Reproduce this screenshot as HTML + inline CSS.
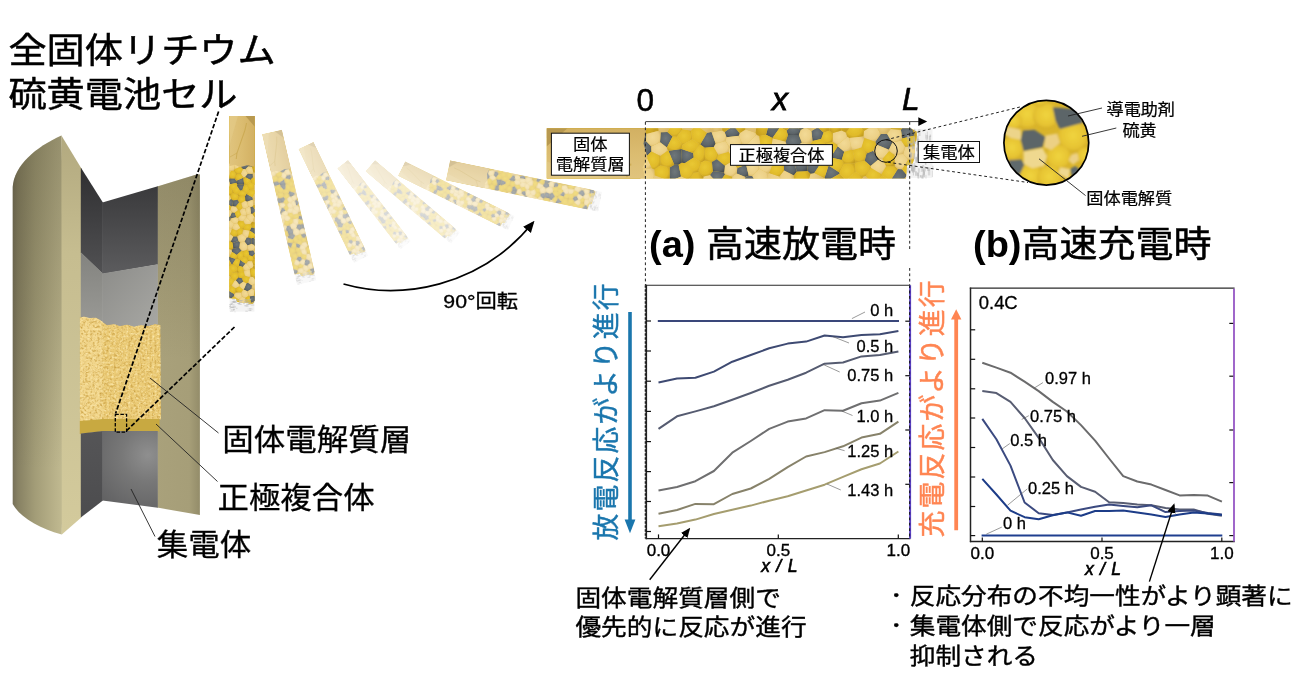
<!DOCTYPE html>
<html lang="ja"><head><meta charset="utf-8"><title>全固体リチウム硫黄電池セル</title>
<style>
html,body{margin:0;padding:0;background:#fff;}
body{width:1299px;height:688px;overflow:hidden;font-family:"Liberation Sans","Noto Sans CJK JP",sans-serif;}
svg{display:block;will-change:transform;}
</style></head><body>
<svg width="1299" height="688" viewBox="0 0 1299 688">
<rect width="1299" height="688" fill="#fff"/>
<defs>
<linearGradient id="gEl" x1="0" y1="0" x2="0" y2="1">
 <stop offset="0" stop-color="#d2b062"/><stop offset=".5" stop-color="#dbbc70"/><stop offset="1" stop-color="#e0c47e"/>
</linearGradient>
<radialGradient id="cy" cx=".45" cy=".42" r=".62"><stop offset="0" stop-color="#e9c832"/><stop offset=".7" stop-color="#e0ba2a"/><stop offset="1" stop-color="#c59e21"/></radialGradient>
<radialGradient id="cb" cx=".45" cy=".42" r=".62"><stop offset="0" stop-color="#f2da96"/><stop offset=".7" stop-color="#ecd086"/><stop offset="1" stop-color="#d9b868"/></radialGradient>
<radialGradient id="cg" cx=".45" cy=".42" r=".62"><stop offset="0" stop-color="#6f777b"/><stop offset=".7" stop-color="#5d6569"/><stop offset="1" stop-color="#4a5054"/></radialGradient>
<clipPath id="cpStrip"><polygon points="0.0,-25.2 364.0,-25.2 370.0,-22.0 370.5,-14.0 368.0,-10.0 368.3,-2.0 367.5,6.0 366.0,10.0 360.5,12.0 359.5,25.2 0.0,25.2"/></clipPath>
<filter id="fSoft" x="-5%" y="-20%" width="110%" height="140%"><feGaussianBlur stdDeviation="0.5"/></filter>
<linearGradient id="gShellL" gradientUnits="userSpaceOnUse" x1="12" y1="0" x2="62.4" y2="0">
 <stop offset="0" stop-color="#746e57"/><stop offset=".12" stop-color="#878163"/><stop offset=".45" stop-color="#a29c77"/>
 <stop offset=".85" stop-color="#b9b28a"/><stop offset="1" stop-color="#c1ba91"/>
</linearGradient>
<linearGradient id="gTopShade" gradientUnits="userSpaceOnUse" x1="0" y1="135" x2="0" y2="470">
 <stop offset="0" stop-color="#3a3520" stop-opacity=".3"/><stop offset=".5" stop-color="#3a3520" stop-opacity=".16"/><stop offset="1" stop-color="#3a3520" stop-opacity="0"/>
</linearGradient>
<linearGradient id="gTopShade2" gradientUnits="userSpaceOnUse" x1="0" y1="174" x2="0" y2="360">
 <stop offset="0" stop-color="#3a3520" stop-opacity=".2"/><stop offset="1" stop-color="#3a3520" stop-opacity="0"/>
</linearGradient>
<linearGradient id="gCut" gradientUnits="userSpaceOnUse" x1="0" y1="135" x2="0" y2="530">
 <stop offset="0" stop-color="#b2a97f"/><stop offset=".3" stop-color="#c6bd90"/><stop offset="1" stop-color="#d3ca9c"/>
</linearGradient>
<linearGradient id="gShellR" gradientUnits="userSpaceOnUse" x1="157" y1="0" x2="200" y2="0">
 <stop offset="0" stop-color="#a9a17b"/><stop offset=".75" stop-color="#a69e78"/><stop offset="1" stop-color="#938c69"/>
</linearGradient>
<linearGradient id="gDarkT" x1="0" y1="0" x2="0" y2="1">
 <stop offset="0" stop-color="#3a3a3c"/><stop offset="1" stop-color="#5c5c5e"/>
</linearGradient>
<linearGradient id="gDarkTL" x1="0" y1="0" x2="0" y2="1">
 <stop offset="0" stop-color="#2f2f31"/><stop offset="1" stop-color="#515153"/>
</linearGradient>
<linearGradient id="gMid" x1="0" y1="0" x2="1" y2="1">
 <stop offset="0" stop-color="#8c8c89"/><stop offset="1" stop-color="#a8a8a4"/>
</linearGradient>
<linearGradient id="gMidL" x1="0" y1="0" x2="0" y2="1">
 <stop offset="0" stop-color="#83837f"/><stop offset="1" stop-color="#9a9a96"/>
</linearGradient>
<radialGradient id="gCC" gradientUnits="userSpaceOnUse" cx="148" cy="455" r="75">
 <stop offset="0" stop-color="#8f8f8f"/><stop offset=".35" stop-color="#787878"/><stop offset="1" stop-color="#5a5a5c"/>
</radialGradient>
<linearGradient id="gCCL" x1="0" y1="0" x2="0" y2="1">
 <stop offset="0" stop-color="#555557"/><stop offset="1" stop-color="#4c4c4e"/>
</linearGradient>
<filter id="fGrain" x="0" y="0" width="100%" height="100%" color-interpolation-filters="sRGB">
 <feTurbulence type="fractalNoise" baseFrequency="0.42" numOctaves="2" seed="3" result="n"/>
 <feColorMatrix in="n" type="matrix" values="0 0 0 0 0.80  0 0 0 0 0.64  0 0 0 0 0.28  2.4 0 0 0 -1.05" result="d"/>
 <feColorMatrix in="n" type="matrix" values="0 0 0 0 0.98  0 0 0 0 0.90  0 0 0 0 0.66  0 -2.4 0 0 1.3" result="l"/>
 <feMerge result="m"><feMergeNode in="SourceGraphic"/><feMergeNode in="d"/><feMergeNode in="l"/></feMerge>
 <feComposite in="m" in2="SourceGraphic" operator="in"/>
</filter>
<filter id="fBlurC" x="-10%" y="-10%" width="120%" height="120%"><feGaussianBlur stdDeviation="1.1"/></filter>
<radialGradient id="gLobe" cx=".5" cy=".45" r=".55"><stop offset="0" stop-color="#f0d43e"/><stop offset=".75" stop-color="#e6c332"/><stop offset="1" stop-color="#d3ad28"/></radialGradient>
<clipPath id="cpBig"><circle cx="1046.3" cy="142.7" r="42.2"/></clipPath>
<marker id="mk" viewBox="0 0 10 10" refX="8" refY="5" markerWidth="7" markerHeight="7" orient="auto"><path d="M0,0.8 L10,5 L0,9.2 Z" fill="#000"/></marker>
</defs>

<g id="cell3d">
<path d="M12.7,187 C14,165 36,147 61.4,135.4 L62.4,180 L62.4,500 L61.8,534.5 C38,528 20,517 12.7,504 Z" fill="url(#gShellL)"/>
<path d="M12.7,187 C14,165 36,147 61.4,135.4 L62.4,180 L62.4,470 L12.7,470 Z" fill="url(#gTopShade)"/>
<polygon points="61.4,135.4 81.3,168.2 81.3,517.4 61.8,534.5" fill="url(#gCut)"/>
<polygon points="157.2,186.5 197.3,174.2 199.9,174.6 199.9,515 157.2,507.6" fill="url(#gShellR)"/>
<polygon points="157.2,186.5 197.3,174.2 199.9,174.6 199.9,360 157.2,360" fill="url(#gTopShade2)"/>
<polygon points="80.8,167.5 102.9,202.6 102.9,274 80.8,252.8" fill="url(#gDarkTL)"/>
<polygon points="102.4,202.6 157.8,186.3 157.8,264.6 102.4,274" fill="url(#gDarkT)"/>
<polygon points="80.8,252.3 102.9,273.5 102.9,327 80.8,324" fill="url(#gMidL)"/>
<polygon points="102.4,273.5 157.8,264.2 157.8,330 102.4,330" fill="url(#gMid)"/>
<g filter="url(#fGrain)"><path d="M102,321.5 L107,325 L114,324 L120,326 L127,324.5 L134,326.5 L141,325 L148,326 L155,324 L160.5,325 L161,419.5 L102,419.5 Z" fill="#ebcb76"/>
<path d="M79.8,317.5 L84,316.5 L90,318 L96,317.5 L102.6,321.5 L102.6,419.5 L79.8,421.5 Z" fill="#f1d58a"/></g>
<polygon points="79.8,421 102.3,419 159.5,419 159.5,431.5 102.3,431.5 79.8,434" fill="#c8a941"/>
<polygon points="80.8,433.5 102.9,431 102.9,500.5 80.8,517.6" fill="url(#gCCL)"/>
<polygon points="102.4,431 157.8,431 157.8,507.7 102.4,500.5" fill="url(#gCC)"/>
</g>
<g stroke="#000" stroke-width="1.7" fill="none" stroke-dasharray="4.6 2">
<line x1="218.6" y1="111.5" x2="115.6" y2="413.5"/>
<line x1="234.5" y1="327" x2="126.8" y2="430.5"/>
<rect x="115.3" y="414.3" width="11.3" height="17.8" stroke-width="1.3" stroke-dasharray="3.5 1.6"/>
</g>
<g stroke="#222" stroke-width="0.9" fill="none">
<line x1="150" y1="378" x2="218.5" y2="433"/>
<line x1="156" y1="424" x2="217.5" y2="481.5"/>
<line x1="131" y1="489" x2="155" y2="536.5"/>
</g>

<g transform="translate(242.0,116.0) rotate(90.0) scale(0.507)" opacity="1.00"><rect x="360" y="-24.5" width="26" height="49" fill="#e9e9e9" opacity=".55"/><g clip-path="url(#cpStrip)"><rect x="0" y="-26" width="372" height="52" fill="#e3c451"/>
<g filter="url(#fSoft)"><polygon points="120.4,-6.0 113.5,-11.2 114.2,-21.2 120.9,-21.5 126.1,-16.9" fill="url(#cg)"/><polygon points="158.2,-5.7 153.7,-8.9 153.7,-8.9 160.5,-20.6 164.5,-21.5 165.2,-21.2 169.2,-9.7 167.3,-6.5" fill="url(#cg)"/><polygon points="146.7,-0.5 135.0,-4.4 135.4,9.4 138.3,9.9 147.2,4.1" fill="url(#cg)"/><polygon points="127.7,11.4 132.1,11.4 134.6,23.0 123.2,28.0 123.0,27.6 123.2,14.1" fill="url(#cg)"/><polygon points="180.0,-16.2 192.6,-17.7 193.3,-20.2 187.0,-27.8 178.1,-21.4" fill="url(#cg)"/><polygon points="177.6,19.0 178.5,21.0 171.8,31.0 163.4,21.7 166.5,17.5" fill="url(#cg)"/><polygon points="226.0,-42.5 219.5,-18.7 226.0,-15.3 233.6,-26.1" fill="url(#cg)"/><polygon points="252.4,-18.5 241.4,-18.3 239.0,-11.7 240.1,-8.7 247.6,-4.7 255.4,-11.0" fill="url(#cg)"/><polygon points="277.1,-20.8 271.2,-26.1 264.9,-22.3 266.0,-12.5 274.7,-14.4" fill="url(#cg)"/><polygon points="284.2,3.6 284.3,4.0 295.2,6.5 297.8,-1.6 291.2,-7.1" fill="url(#cg)"/><polygon points="293.0,19.0 293.2,20.3 280.0,27.9 277.9,24.5 282.1,12.1" fill="url(#cg)"/><polygon points="332.5,5.5 326.7,-2.6 320.0,0.1 318.1,7.3 324.1,12.5" fill="url(#cg)"/><polygon points="340.6,-19.4 334.2,-19.5 328.8,-11.7 329.7,-8.9 342.4,-3.6 345.9,-10.9" fill="url(#cg)"/><polygon points="355.7,-15.0 368.3,-17.8 365.4,-25.4 355.8,-25.4 354.4,-23.6" fill="url(#cg)"/><polygon points="202.2,22.1 199.6,11.2 190.8,14.5 190.1,20.1 198.9,23.7" fill="url(#cg)"/><polygon points="237.5,17.1 237.4,9.3 246.6,6.7 250.4,18.2 247.4,22.0" fill="url(#cg)"/><polygon points="351.3,15.5 343.8,27.4 348.6,39.6 360.5,21.8 355.5,15.8" fill="url(#cg)"/><polygon points="282.9,-22.7 282.3,-63.2 281.0,-71.8 271.2,-26.1 277.1,-20.8" fill="url(#cy)"/><polygon points="187.0,-27.8 193.0,-84.6 199.2,-24.0 193.3,-20.2" fill="url(#cy)"/><polygon points="92.5,-9.0 91.4,3.4 99.9,3.1 104.9,-1.9 104.8,-7.0 99.5,-12.5" fill="url(#cg)"/><polygon points="121.5,-2.8 113.9,2.7 104.9,-1.9 104.8,-7.0 113.5,-11.2 120.4,-6.0" fill="url(#cb)"/><polygon points="277.9,24.5 280.0,27.9 263.3,612.2 255.6,753.5 245.5,369.5 248.1,76.8 264.0,20.3 267.9,19.7" fill="url(#cb)"/><polygon points="202.2,22.1 205.8,22.7 215.5,38.9 245.5,369.5 255.6,753.5 254.8,852.3 250.0,860.5 167.2,736.8 190.7,51.6 198.9,23.7" fill="url(#cg)"/><polygon points="130.3,-16.6 136.1,-24.2 128.8,-35.9 120.9,-21.5 126.1,-16.9" fill="url(#cy)"/><polygon points="317.8,-15.3 328.8,-11.7 334.2,-19.5 328.5,-29.1 317.4,-22.3 316.9,-16.9" fill="url(#cb)"/><polygon points="274.7,-14.4 266.0,-12.5 263.9,-9.6 266.5,-0.8 277.9,-2.5 280.0,-9.8" fill="url(#cy)"/><polygon points="102.8,-109.9 95.2,-24.5 99.9,-19.4 112.3,-22.7" fill="url(#cy)"/><polygon points="170.3,5.9 178.4,12.3 185.7,7.9 186.4,4.7 182.1,-1.7 171.8,1.3" fill="url(#cy)"/><polygon points="286.3,-20.4 295.1,-22.9 299.4,-20.8 300.8,-16.7 290.9,-8.5 286.1,-11.7" fill="url(#cb)"/><polygon points="237.5,17.1 247.4,22.0 247.4,72.0 232.8,23.2" fill="url(#cb)"/><polygon points="299.4,-20.8 308.6,-32.3 317.4,-22.3 316.9,-16.9 302.6,-15.4 300.8,-16.7" fill="url(#cy)"/><polygon points="105.4,14.8 93.5,16.3 89.8,4.5 91.4,3.4 99.9,3.1" fill="url(#cb)"/><polygon points="261.3,17.5 250.4,18.2 247.4,22.0 247.4,72.0 248.1,76.8 264.0,20.3" fill="url(#cy)"/><polygon points="263.9,-9.6 266.5,-0.8 265.9,1.0 260.0,5.8 249.2,3.8 247.6,-4.7 255.4,-11.0" fill="url(#cb)"/><polygon points="371.7,1.6 366.8,6.1 361.6,6.3 356.7,0.5 358.8,-6.7 368.2,-7.2 371.9,-2.2" fill="url(#cb)"/><polygon points="324.5,14.4 319.1,22.8 327.6,30.7 335.4,22.2 334.9,20.5" fill="url(#cy)"/><polygon points="214.2,-5.7 207.4,-2.4 199.1,-8.3 210.0,-18.6 212.9,-17.4" fill="url(#cb)"/><polygon points="135.9,-8.4 145.8,-14.2 144.5,-23.0 136.1,-24.2 130.3,-16.6" fill="url(#cy)"/><polygon points="220.7,3.3 222.0,-1.1 224.1,-2.3 232.6,-0.7 237.2,9.2 226.0,11.5" fill="url(#cy)"/><polygon points="92.5,-9.0 91.4,3.4 89.8,4.5 -343.0,-5.0 73.1,-16.7" fill="url(#cy)"/><polygon points="274.1,10.2 265.9,1.0 260.0,5.8 261.3,17.5 264.0,20.3 267.9,19.7" fill="url(#cg)"/><polygon points="339.6,12.9 348.4,12.8 351.3,15.5 343.8,27.4 335.4,22.2 334.9,20.5" fill="url(#cy)"/><polygon points="335.8,5.6 342.6,-2.5 348.2,1.6 348.4,12.8 339.6,12.9" fill="url(#cy)"/><polygon points="335.4,22.2 343.8,27.4 348.6,39.6 356.8,705.8 320.2,757.6 327.6,30.7" fill="url(#cy)"/><polygon points="121.9,-2.6 127.7,11.4 132.1,11.4 135.4,9.4 135.0,-4.4 135.0,-4.5" fill="url(#cg)"/><polygon points="158.2,-5.7 153.7,-8.9 146.7,-0.5 147.2,4.1 154.7,9.2 158.6,7.0" fill="url(#cy)"/><polygon points="299.5,27.1 293.2,20.3 280.0,27.9 263.3,612.2 303.0,52.0" fill="url(#cy)"/><polygon points="360.5,21.8 365.5,22.7 568.4,418.0 356.8,705.8 348.6,39.6" fill="url(#cb)"/><polygon points="153.7,-8.9 160.5,-20.6 149.4,-28.3 144.5,-23.0 145.8,-14.2" fill="url(#cy)"/><polygon points="332.5,5.5 326.7,-2.6 329.7,-8.9 342.4,-3.6 342.6,-2.5 335.8,5.6" fill="url(#cb)"/><polygon points="309.0,18.3 308.1,10.2 309.0,9.1 318.1,7.3 324.1,12.5 324.5,14.4 319.1,22.8 316.8,23.3" fill="url(#cy)"/><polygon points="132.1,11.4 134.6,23.0 141.7,26.5 147.7,19.4 138.3,9.9 135.4,9.4" fill="url(#cy)"/><polygon points="361.6,6.3 355.5,15.8 360.5,21.8 365.5,22.7 371.4,16.9 366.8,6.1" fill="url(#cy)"/><polygon points="371.7,1.6 399.5,16.9 371.4,16.9 366.8,6.1" fill="url(#cy)"/><polygon points="254.3,-23.5 246.4,-29.5 240.0,-22.7 241.4,-18.3 252.4,-18.5" fill="url(#cg)"/><polygon points="212.8,15.4 205.8,22.7 215.5,38.9 221.8,20.0" fill="url(#cb)"/><polygon points="180.0,-16.2 179.1,-12.5 169.2,-9.7 165.2,-21.2 175.8,-22.9 178.1,-21.4" fill="url(#cb)"/><polygon points="182.9,-6.0 195.4,-9.7 197.6,-8.1 194.9,2.1 186.4,4.7 182.1,-1.7" fill="url(#cb)"/><polygon points="354.8,-12.9 358.8,-6.7 356.7,0.5 348.2,1.6 342.6,-2.5 342.4,-3.6 345.9,-10.9" fill="url(#cb)"/><polygon points="226.0,-42.5 219.8,-86.1 199.1,-630.2 196.6,-763.1 196.8,-779.6 222.8,-820.5 246.4,-29.5 240.0,-22.7 233.6,-26.1" fill="url(#cy)"/><polygon points="103.1,-319.1 92.0,-636.6 196.8,-779.6 196.6,-763.1 167.0,-165.2 149.4,-28.3 144.5,-23.0 136.1,-24.2 128.8,-35.9" fill="url(#cb)"/><polygon points="309.0,9.1 318.1,7.3 320.0,0.1 314.9,-6.0 306.1,-3.4" fill="url(#cy)"/><polygon points="299.5,27.1 309.0,18.3 316.8,23.3 303.0,52.0" fill="url(#cy)"/><polygon points="221.8,20.0 215.5,38.9 245.5,369.5 248.1,76.8 247.4,72.0 232.8,23.2 222.7,19.6" fill="url(#cb)"/><polygon points="226.0,-42.5 219.8,-86.1 208.9,-20.6 210.0,-18.6 212.9,-17.4 219.5,-18.7" fill="url(#cy)"/><polygon points="151.5,18.5 147.7,19.4 141.7,26.5 149.5,193.7 157.2,23.0" fill="url(#cy)"/><polygon points="211.2,9.3 206.9,6.9 207.4,-2.4 214.2,-5.7 222.0,-1.1 220.7,3.3" fill="url(#cy)"/><polygon points="282.3,-63.2 295.1,-22.9 299.4,-20.8 308.6,-32.3 281.5,-637.0 277.3,-209.7 281.0,-71.8" fill="url(#cy)"/><polygon points="368.3,-17.8 370.2,-16.6 415.1,-26.1 771.8,-148.6 569.6,-416.0 365.4,-25.4" fill="url(#cy)"/><polygon points="260.0,5.8 249.2,3.8 246.6,6.7 250.4,18.2 261.3,17.5" fill="url(#cg)"/><polygon points="340.6,-19.4 334.2,-19.5 328.5,-29.1 336.4,-67.1 344.4,-24.5" fill="url(#cb)"/><polygon points="219.5,-18.7 212.9,-17.4 214.2,-5.7 222.0,-1.1 224.1,-2.3 226.3,-14.9 226.0,-15.3" fill="url(#cy)"/><polygon points="92.5,-9.0 99.5,-12.5 99.9,-19.4 95.2,-24.5 73.1,-16.7" fill="url(#cg)"/><polygon points="297.8,-1.6 305.4,-3.8 306.1,-3.4 309.0,9.1 308.1,10.2 297.6,10.3 295.2,6.5" fill="url(#cy)"/><polygon points="113.8,11.8 107.8,16.1 108.2,22.1 123.0,27.6 123.2,14.1" fill="url(#cy)"/><polygon points="197.6,-8.1 199.1,-8.3 207.4,-2.4 206.9,6.9 201.2,8.2 194.9,2.1" fill="url(#cb)"/><polygon points="371.9,-2.2 415.1,-26.1 370.2,-16.6 368.2,-7.2" fill="url(#cb)"/><polygon points="157.2,23.0 149.5,193.7 153.8,717.9 166.1,735.2 171.8,31.0 163.4,21.7" fill="url(#cb)"/><polygon points="233.6,-26.1 240.0,-22.7 241.4,-18.3 239.0,-11.7 226.3,-14.9 226.0,-15.3" fill="url(#cy)"/><polygon points="107.8,16.1 108.2,22.1 98.8,37.8 91.8,19.1 93.5,16.3 105.4,14.8" fill="url(#cb)"/><polygon points="232.6,-0.7 240.1,-8.7 247.6,-4.7 249.2,3.8 246.6,6.7 237.4,9.3 237.2,9.2" fill="url(#cb)"/><polygon points="114.2,-21.2 113.5,-11.2 104.8,-7.0 99.5,-12.5 99.9,-19.4 112.3,-22.7" fill="url(#cb)"/><polygon points="158.6,7.0 154.7,9.2 151.5,18.5 157.2,23.0 163.4,21.7 166.5,17.5 165.4,8.7" fill="url(#cy)"/><polygon points="277.3,-209.7 259.0,-26.0 254.3,-23.5 246.4,-29.5 222.8,-820.5 250.0,-864.1 280.1,-816.2 281.5,-637.0" fill="url(#cg)"/><polygon points="284.3,4.0 281.2,10.0 282.1,12.1 293.0,19.0 297.6,10.3 295.2,6.5" fill="url(#cy)"/><polygon points="354.8,-12.9 345.9,-10.9 340.6,-19.4 344.4,-24.5 354.4,-23.6 355.7,-15.0" fill="url(#cb)"/><polygon points="121.9,-2.6 135.0,-4.5 135.9,-8.4 130.3,-16.6 126.1,-16.9 120.4,-6.0 121.5,-2.8" fill="url(#cy)"/><polygon points="158.2,-5.7 158.6,7.0 165.4,8.7 170.3,5.9 171.8,1.3 167.3,-6.5" fill="url(#cy)"/><polygon points="175.8,-22.9 167.7,-131.8 164.5,-21.5 165.2,-21.2" fill="url(#cb)"/><polygon points="180.0,-16.2 179.1,-12.5 182.9,-6.0 195.4,-9.7 192.6,-17.7" fill="url(#cb)"/><polygon points="193.3,-20.2 199.2,-24.0 208.9,-20.6 210.0,-18.6 199.1,-8.3 197.6,-8.1 195.4,-9.7 192.6,-17.7" fill="url(#cb)"/><polygon points="286.1,-11.7 290.9,-8.5 291.2,-7.1 284.2,3.6 277.9,-2.5 280.0,-9.8" fill="url(#cy)"/><polygon points="344.4,-24.5 336.4,-67.1 343.5,-203.0 355.8,-25.4 354.4,-23.6" fill="url(#cy)"/><polygon points="371.4,16.9 365.5,22.7 568.4,418.0 802.0,110.9 399.5,16.9" fill="url(#cb)"/><polygon points="98.8,37.8 10.2,530.2 -371.7,57.7 91.8,19.1" fill="url(#cy)"/><polygon points="121.9,-2.6 127.7,11.4 123.2,14.1 113.8,11.8 113.9,2.7 121.5,-2.8" fill="url(#cy)"/><polygon points="297.6,10.3 308.1,10.2 309.0,18.3 299.5,27.1 293.2,20.3 293.0,19.0" fill="url(#cy)"/><polygon points="102.8,-109.9 95.2,-24.5 73.1,-16.7 -343.0,-5.0 -415.5,-4.5 92.0,-636.6 103.1,-319.1" fill="url(#cy)"/><polygon points="264.9,-22.3 266.0,-12.5 263.9,-9.6 255.4,-11.0 252.4,-18.5 254.3,-23.5 259.0,-26.0" fill="url(#cb)"/><polygon points="284.2,3.6 284.3,4.0 281.2,10.0 274.1,10.2 265.9,1.0 266.5,-0.8 277.9,-2.5" fill="url(#cy)"/><polygon points="190.8,14.5 185.7,7.9 178.4,12.3 177.6,19.0 178.5,21.0 185.6,23.3 190.1,20.1" fill="url(#cb)"/><polygon points="332.5,5.5 324.1,12.5 324.5,14.4 334.9,20.5 339.6,12.9 335.8,5.6" fill="url(#cb)"/><polygon points="102.8,-109.9 112.3,-22.7 114.2,-21.2 120.9,-21.5 128.8,-35.9 103.1,-319.1" fill="url(#cb)"/><polygon points="185.6,23.3 190.7,51.6 167.2,736.8 166.1,735.2 171.8,31.0 178.5,21.0" fill="url(#cy)"/><polygon points="212.8,15.4 205.8,22.7 202.2,22.1 199.6,11.2 201.2,8.2 206.9,6.9 211.2,9.3" fill="url(#cb)"/><polygon points="317.8,-15.3 328.8,-11.7 329.7,-8.9 326.7,-2.6 320.0,0.1 314.9,-6.0" fill="url(#cy)"/><polygon points="93.5,16.3 91.8,19.1 -371.7,57.7 -419.5,-0.0 -415.5,-4.5 -343.0,-5.0 89.8,4.5" fill="url(#cy)"/><polygon points="198.9,23.7 190.7,51.6 185.6,23.3 190.1,20.1" fill="url(#cb)"/><polygon points="361.6,6.3 355.5,15.8 351.3,15.5 348.4,12.8 348.2,1.6 356.7,0.5" fill="url(#cb)"/><polygon points="141.7,26.5 149.5,193.7 153.8,717.9 145.9,707.3 123.2,28.0 134.6,23.0" fill="url(#cb)"/><polygon points="160.5,-20.6 149.4,-28.3 167.0,-165.2 167.7,-131.8 164.5,-21.5" fill="url(#cb)"/><polygon points="300.8,-16.7 302.6,-15.4 305.4,-3.8 297.8,-1.6 291.2,-7.1 290.9,-8.5" fill="url(#cb)"/><polygon points="199.2,-24.0 208.9,-20.6 219.8,-86.1 199.1,-630.2 193.0,-84.6" fill="url(#cb)"/><polygon points="113.9,2.7 104.9,-1.9 99.9,3.1 105.4,14.8 107.8,16.1 113.8,11.8" fill="url(#cy)"/><polygon points="146.7,-0.5 135.0,-4.4 135.0,-4.5 135.9,-8.4 145.8,-14.2 153.7,-8.9 153.7,-8.9" fill="url(#cy)"/><polygon points="281.5,-637.0 280.1,-816.2 353.3,-710.0 343.5,-203.0 336.4,-67.1 328.5,-29.1 317.4,-22.3 308.6,-32.3" fill="url(#cy)"/><polygon points="212.8,15.4 221.8,20.0 222.7,19.6 226.0,11.5 220.7,3.3 211.2,9.3" fill="url(#cb)"/><polygon points="123.0,27.6 108.2,22.1 98.8,37.8 10.2,530.2 145.9,707.3 123.2,28.0" fill="url(#cb)"/><polygon points="167.3,-6.5 169.2,-9.7 179.1,-12.5 182.9,-6.0 182.1,-1.7 171.8,1.3" fill="url(#cb)"/><polygon points="199.6,11.2 201.2,8.2 194.9,2.1 186.4,4.7 185.7,7.9 190.8,14.5" fill="url(#cy)"/><polygon points="147.2,4.1 138.3,9.9 147.7,19.4 151.5,18.5 154.7,9.2" fill="url(#cy)"/><polygon points="302.6,-15.4 316.9,-16.9 317.8,-15.3 314.9,-6.0 306.1,-3.4 305.4,-3.8" fill="url(#cb)"/><polygon points="178.1,-21.4 175.8,-22.9 167.7,-131.8 167.0,-165.2 196.6,-763.1 199.1,-630.2 193.0,-84.6 187.0,-27.8" fill="url(#cy)"/><polygon points="224.1,-2.3 232.6,-0.7 240.1,-8.7 239.0,-11.7 226.3,-14.9" fill="url(#cb)"/><polygon points="281.0,-71.8 277.3,-209.7 259.0,-26.0 264.9,-22.3 271.2,-26.1" fill="url(#cb)"/><polygon points="222.7,19.6 232.8,23.2 237.5,17.1 237.4,9.3 237.2,9.2 226.0,11.5" fill="url(#cy)"/><polygon points="282.1,12.1 277.9,24.5 267.9,19.7 274.1,10.2 281.2,10.0" fill="url(#cy)"/><polygon points="282.9,-22.7 277.1,-20.8 274.7,-14.4 280.0,-9.8 286.1,-11.7 286.3,-20.4" fill="url(#cy)"/><polygon points="354.8,-12.9 358.8,-6.7 368.2,-7.2 370.2,-16.6 368.3,-17.8 355.7,-15.0" fill="url(#cy)"/><polygon points="170.3,5.9 178.4,12.3 177.6,19.0 166.5,17.5 165.4,8.7" fill="url(#cg)"/><polygon points="282.9,-22.7 282.3,-63.2 295.1,-22.9 286.3,-20.4" fill="url(#cy)"/><polygon points="371.7,1.6 399.5,16.9 802.0,110.9 891.6,-0.0 771.8,-148.6 415.1,-26.1 371.9,-2.2" fill="url(#cb)"/><polygon points="303.0,52.0 263.3,612.2 255.6,753.5 254.8,852.3 320.2,757.6 327.6,30.7 319.1,22.8 316.8,23.3" fill="url(#cb)"/></g>
<polygon points="0,-25.2 92,-25.2 100,-25.2 97,-10 101,4 96,14 99,25.2 0,25.2" fill="url(#gEl)"/>
<polygon points="0,-25.2 21,-25.2 0,-7" fill="#b3944c" opacity=".85"/>
<polyline points="13.8,-8.9 27.6,-5.9 73,9.9 84.8,11.4" fill="none" stroke="#c4a347" stroke-width="2" opacity=".65"/>
<polyline points="80.9,23.7 73,9.9" fill="none" stroke="#c4a347" stroke-width="1.6" opacity=".55"/>
<polygon points="0,25.2 0,8 60,25.2" fill="#e6cd8c" opacity=".5"/>
</g>
<rect x="375.7" y="11.6" width="1.9" height="2.4" fill="#b5b5b5" opacity="0.47"/><rect x="367.8" y="12.0" width="0.9" height="7.0" fill="#b5b5b5" opacity="0.61"/><rect x="369.5" y="-5.8" width="1.4" height="3.7" fill="#b5b5b5" opacity="0.68"/><rect x="371.7" y="-24.1" width="2.3" height="6.7" fill="#b5b5b5" opacity="0.48"/><rect x="377.0" y="18.4" width="1.5" height="3.0" fill="#b5b5b5" opacity="0.49"/><rect x="361.6" y="-9.5" width="1.1" height="3.2" fill="#b5b5b5" opacity="0.40"/><rect x="377.4" y="13.2" width="2.1" height="4.8" fill="#b5b5b5" opacity="0.40"/><rect x="365.8" y="16.7" width="1.0" height="2.8" fill="#b5b5b5" opacity="0.64"/><rect x="373.1" y="-11.2" width="2.3" height="6.5" fill="#b5b5b5" opacity="0.55"/><rect x="385.6" y="12.4" width="1.4" height="3.1" fill="#b5b5b5" opacity="0.36"/><rect x="384.1" y="-11.6" width="1.6" height="5.1" fill="#b5b5b5" opacity="0.57"/><rect x="365.3" y="-15.6" width="0.9" height="6.1" fill="#b5b5b5" opacity="0.53"/><rect x="364.5" y="10.6" width="1.9" height="6.8" fill="#b5b5b5" opacity="0.61"/><rect x="367.8" y="-24.6" width="0.9" height="4.8" fill="#b5b5b5" opacity="0.69"/><rect x="360.3" y="-19.1" width="1.5" height="5.3" fill="#b5b5b5" opacity="0.52"/><rect x="360.3" y="14.1" width="2.4" height="5.1" fill="#b5b5b5" opacity="0.46"/><rect x="361.1" y="-17.5" width="1.0" height="6.8" fill="#b5b5b5" opacity="0.46"/><rect x="377.2" y="17.3" width="1.2" height="6.5" fill="#b5b5b5" opacity="0.51"/><rect x="380.8" y="14.0" width="2.4" height="3.6" fill="#b5b5b5" opacity="0.62"/><rect x="362.2" y="-9.8" width="1.4" height="5.1" fill="#b5b5b5" opacity="0.67"/><rect x="381.4" y="15.7" width="2.4" height="6.3" fill="#b5b5b5" opacity="0.42"/><rect x="364.5" y="14.1" width="1.9" height="3.8" fill="#b5b5b5" opacity="0.41"/><rect x="361.3" y="-18.1" width="1.4" height="3.5" fill="#b5b5b5" opacity="0.65"/><rect x="370.8" y="0.9" width="2.0" height="6.6" fill="#b5b5b5" opacity="0.30"/><rect x="385.4" y="17.1" width="1.0" height="6.5" fill="#b5b5b5" opacity="0.41"/><rect x="376.4" y="16.3" width="1.3" height="6.9" fill="#b5b5b5" opacity="0.39"/><rect x="382.4" y="-17.6" width="1.9" height="4.9" fill="#b5b5b5" opacity="0.56"/><rect x="366.0" y="13.4" width="1.7" height="4.6" fill="#b5b5b5" opacity="0.54"/><rect x="370.5" y="0.5" width="1.5" height="5.7" fill="#b5b5b5" opacity="0.32"/><rect x="375.6" y="14.3" width="2.1" height="2.8" fill="#b5b5b5" opacity="0.50"/><rect x="375.9" y="16.5" width="1.8" height="2.6" fill="#b5b5b5" opacity="0.56"/><rect x="368.9" y="3.8" width="1.8" height="5.6" fill="#b5b5b5" opacity="0.68"/><rect x="365.5" y="-7.7" width="2.4" height="3.6" fill="#b5b5b5" opacity="0.59"/><rect x="379.1" y="-18.4" width="2.4" height="4.9" fill="#b5b5b5" opacity="0.40"/><rect x="366.6" y="13.9" width="2.2" height="4.5" fill="#b5b5b5" opacity="0.41"/><rect x="370.6" y="19.2" width="2.0" height="3.5" fill="#b5b5b5" opacity="0.60"/><rect x="365.0" y="11.5" width="2.3" height="6.5" fill="#b5b5b5" opacity="0.38"/><rect x="378.8" y="-20.1" width="0.9" height="5.2" fill="#b5b5b5" opacity="0.34"/><rect x="366.8" y="-17.0" width="1.7" height="6.8" fill="#b5b5b5" opacity="0.63"/><rect x="361.4" y="-7.4" width="1.6" height="2.9" fill="#b5b5b5" opacity="0.42"/><rect x="373.5" y="21.7" width="1.0" height="2.3" fill="#b5b5b5" opacity="0.61"/><rect x="374.3" y="12.8" width="1.6" height="5.7" fill="#b5b5b5" opacity="0.42"/><rect x="374.7" y="-13.0" width="1.4" height="5.6" fill="#b5b5b5" opacity="0.35"/><rect x="360.9" y="-11.6" width="1.1" height="2.7" fill="#b5b5b5" opacity="0.41"/><rect x="368.7" y="17.9" width="1.6" height="4.5" fill="#b5b5b5" opacity="0.65"/><rect x="371.2" y="-13.8" width="2.4" height="4.4" fill="#b5b5b5" opacity="0.34"/><rect x="362.1" y="-17.3" width="1.1" height="2.7" fill="#b5b5b5" opacity="0.44"/><rect x="378.8" y="21.5" width="1.3" height="3.7" fill="#b5b5b5" opacity="0.33"/><rect x="369.0" y="3.1" width="1.8" height="4.6" fill="#b5b5b5" opacity="0.31"/><rect x="370.8" y="-17.6" width="1.2" height="5.0" fill="#b5b5b5" opacity="0.69"/><rect x="380.1" y="-13.4" width="1.0" height="2.8" fill="#b5b5b5" opacity="0.38"/><rect x="362.5" y="-4.1" width="0.8" height="4.2" fill="#b5b5b5" opacity="0.59"/><rect x="375.6" y="20.0" width="2.0" height="5.2" fill="#b5b5b5" opacity="0.37"/><rect x="366.9" y="9.6" width="1.8" height="5.5" fill="#b5b5b5" opacity="0.35"/><rect x="370.9" y="19.1" width="1.1" height="5.9" fill="#b5b5b5" opacity="0.54"/><rect x="363.2" y="-1.1" width="1.7" height="5.6" fill="#b5b5b5" opacity="0.66"/><rect x="362.5" y="-16.1" width="2.1" height="6.9" fill="#b5b5b5" opacity="0.36"/><rect x="380.4" y="-21.8" width="0.8" height="7.0" fill="#b5b5b5" opacity="0.61"/><rect x="371.4" y="14.9" width="1.9" height="4.3" fill="#b5b5b5" opacity="0.42"/><rect x="374.3" y="21.9" width="2.2" height="3.1" fill="#b5b5b5" opacity="0.55"/><rect x="383.2" y="-18.8" width="1.4" height="2.4" fill="#b5b5b5" opacity="0.53"/><rect x="360.3" y="8.9" width="2.0" height="3.3" fill="#b5b5b5" opacity="0.37"/><rect x="363.1" y="3.3" width="1.3" height="4.0" fill="#b5b5b5" opacity="0.56"/><rect x="364.4" y="-0.5" width="1.3" height="4.4" fill="#b5b5b5" opacity="0.56"/><rect x="378.4" y="9.2" width="1.5" height="2.1" fill="#b5b5b5" opacity="0.69"/><rect x="371.5" y="22.0" width="1.4" height="3.2" fill="#b5b5b5" opacity="0.37"/><rect x="363.9" y="9.6" width="1.2" height="2.3" fill="#b5b5b5" opacity="0.50"/><rect x="376.7" y="15.9" width="1.0" height="6.0" fill="#b5b5b5" opacity="0.32"/><rect x="367.1" y="-0.1" width="1.5" height="6.0" fill="#b5b5b5" opacity="0.57"/><rect x="365.0" y="-10.9" width="2.3" height="5.3" fill="#b5b5b5" opacity="0.31"/><rect x="370.3" y="-14.8" width="1.9" height="6.5" fill="#b5b5b5" opacity="0.61"/><rect x="363.3" y="6.5" width="1.5" height="5.0" fill="#b5b5b5" opacity="0.65"/><rect x="367.6" y="-12.3" width="1.6" height="2.9" fill="#b5b5b5" opacity="0.64"/><rect x="363.6" y="-10.4" width="2.3" height="2.1" fill="#b5b5b5" opacity="0.69"/><rect x="366.4" y="17.0" width="0.9" height="5.1" fill="#b5b5b5" opacity="0.64"/></g>
<g transform="translate(272.0,132.0) rotate(77.0) scale(0.400)" opacity="0.60"><rect x="360" y="-24.5" width="26" height="49" fill="#e9e9e9" opacity=".55"/><g clip-path="url(#cpStrip)"><rect x="0" y="-26" width="372" height="52" fill="#e3c451"/>
<g filter="url(#fSoft)"><polygon points="120.4,-6.0 113.5,-11.2 114.2,-21.2 120.9,-21.5 126.1,-16.9" fill="url(#cg)"/><polygon points="158.2,-5.7 153.7,-8.9 153.7,-8.9 160.5,-20.6 164.5,-21.5 165.2,-21.2 169.2,-9.7 167.3,-6.5" fill="url(#cg)"/><polygon points="146.7,-0.5 135.0,-4.4 135.4,9.4 138.3,9.9 147.2,4.1" fill="url(#cg)"/><polygon points="127.7,11.4 132.1,11.4 134.6,23.0 123.2,28.0 123.0,27.6 123.2,14.1" fill="url(#cg)"/><polygon points="180.0,-16.2 192.6,-17.7 193.3,-20.2 187.0,-27.8 178.1,-21.4" fill="url(#cg)"/><polygon points="177.6,19.0 178.5,21.0 171.8,31.0 163.4,21.7 166.5,17.5" fill="url(#cg)"/><polygon points="226.0,-42.5 219.5,-18.7 226.0,-15.3 233.6,-26.1" fill="url(#cg)"/><polygon points="252.4,-18.5 241.4,-18.3 239.0,-11.7 240.1,-8.7 247.6,-4.7 255.4,-11.0" fill="url(#cg)"/><polygon points="277.1,-20.8 271.2,-26.1 264.9,-22.3 266.0,-12.5 274.7,-14.4" fill="url(#cg)"/><polygon points="284.2,3.6 284.3,4.0 295.2,6.5 297.8,-1.6 291.2,-7.1" fill="url(#cg)"/><polygon points="293.0,19.0 293.2,20.3 280.0,27.9 277.9,24.5 282.1,12.1" fill="url(#cg)"/><polygon points="332.5,5.5 326.7,-2.6 320.0,0.1 318.1,7.3 324.1,12.5" fill="url(#cg)"/><polygon points="340.6,-19.4 334.2,-19.5 328.8,-11.7 329.7,-8.9 342.4,-3.6 345.9,-10.9" fill="url(#cg)"/><polygon points="355.7,-15.0 368.3,-17.8 365.4,-25.4 355.8,-25.4 354.4,-23.6" fill="url(#cg)"/><polygon points="202.2,22.1 199.6,11.2 190.8,14.5 190.1,20.1 198.9,23.7" fill="url(#cg)"/><polygon points="237.5,17.1 237.4,9.3 246.6,6.7 250.4,18.2 247.4,22.0" fill="url(#cg)"/><polygon points="351.3,15.5 343.8,27.4 348.6,39.6 360.5,21.8 355.5,15.8" fill="url(#cg)"/><polygon points="282.9,-22.7 282.3,-63.2 281.0,-71.8 271.2,-26.1 277.1,-20.8" fill="url(#cy)"/><polygon points="187.0,-27.8 193.0,-84.6 199.2,-24.0 193.3,-20.2" fill="url(#cy)"/><polygon points="92.5,-9.0 91.4,3.4 99.9,3.1 104.9,-1.9 104.8,-7.0 99.5,-12.5" fill="url(#cg)"/><polygon points="121.5,-2.8 113.9,2.7 104.9,-1.9 104.8,-7.0 113.5,-11.2 120.4,-6.0" fill="url(#cb)"/><polygon points="277.9,24.5 280.0,27.9 263.3,612.2 255.6,753.5 245.5,369.5 248.1,76.8 264.0,20.3 267.9,19.7" fill="url(#cb)"/><polygon points="202.2,22.1 205.8,22.7 215.5,38.9 245.5,369.5 255.6,753.5 254.8,852.3 250.0,860.5 167.2,736.8 190.7,51.6 198.9,23.7" fill="url(#cg)"/><polygon points="130.3,-16.6 136.1,-24.2 128.8,-35.9 120.9,-21.5 126.1,-16.9" fill="url(#cy)"/><polygon points="317.8,-15.3 328.8,-11.7 334.2,-19.5 328.5,-29.1 317.4,-22.3 316.9,-16.9" fill="url(#cb)"/><polygon points="274.7,-14.4 266.0,-12.5 263.9,-9.6 266.5,-0.8 277.9,-2.5 280.0,-9.8" fill="url(#cy)"/><polygon points="102.8,-109.9 95.2,-24.5 99.9,-19.4 112.3,-22.7" fill="url(#cy)"/><polygon points="170.3,5.9 178.4,12.3 185.7,7.9 186.4,4.7 182.1,-1.7 171.8,1.3" fill="url(#cy)"/><polygon points="286.3,-20.4 295.1,-22.9 299.4,-20.8 300.8,-16.7 290.9,-8.5 286.1,-11.7" fill="url(#cb)"/><polygon points="237.5,17.1 247.4,22.0 247.4,72.0 232.8,23.2" fill="url(#cb)"/><polygon points="299.4,-20.8 308.6,-32.3 317.4,-22.3 316.9,-16.9 302.6,-15.4 300.8,-16.7" fill="url(#cy)"/><polygon points="105.4,14.8 93.5,16.3 89.8,4.5 91.4,3.4 99.9,3.1" fill="url(#cb)"/><polygon points="261.3,17.5 250.4,18.2 247.4,22.0 247.4,72.0 248.1,76.8 264.0,20.3" fill="url(#cy)"/><polygon points="263.9,-9.6 266.5,-0.8 265.9,1.0 260.0,5.8 249.2,3.8 247.6,-4.7 255.4,-11.0" fill="url(#cb)"/><polygon points="371.7,1.6 366.8,6.1 361.6,6.3 356.7,0.5 358.8,-6.7 368.2,-7.2 371.9,-2.2" fill="url(#cb)"/><polygon points="324.5,14.4 319.1,22.8 327.6,30.7 335.4,22.2 334.9,20.5" fill="url(#cy)"/><polygon points="214.2,-5.7 207.4,-2.4 199.1,-8.3 210.0,-18.6 212.9,-17.4" fill="url(#cb)"/><polygon points="135.9,-8.4 145.8,-14.2 144.5,-23.0 136.1,-24.2 130.3,-16.6" fill="url(#cy)"/><polygon points="220.7,3.3 222.0,-1.1 224.1,-2.3 232.6,-0.7 237.2,9.2 226.0,11.5" fill="url(#cy)"/><polygon points="92.5,-9.0 91.4,3.4 89.8,4.5 -343.0,-5.0 73.1,-16.7" fill="url(#cy)"/><polygon points="274.1,10.2 265.9,1.0 260.0,5.8 261.3,17.5 264.0,20.3 267.9,19.7" fill="url(#cg)"/><polygon points="339.6,12.9 348.4,12.8 351.3,15.5 343.8,27.4 335.4,22.2 334.9,20.5" fill="url(#cy)"/><polygon points="335.8,5.6 342.6,-2.5 348.2,1.6 348.4,12.8 339.6,12.9" fill="url(#cy)"/><polygon points="335.4,22.2 343.8,27.4 348.6,39.6 356.8,705.8 320.2,757.6 327.6,30.7" fill="url(#cy)"/><polygon points="121.9,-2.6 127.7,11.4 132.1,11.4 135.4,9.4 135.0,-4.4 135.0,-4.5" fill="url(#cg)"/><polygon points="158.2,-5.7 153.7,-8.9 146.7,-0.5 147.2,4.1 154.7,9.2 158.6,7.0" fill="url(#cy)"/><polygon points="299.5,27.1 293.2,20.3 280.0,27.9 263.3,612.2 303.0,52.0" fill="url(#cy)"/><polygon points="360.5,21.8 365.5,22.7 568.4,418.0 356.8,705.8 348.6,39.6" fill="url(#cb)"/><polygon points="153.7,-8.9 160.5,-20.6 149.4,-28.3 144.5,-23.0 145.8,-14.2" fill="url(#cy)"/><polygon points="332.5,5.5 326.7,-2.6 329.7,-8.9 342.4,-3.6 342.6,-2.5 335.8,5.6" fill="url(#cb)"/><polygon points="309.0,18.3 308.1,10.2 309.0,9.1 318.1,7.3 324.1,12.5 324.5,14.4 319.1,22.8 316.8,23.3" fill="url(#cy)"/><polygon points="132.1,11.4 134.6,23.0 141.7,26.5 147.7,19.4 138.3,9.9 135.4,9.4" fill="url(#cy)"/><polygon points="361.6,6.3 355.5,15.8 360.5,21.8 365.5,22.7 371.4,16.9 366.8,6.1" fill="url(#cy)"/><polygon points="371.7,1.6 399.5,16.9 371.4,16.9 366.8,6.1" fill="url(#cy)"/><polygon points="254.3,-23.5 246.4,-29.5 240.0,-22.7 241.4,-18.3 252.4,-18.5" fill="url(#cg)"/><polygon points="212.8,15.4 205.8,22.7 215.5,38.9 221.8,20.0" fill="url(#cb)"/><polygon points="180.0,-16.2 179.1,-12.5 169.2,-9.7 165.2,-21.2 175.8,-22.9 178.1,-21.4" fill="url(#cb)"/><polygon points="182.9,-6.0 195.4,-9.7 197.6,-8.1 194.9,2.1 186.4,4.7 182.1,-1.7" fill="url(#cb)"/><polygon points="354.8,-12.9 358.8,-6.7 356.7,0.5 348.2,1.6 342.6,-2.5 342.4,-3.6 345.9,-10.9" fill="url(#cb)"/><polygon points="226.0,-42.5 219.8,-86.1 199.1,-630.2 196.6,-763.1 196.8,-779.6 222.8,-820.5 246.4,-29.5 240.0,-22.7 233.6,-26.1" fill="url(#cy)"/><polygon points="103.1,-319.1 92.0,-636.6 196.8,-779.6 196.6,-763.1 167.0,-165.2 149.4,-28.3 144.5,-23.0 136.1,-24.2 128.8,-35.9" fill="url(#cb)"/><polygon points="309.0,9.1 318.1,7.3 320.0,0.1 314.9,-6.0 306.1,-3.4" fill="url(#cy)"/><polygon points="299.5,27.1 309.0,18.3 316.8,23.3 303.0,52.0" fill="url(#cy)"/><polygon points="221.8,20.0 215.5,38.9 245.5,369.5 248.1,76.8 247.4,72.0 232.8,23.2 222.7,19.6" fill="url(#cb)"/><polygon points="226.0,-42.5 219.8,-86.1 208.9,-20.6 210.0,-18.6 212.9,-17.4 219.5,-18.7" fill="url(#cy)"/><polygon points="151.5,18.5 147.7,19.4 141.7,26.5 149.5,193.7 157.2,23.0" fill="url(#cy)"/><polygon points="211.2,9.3 206.9,6.9 207.4,-2.4 214.2,-5.7 222.0,-1.1 220.7,3.3" fill="url(#cy)"/><polygon points="282.3,-63.2 295.1,-22.9 299.4,-20.8 308.6,-32.3 281.5,-637.0 277.3,-209.7 281.0,-71.8" fill="url(#cy)"/><polygon points="368.3,-17.8 370.2,-16.6 415.1,-26.1 771.8,-148.6 569.6,-416.0 365.4,-25.4" fill="url(#cy)"/><polygon points="260.0,5.8 249.2,3.8 246.6,6.7 250.4,18.2 261.3,17.5" fill="url(#cg)"/><polygon points="340.6,-19.4 334.2,-19.5 328.5,-29.1 336.4,-67.1 344.4,-24.5" fill="url(#cb)"/><polygon points="219.5,-18.7 212.9,-17.4 214.2,-5.7 222.0,-1.1 224.1,-2.3 226.3,-14.9 226.0,-15.3" fill="url(#cy)"/><polygon points="92.5,-9.0 99.5,-12.5 99.9,-19.4 95.2,-24.5 73.1,-16.7" fill="url(#cg)"/><polygon points="297.8,-1.6 305.4,-3.8 306.1,-3.4 309.0,9.1 308.1,10.2 297.6,10.3 295.2,6.5" fill="url(#cy)"/><polygon points="113.8,11.8 107.8,16.1 108.2,22.1 123.0,27.6 123.2,14.1" fill="url(#cy)"/><polygon points="197.6,-8.1 199.1,-8.3 207.4,-2.4 206.9,6.9 201.2,8.2 194.9,2.1" fill="url(#cb)"/><polygon points="371.9,-2.2 415.1,-26.1 370.2,-16.6 368.2,-7.2" fill="url(#cb)"/><polygon points="157.2,23.0 149.5,193.7 153.8,717.9 166.1,735.2 171.8,31.0 163.4,21.7" fill="url(#cb)"/><polygon points="233.6,-26.1 240.0,-22.7 241.4,-18.3 239.0,-11.7 226.3,-14.9 226.0,-15.3" fill="url(#cy)"/><polygon points="107.8,16.1 108.2,22.1 98.8,37.8 91.8,19.1 93.5,16.3 105.4,14.8" fill="url(#cb)"/><polygon points="232.6,-0.7 240.1,-8.7 247.6,-4.7 249.2,3.8 246.6,6.7 237.4,9.3 237.2,9.2" fill="url(#cb)"/><polygon points="114.2,-21.2 113.5,-11.2 104.8,-7.0 99.5,-12.5 99.9,-19.4 112.3,-22.7" fill="url(#cb)"/><polygon points="158.6,7.0 154.7,9.2 151.5,18.5 157.2,23.0 163.4,21.7 166.5,17.5 165.4,8.7" fill="url(#cy)"/><polygon points="277.3,-209.7 259.0,-26.0 254.3,-23.5 246.4,-29.5 222.8,-820.5 250.0,-864.1 280.1,-816.2 281.5,-637.0" fill="url(#cg)"/><polygon points="284.3,4.0 281.2,10.0 282.1,12.1 293.0,19.0 297.6,10.3 295.2,6.5" fill="url(#cy)"/><polygon points="354.8,-12.9 345.9,-10.9 340.6,-19.4 344.4,-24.5 354.4,-23.6 355.7,-15.0" fill="url(#cb)"/><polygon points="121.9,-2.6 135.0,-4.5 135.9,-8.4 130.3,-16.6 126.1,-16.9 120.4,-6.0 121.5,-2.8" fill="url(#cy)"/><polygon points="158.2,-5.7 158.6,7.0 165.4,8.7 170.3,5.9 171.8,1.3 167.3,-6.5" fill="url(#cy)"/><polygon points="175.8,-22.9 167.7,-131.8 164.5,-21.5 165.2,-21.2" fill="url(#cb)"/><polygon points="180.0,-16.2 179.1,-12.5 182.9,-6.0 195.4,-9.7 192.6,-17.7" fill="url(#cb)"/><polygon points="193.3,-20.2 199.2,-24.0 208.9,-20.6 210.0,-18.6 199.1,-8.3 197.6,-8.1 195.4,-9.7 192.6,-17.7" fill="url(#cb)"/><polygon points="286.1,-11.7 290.9,-8.5 291.2,-7.1 284.2,3.6 277.9,-2.5 280.0,-9.8" fill="url(#cy)"/><polygon points="344.4,-24.5 336.4,-67.1 343.5,-203.0 355.8,-25.4 354.4,-23.6" fill="url(#cy)"/><polygon points="371.4,16.9 365.5,22.7 568.4,418.0 802.0,110.9 399.5,16.9" fill="url(#cb)"/><polygon points="98.8,37.8 10.2,530.2 -371.7,57.7 91.8,19.1" fill="url(#cy)"/><polygon points="121.9,-2.6 127.7,11.4 123.2,14.1 113.8,11.8 113.9,2.7 121.5,-2.8" fill="url(#cy)"/><polygon points="297.6,10.3 308.1,10.2 309.0,18.3 299.5,27.1 293.2,20.3 293.0,19.0" fill="url(#cy)"/><polygon points="102.8,-109.9 95.2,-24.5 73.1,-16.7 -343.0,-5.0 -415.5,-4.5 92.0,-636.6 103.1,-319.1" fill="url(#cy)"/><polygon points="264.9,-22.3 266.0,-12.5 263.9,-9.6 255.4,-11.0 252.4,-18.5 254.3,-23.5 259.0,-26.0" fill="url(#cb)"/><polygon points="284.2,3.6 284.3,4.0 281.2,10.0 274.1,10.2 265.9,1.0 266.5,-0.8 277.9,-2.5" fill="url(#cy)"/><polygon points="190.8,14.5 185.7,7.9 178.4,12.3 177.6,19.0 178.5,21.0 185.6,23.3 190.1,20.1" fill="url(#cb)"/><polygon points="332.5,5.5 324.1,12.5 324.5,14.4 334.9,20.5 339.6,12.9 335.8,5.6" fill="url(#cb)"/><polygon points="102.8,-109.9 112.3,-22.7 114.2,-21.2 120.9,-21.5 128.8,-35.9 103.1,-319.1" fill="url(#cb)"/><polygon points="185.6,23.3 190.7,51.6 167.2,736.8 166.1,735.2 171.8,31.0 178.5,21.0" fill="url(#cy)"/><polygon points="212.8,15.4 205.8,22.7 202.2,22.1 199.6,11.2 201.2,8.2 206.9,6.9 211.2,9.3" fill="url(#cb)"/><polygon points="317.8,-15.3 328.8,-11.7 329.7,-8.9 326.7,-2.6 320.0,0.1 314.9,-6.0" fill="url(#cy)"/><polygon points="93.5,16.3 91.8,19.1 -371.7,57.7 -419.5,-0.0 -415.5,-4.5 -343.0,-5.0 89.8,4.5" fill="url(#cy)"/><polygon points="198.9,23.7 190.7,51.6 185.6,23.3 190.1,20.1" fill="url(#cb)"/><polygon points="361.6,6.3 355.5,15.8 351.3,15.5 348.4,12.8 348.2,1.6 356.7,0.5" fill="url(#cb)"/><polygon points="141.7,26.5 149.5,193.7 153.8,717.9 145.9,707.3 123.2,28.0 134.6,23.0" fill="url(#cb)"/><polygon points="160.5,-20.6 149.4,-28.3 167.0,-165.2 167.7,-131.8 164.5,-21.5" fill="url(#cb)"/><polygon points="300.8,-16.7 302.6,-15.4 305.4,-3.8 297.8,-1.6 291.2,-7.1 290.9,-8.5" fill="url(#cb)"/><polygon points="199.2,-24.0 208.9,-20.6 219.8,-86.1 199.1,-630.2 193.0,-84.6" fill="url(#cb)"/><polygon points="113.9,2.7 104.9,-1.9 99.9,3.1 105.4,14.8 107.8,16.1 113.8,11.8" fill="url(#cy)"/><polygon points="146.7,-0.5 135.0,-4.4 135.0,-4.5 135.9,-8.4 145.8,-14.2 153.7,-8.9 153.7,-8.9" fill="url(#cy)"/><polygon points="281.5,-637.0 280.1,-816.2 353.3,-710.0 343.5,-203.0 336.4,-67.1 328.5,-29.1 317.4,-22.3 308.6,-32.3" fill="url(#cy)"/><polygon points="212.8,15.4 221.8,20.0 222.7,19.6 226.0,11.5 220.7,3.3 211.2,9.3" fill="url(#cb)"/><polygon points="123.0,27.6 108.2,22.1 98.8,37.8 10.2,530.2 145.9,707.3 123.2,28.0" fill="url(#cb)"/><polygon points="167.3,-6.5 169.2,-9.7 179.1,-12.5 182.9,-6.0 182.1,-1.7 171.8,1.3" fill="url(#cb)"/><polygon points="199.6,11.2 201.2,8.2 194.9,2.1 186.4,4.7 185.7,7.9 190.8,14.5" fill="url(#cy)"/><polygon points="147.2,4.1 138.3,9.9 147.7,19.4 151.5,18.5 154.7,9.2" fill="url(#cy)"/><polygon points="302.6,-15.4 316.9,-16.9 317.8,-15.3 314.9,-6.0 306.1,-3.4 305.4,-3.8" fill="url(#cb)"/><polygon points="178.1,-21.4 175.8,-22.9 167.7,-131.8 167.0,-165.2 196.6,-763.1 199.1,-630.2 193.0,-84.6 187.0,-27.8" fill="url(#cy)"/><polygon points="224.1,-2.3 232.6,-0.7 240.1,-8.7 239.0,-11.7 226.3,-14.9" fill="url(#cb)"/><polygon points="281.0,-71.8 277.3,-209.7 259.0,-26.0 264.9,-22.3 271.2,-26.1" fill="url(#cb)"/><polygon points="222.7,19.6 232.8,23.2 237.5,17.1 237.4,9.3 237.2,9.2 226.0,11.5" fill="url(#cy)"/><polygon points="282.1,12.1 277.9,24.5 267.9,19.7 274.1,10.2 281.2,10.0" fill="url(#cy)"/><polygon points="282.9,-22.7 277.1,-20.8 274.7,-14.4 280.0,-9.8 286.1,-11.7 286.3,-20.4" fill="url(#cy)"/><polygon points="354.8,-12.9 358.8,-6.7 368.2,-7.2 370.2,-16.6 368.3,-17.8 355.7,-15.0" fill="url(#cy)"/><polygon points="170.3,5.9 178.4,12.3 177.6,19.0 166.5,17.5 165.4,8.7" fill="url(#cg)"/><polygon points="282.9,-22.7 282.3,-63.2 295.1,-22.9 286.3,-20.4" fill="url(#cy)"/><polygon points="371.7,1.6 399.5,16.9 802.0,110.9 891.6,-0.0 771.8,-148.6 415.1,-26.1 371.9,-2.2" fill="url(#cb)"/><polygon points="303.0,52.0 263.3,612.2 255.6,753.5 254.8,852.3 320.2,757.6 327.6,30.7 319.1,22.8 316.8,23.3" fill="url(#cb)"/></g>
<polygon points="0,-25.2 92,-25.2 100,-25.2 97,-10 101,4 96,14 99,25.2 0,25.2" fill="url(#gEl)"/>
<polygon points="0,-25.2 21,-25.2 0,-7" fill="#b3944c" opacity=".85"/>
<polyline points="13.8,-8.9 27.6,-5.9 73,9.9 84.8,11.4" fill="none" stroke="#c4a347" stroke-width="2" opacity=".65"/>
<polyline points="80.9,23.7 73,9.9" fill="none" stroke="#c4a347" stroke-width="1.6" opacity=".55"/>
<polygon points="0,25.2 0,8 60,25.2" fill="#e6cd8c" opacity=".5"/>
</g>
<rect x="375.7" y="11.6" width="1.9" height="2.4" fill="#b5b5b5" opacity="0.47"/><rect x="367.8" y="12.0" width="0.9" height="7.0" fill="#b5b5b5" opacity="0.61"/><rect x="369.5" y="-5.8" width="1.4" height="3.7" fill="#b5b5b5" opacity="0.68"/><rect x="371.7" y="-24.1" width="2.3" height="6.7" fill="#b5b5b5" opacity="0.48"/><rect x="377.0" y="18.4" width="1.5" height="3.0" fill="#b5b5b5" opacity="0.49"/><rect x="361.6" y="-9.5" width="1.1" height="3.2" fill="#b5b5b5" opacity="0.40"/><rect x="377.4" y="13.2" width="2.1" height="4.8" fill="#b5b5b5" opacity="0.40"/><rect x="365.8" y="16.7" width="1.0" height="2.8" fill="#b5b5b5" opacity="0.64"/><rect x="373.1" y="-11.2" width="2.3" height="6.5" fill="#b5b5b5" opacity="0.55"/><rect x="385.6" y="12.4" width="1.4" height="3.1" fill="#b5b5b5" opacity="0.36"/><rect x="384.1" y="-11.6" width="1.6" height="5.1" fill="#b5b5b5" opacity="0.57"/><rect x="365.3" y="-15.6" width="0.9" height="6.1" fill="#b5b5b5" opacity="0.53"/><rect x="364.5" y="10.6" width="1.9" height="6.8" fill="#b5b5b5" opacity="0.61"/><rect x="367.8" y="-24.6" width="0.9" height="4.8" fill="#b5b5b5" opacity="0.69"/><rect x="360.3" y="-19.1" width="1.5" height="5.3" fill="#b5b5b5" opacity="0.52"/><rect x="360.3" y="14.1" width="2.4" height="5.1" fill="#b5b5b5" opacity="0.46"/><rect x="361.1" y="-17.5" width="1.0" height="6.8" fill="#b5b5b5" opacity="0.46"/><rect x="377.2" y="17.3" width="1.2" height="6.5" fill="#b5b5b5" opacity="0.51"/><rect x="380.8" y="14.0" width="2.4" height="3.6" fill="#b5b5b5" opacity="0.62"/><rect x="362.2" y="-9.8" width="1.4" height="5.1" fill="#b5b5b5" opacity="0.67"/><rect x="381.4" y="15.7" width="2.4" height="6.3" fill="#b5b5b5" opacity="0.42"/><rect x="364.5" y="14.1" width="1.9" height="3.8" fill="#b5b5b5" opacity="0.41"/><rect x="361.3" y="-18.1" width="1.4" height="3.5" fill="#b5b5b5" opacity="0.65"/><rect x="370.8" y="0.9" width="2.0" height="6.6" fill="#b5b5b5" opacity="0.30"/><rect x="385.4" y="17.1" width="1.0" height="6.5" fill="#b5b5b5" opacity="0.41"/><rect x="376.4" y="16.3" width="1.3" height="6.9" fill="#b5b5b5" opacity="0.39"/><rect x="382.4" y="-17.6" width="1.9" height="4.9" fill="#b5b5b5" opacity="0.56"/><rect x="366.0" y="13.4" width="1.7" height="4.6" fill="#b5b5b5" opacity="0.54"/><rect x="370.5" y="0.5" width="1.5" height="5.7" fill="#b5b5b5" opacity="0.32"/><rect x="375.6" y="14.3" width="2.1" height="2.8" fill="#b5b5b5" opacity="0.50"/><rect x="375.9" y="16.5" width="1.8" height="2.6" fill="#b5b5b5" opacity="0.56"/><rect x="368.9" y="3.8" width="1.8" height="5.6" fill="#b5b5b5" opacity="0.68"/><rect x="365.5" y="-7.7" width="2.4" height="3.6" fill="#b5b5b5" opacity="0.59"/><rect x="379.1" y="-18.4" width="2.4" height="4.9" fill="#b5b5b5" opacity="0.40"/><rect x="366.6" y="13.9" width="2.2" height="4.5" fill="#b5b5b5" opacity="0.41"/><rect x="370.6" y="19.2" width="2.0" height="3.5" fill="#b5b5b5" opacity="0.60"/><rect x="365.0" y="11.5" width="2.3" height="6.5" fill="#b5b5b5" opacity="0.38"/><rect x="378.8" y="-20.1" width="0.9" height="5.2" fill="#b5b5b5" opacity="0.34"/><rect x="366.8" y="-17.0" width="1.7" height="6.8" fill="#b5b5b5" opacity="0.63"/><rect x="361.4" y="-7.4" width="1.6" height="2.9" fill="#b5b5b5" opacity="0.42"/><rect x="373.5" y="21.7" width="1.0" height="2.3" fill="#b5b5b5" opacity="0.61"/><rect x="374.3" y="12.8" width="1.6" height="5.7" fill="#b5b5b5" opacity="0.42"/><rect x="374.7" y="-13.0" width="1.4" height="5.6" fill="#b5b5b5" opacity="0.35"/><rect x="360.9" y="-11.6" width="1.1" height="2.7" fill="#b5b5b5" opacity="0.41"/><rect x="368.7" y="17.9" width="1.6" height="4.5" fill="#b5b5b5" opacity="0.65"/><rect x="371.2" y="-13.8" width="2.4" height="4.4" fill="#b5b5b5" opacity="0.34"/><rect x="362.1" y="-17.3" width="1.1" height="2.7" fill="#b5b5b5" opacity="0.44"/><rect x="378.8" y="21.5" width="1.3" height="3.7" fill="#b5b5b5" opacity="0.33"/><rect x="369.0" y="3.1" width="1.8" height="4.6" fill="#b5b5b5" opacity="0.31"/><rect x="370.8" y="-17.6" width="1.2" height="5.0" fill="#b5b5b5" opacity="0.69"/><rect x="380.1" y="-13.4" width="1.0" height="2.8" fill="#b5b5b5" opacity="0.38"/><rect x="362.5" y="-4.1" width="0.8" height="4.2" fill="#b5b5b5" opacity="0.59"/><rect x="375.6" y="20.0" width="2.0" height="5.2" fill="#b5b5b5" opacity="0.37"/><rect x="366.9" y="9.6" width="1.8" height="5.5" fill="#b5b5b5" opacity="0.35"/><rect x="370.9" y="19.1" width="1.1" height="5.9" fill="#b5b5b5" opacity="0.54"/><rect x="363.2" y="-1.1" width="1.7" height="5.6" fill="#b5b5b5" opacity="0.66"/><rect x="362.5" y="-16.1" width="2.1" height="6.9" fill="#b5b5b5" opacity="0.36"/><rect x="380.4" y="-21.8" width="0.8" height="7.0" fill="#b5b5b5" opacity="0.61"/><rect x="371.4" y="14.9" width="1.9" height="4.3" fill="#b5b5b5" opacity="0.42"/><rect x="374.3" y="21.9" width="2.2" height="3.1" fill="#b5b5b5" opacity="0.55"/><rect x="383.2" y="-18.8" width="1.4" height="2.4" fill="#b5b5b5" opacity="0.53"/><rect x="360.3" y="8.9" width="2.0" height="3.3" fill="#b5b5b5" opacity="0.37"/><rect x="363.1" y="3.3" width="1.3" height="4.0" fill="#b5b5b5" opacity="0.56"/><rect x="364.4" y="-0.5" width="1.3" height="4.4" fill="#b5b5b5" opacity="0.56"/><rect x="378.4" y="9.2" width="1.5" height="2.1" fill="#b5b5b5" opacity="0.69"/><rect x="371.5" y="22.0" width="1.4" height="3.2" fill="#b5b5b5" opacity="0.37"/><rect x="363.9" y="9.6" width="1.2" height="2.3" fill="#b5b5b5" opacity="0.50"/><rect x="376.7" y="15.9" width="1.0" height="6.0" fill="#b5b5b5" opacity="0.32"/><rect x="367.1" y="-0.1" width="1.5" height="6.0" fill="#b5b5b5" opacity="0.57"/><rect x="365.0" y="-10.9" width="2.3" height="5.3" fill="#b5b5b5" opacity="0.31"/><rect x="370.3" y="-14.8" width="1.9" height="6.5" fill="#b5b5b5" opacity="0.61"/><rect x="363.3" y="6.5" width="1.5" height="5.0" fill="#b5b5b5" opacity="0.65"/><rect x="367.6" y="-12.3" width="1.6" height="2.9" fill="#b5b5b5" opacity="0.64"/><rect x="363.6" y="-10.4" width="2.3" height="2.1" fill="#b5b5b5" opacity="0.69"/><rect x="366.4" y="17.0" width="0.9" height="5.1" fill="#b5b5b5" opacity="0.64"/></g>
<g transform="translate(306.0,145.5) rotate(64.2) scale(0.327)" opacity="0.43"><rect x="360" y="-24.5" width="26" height="49" fill="#e9e9e9" opacity=".55"/><g clip-path="url(#cpStrip)"><rect x="0" y="-26" width="372" height="52" fill="#e3c451"/>
<g filter="url(#fSoft)"><polygon points="120.4,-6.0 113.5,-11.2 114.2,-21.2 120.9,-21.5 126.1,-16.9" fill="url(#cg)"/><polygon points="158.2,-5.7 153.7,-8.9 153.7,-8.9 160.5,-20.6 164.5,-21.5 165.2,-21.2 169.2,-9.7 167.3,-6.5" fill="url(#cg)"/><polygon points="146.7,-0.5 135.0,-4.4 135.4,9.4 138.3,9.9 147.2,4.1" fill="url(#cg)"/><polygon points="127.7,11.4 132.1,11.4 134.6,23.0 123.2,28.0 123.0,27.6 123.2,14.1" fill="url(#cg)"/><polygon points="180.0,-16.2 192.6,-17.7 193.3,-20.2 187.0,-27.8 178.1,-21.4" fill="url(#cg)"/><polygon points="177.6,19.0 178.5,21.0 171.8,31.0 163.4,21.7 166.5,17.5" fill="url(#cg)"/><polygon points="226.0,-42.5 219.5,-18.7 226.0,-15.3 233.6,-26.1" fill="url(#cg)"/><polygon points="252.4,-18.5 241.4,-18.3 239.0,-11.7 240.1,-8.7 247.6,-4.7 255.4,-11.0" fill="url(#cg)"/><polygon points="277.1,-20.8 271.2,-26.1 264.9,-22.3 266.0,-12.5 274.7,-14.4" fill="url(#cg)"/><polygon points="284.2,3.6 284.3,4.0 295.2,6.5 297.8,-1.6 291.2,-7.1" fill="url(#cg)"/><polygon points="293.0,19.0 293.2,20.3 280.0,27.9 277.9,24.5 282.1,12.1" fill="url(#cg)"/><polygon points="332.5,5.5 326.7,-2.6 320.0,0.1 318.1,7.3 324.1,12.5" fill="url(#cg)"/><polygon points="340.6,-19.4 334.2,-19.5 328.8,-11.7 329.7,-8.9 342.4,-3.6 345.9,-10.9" fill="url(#cg)"/><polygon points="355.7,-15.0 368.3,-17.8 365.4,-25.4 355.8,-25.4 354.4,-23.6" fill="url(#cg)"/><polygon points="202.2,22.1 199.6,11.2 190.8,14.5 190.1,20.1 198.9,23.7" fill="url(#cg)"/><polygon points="237.5,17.1 237.4,9.3 246.6,6.7 250.4,18.2 247.4,22.0" fill="url(#cg)"/><polygon points="351.3,15.5 343.8,27.4 348.6,39.6 360.5,21.8 355.5,15.8" fill="url(#cg)"/><polygon points="282.9,-22.7 282.3,-63.2 281.0,-71.8 271.2,-26.1 277.1,-20.8" fill="url(#cy)"/><polygon points="187.0,-27.8 193.0,-84.6 199.2,-24.0 193.3,-20.2" fill="url(#cy)"/><polygon points="92.5,-9.0 91.4,3.4 99.9,3.1 104.9,-1.9 104.8,-7.0 99.5,-12.5" fill="url(#cg)"/><polygon points="121.5,-2.8 113.9,2.7 104.9,-1.9 104.8,-7.0 113.5,-11.2 120.4,-6.0" fill="url(#cb)"/><polygon points="277.9,24.5 280.0,27.9 263.3,612.2 255.6,753.5 245.5,369.5 248.1,76.8 264.0,20.3 267.9,19.7" fill="url(#cb)"/><polygon points="202.2,22.1 205.8,22.7 215.5,38.9 245.5,369.5 255.6,753.5 254.8,852.3 250.0,860.5 167.2,736.8 190.7,51.6 198.9,23.7" fill="url(#cg)"/><polygon points="130.3,-16.6 136.1,-24.2 128.8,-35.9 120.9,-21.5 126.1,-16.9" fill="url(#cy)"/><polygon points="317.8,-15.3 328.8,-11.7 334.2,-19.5 328.5,-29.1 317.4,-22.3 316.9,-16.9" fill="url(#cb)"/><polygon points="274.7,-14.4 266.0,-12.5 263.9,-9.6 266.5,-0.8 277.9,-2.5 280.0,-9.8" fill="url(#cy)"/><polygon points="102.8,-109.9 95.2,-24.5 99.9,-19.4 112.3,-22.7" fill="url(#cy)"/><polygon points="170.3,5.9 178.4,12.3 185.7,7.9 186.4,4.7 182.1,-1.7 171.8,1.3" fill="url(#cy)"/><polygon points="286.3,-20.4 295.1,-22.9 299.4,-20.8 300.8,-16.7 290.9,-8.5 286.1,-11.7" fill="url(#cb)"/><polygon points="237.5,17.1 247.4,22.0 247.4,72.0 232.8,23.2" fill="url(#cb)"/><polygon points="299.4,-20.8 308.6,-32.3 317.4,-22.3 316.9,-16.9 302.6,-15.4 300.8,-16.7" fill="url(#cy)"/><polygon points="105.4,14.8 93.5,16.3 89.8,4.5 91.4,3.4 99.9,3.1" fill="url(#cb)"/><polygon points="261.3,17.5 250.4,18.2 247.4,22.0 247.4,72.0 248.1,76.8 264.0,20.3" fill="url(#cy)"/><polygon points="263.9,-9.6 266.5,-0.8 265.9,1.0 260.0,5.8 249.2,3.8 247.6,-4.7 255.4,-11.0" fill="url(#cb)"/><polygon points="371.7,1.6 366.8,6.1 361.6,6.3 356.7,0.5 358.8,-6.7 368.2,-7.2 371.9,-2.2" fill="url(#cb)"/><polygon points="324.5,14.4 319.1,22.8 327.6,30.7 335.4,22.2 334.9,20.5" fill="url(#cy)"/><polygon points="214.2,-5.7 207.4,-2.4 199.1,-8.3 210.0,-18.6 212.9,-17.4" fill="url(#cb)"/><polygon points="135.9,-8.4 145.8,-14.2 144.5,-23.0 136.1,-24.2 130.3,-16.6" fill="url(#cy)"/><polygon points="220.7,3.3 222.0,-1.1 224.1,-2.3 232.6,-0.7 237.2,9.2 226.0,11.5" fill="url(#cy)"/><polygon points="92.5,-9.0 91.4,3.4 89.8,4.5 -343.0,-5.0 73.1,-16.7" fill="url(#cy)"/><polygon points="274.1,10.2 265.9,1.0 260.0,5.8 261.3,17.5 264.0,20.3 267.9,19.7" fill="url(#cg)"/><polygon points="339.6,12.9 348.4,12.8 351.3,15.5 343.8,27.4 335.4,22.2 334.9,20.5" fill="url(#cy)"/><polygon points="335.8,5.6 342.6,-2.5 348.2,1.6 348.4,12.8 339.6,12.9" fill="url(#cy)"/><polygon points="335.4,22.2 343.8,27.4 348.6,39.6 356.8,705.8 320.2,757.6 327.6,30.7" fill="url(#cy)"/><polygon points="121.9,-2.6 127.7,11.4 132.1,11.4 135.4,9.4 135.0,-4.4 135.0,-4.5" fill="url(#cg)"/><polygon points="158.2,-5.7 153.7,-8.9 146.7,-0.5 147.2,4.1 154.7,9.2 158.6,7.0" fill="url(#cy)"/><polygon points="299.5,27.1 293.2,20.3 280.0,27.9 263.3,612.2 303.0,52.0" fill="url(#cy)"/><polygon points="360.5,21.8 365.5,22.7 568.4,418.0 356.8,705.8 348.6,39.6" fill="url(#cb)"/><polygon points="153.7,-8.9 160.5,-20.6 149.4,-28.3 144.5,-23.0 145.8,-14.2" fill="url(#cy)"/><polygon points="332.5,5.5 326.7,-2.6 329.7,-8.9 342.4,-3.6 342.6,-2.5 335.8,5.6" fill="url(#cb)"/><polygon points="309.0,18.3 308.1,10.2 309.0,9.1 318.1,7.3 324.1,12.5 324.5,14.4 319.1,22.8 316.8,23.3" fill="url(#cy)"/><polygon points="132.1,11.4 134.6,23.0 141.7,26.5 147.7,19.4 138.3,9.9 135.4,9.4" fill="url(#cy)"/><polygon points="361.6,6.3 355.5,15.8 360.5,21.8 365.5,22.7 371.4,16.9 366.8,6.1" fill="url(#cy)"/><polygon points="371.7,1.6 399.5,16.9 371.4,16.9 366.8,6.1" fill="url(#cy)"/><polygon points="254.3,-23.5 246.4,-29.5 240.0,-22.7 241.4,-18.3 252.4,-18.5" fill="url(#cg)"/><polygon points="212.8,15.4 205.8,22.7 215.5,38.9 221.8,20.0" fill="url(#cb)"/><polygon points="180.0,-16.2 179.1,-12.5 169.2,-9.7 165.2,-21.2 175.8,-22.9 178.1,-21.4" fill="url(#cb)"/><polygon points="182.9,-6.0 195.4,-9.7 197.6,-8.1 194.9,2.1 186.4,4.7 182.1,-1.7" fill="url(#cb)"/><polygon points="354.8,-12.9 358.8,-6.7 356.7,0.5 348.2,1.6 342.6,-2.5 342.4,-3.6 345.9,-10.9" fill="url(#cb)"/><polygon points="226.0,-42.5 219.8,-86.1 199.1,-630.2 196.6,-763.1 196.8,-779.6 222.8,-820.5 246.4,-29.5 240.0,-22.7 233.6,-26.1" fill="url(#cy)"/><polygon points="103.1,-319.1 92.0,-636.6 196.8,-779.6 196.6,-763.1 167.0,-165.2 149.4,-28.3 144.5,-23.0 136.1,-24.2 128.8,-35.9" fill="url(#cb)"/><polygon points="309.0,9.1 318.1,7.3 320.0,0.1 314.9,-6.0 306.1,-3.4" fill="url(#cy)"/><polygon points="299.5,27.1 309.0,18.3 316.8,23.3 303.0,52.0" fill="url(#cy)"/><polygon points="221.8,20.0 215.5,38.9 245.5,369.5 248.1,76.8 247.4,72.0 232.8,23.2 222.7,19.6" fill="url(#cb)"/><polygon points="226.0,-42.5 219.8,-86.1 208.9,-20.6 210.0,-18.6 212.9,-17.4 219.5,-18.7" fill="url(#cy)"/><polygon points="151.5,18.5 147.7,19.4 141.7,26.5 149.5,193.7 157.2,23.0" fill="url(#cy)"/><polygon points="211.2,9.3 206.9,6.9 207.4,-2.4 214.2,-5.7 222.0,-1.1 220.7,3.3" fill="url(#cy)"/><polygon points="282.3,-63.2 295.1,-22.9 299.4,-20.8 308.6,-32.3 281.5,-637.0 277.3,-209.7 281.0,-71.8" fill="url(#cy)"/><polygon points="368.3,-17.8 370.2,-16.6 415.1,-26.1 771.8,-148.6 569.6,-416.0 365.4,-25.4" fill="url(#cy)"/><polygon points="260.0,5.8 249.2,3.8 246.6,6.7 250.4,18.2 261.3,17.5" fill="url(#cg)"/><polygon points="340.6,-19.4 334.2,-19.5 328.5,-29.1 336.4,-67.1 344.4,-24.5" fill="url(#cb)"/><polygon points="219.5,-18.7 212.9,-17.4 214.2,-5.7 222.0,-1.1 224.1,-2.3 226.3,-14.9 226.0,-15.3" fill="url(#cy)"/><polygon points="92.5,-9.0 99.5,-12.5 99.9,-19.4 95.2,-24.5 73.1,-16.7" fill="url(#cg)"/><polygon points="297.8,-1.6 305.4,-3.8 306.1,-3.4 309.0,9.1 308.1,10.2 297.6,10.3 295.2,6.5" fill="url(#cy)"/><polygon points="113.8,11.8 107.8,16.1 108.2,22.1 123.0,27.6 123.2,14.1" fill="url(#cy)"/><polygon points="197.6,-8.1 199.1,-8.3 207.4,-2.4 206.9,6.9 201.2,8.2 194.9,2.1" fill="url(#cb)"/><polygon points="371.9,-2.2 415.1,-26.1 370.2,-16.6 368.2,-7.2" fill="url(#cb)"/><polygon points="157.2,23.0 149.5,193.7 153.8,717.9 166.1,735.2 171.8,31.0 163.4,21.7" fill="url(#cb)"/><polygon points="233.6,-26.1 240.0,-22.7 241.4,-18.3 239.0,-11.7 226.3,-14.9 226.0,-15.3" fill="url(#cy)"/><polygon points="107.8,16.1 108.2,22.1 98.8,37.8 91.8,19.1 93.5,16.3 105.4,14.8" fill="url(#cb)"/><polygon points="232.6,-0.7 240.1,-8.7 247.6,-4.7 249.2,3.8 246.6,6.7 237.4,9.3 237.2,9.2" fill="url(#cb)"/><polygon points="114.2,-21.2 113.5,-11.2 104.8,-7.0 99.5,-12.5 99.9,-19.4 112.3,-22.7" fill="url(#cb)"/><polygon points="158.6,7.0 154.7,9.2 151.5,18.5 157.2,23.0 163.4,21.7 166.5,17.5 165.4,8.7" fill="url(#cy)"/><polygon points="277.3,-209.7 259.0,-26.0 254.3,-23.5 246.4,-29.5 222.8,-820.5 250.0,-864.1 280.1,-816.2 281.5,-637.0" fill="url(#cg)"/><polygon points="284.3,4.0 281.2,10.0 282.1,12.1 293.0,19.0 297.6,10.3 295.2,6.5" fill="url(#cy)"/><polygon points="354.8,-12.9 345.9,-10.9 340.6,-19.4 344.4,-24.5 354.4,-23.6 355.7,-15.0" fill="url(#cb)"/><polygon points="121.9,-2.6 135.0,-4.5 135.9,-8.4 130.3,-16.6 126.1,-16.9 120.4,-6.0 121.5,-2.8" fill="url(#cy)"/><polygon points="158.2,-5.7 158.6,7.0 165.4,8.7 170.3,5.9 171.8,1.3 167.3,-6.5" fill="url(#cy)"/><polygon points="175.8,-22.9 167.7,-131.8 164.5,-21.5 165.2,-21.2" fill="url(#cb)"/><polygon points="180.0,-16.2 179.1,-12.5 182.9,-6.0 195.4,-9.7 192.6,-17.7" fill="url(#cb)"/><polygon points="193.3,-20.2 199.2,-24.0 208.9,-20.6 210.0,-18.6 199.1,-8.3 197.6,-8.1 195.4,-9.7 192.6,-17.7" fill="url(#cb)"/><polygon points="286.1,-11.7 290.9,-8.5 291.2,-7.1 284.2,3.6 277.9,-2.5 280.0,-9.8" fill="url(#cy)"/><polygon points="344.4,-24.5 336.4,-67.1 343.5,-203.0 355.8,-25.4 354.4,-23.6" fill="url(#cy)"/><polygon points="371.4,16.9 365.5,22.7 568.4,418.0 802.0,110.9 399.5,16.9" fill="url(#cb)"/><polygon points="98.8,37.8 10.2,530.2 -371.7,57.7 91.8,19.1" fill="url(#cy)"/><polygon points="121.9,-2.6 127.7,11.4 123.2,14.1 113.8,11.8 113.9,2.7 121.5,-2.8" fill="url(#cy)"/><polygon points="297.6,10.3 308.1,10.2 309.0,18.3 299.5,27.1 293.2,20.3 293.0,19.0" fill="url(#cy)"/><polygon points="102.8,-109.9 95.2,-24.5 73.1,-16.7 -343.0,-5.0 -415.5,-4.5 92.0,-636.6 103.1,-319.1" fill="url(#cy)"/><polygon points="264.9,-22.3 266.0,-12.5 263.9,-9.6 255.4,-11.0 252.4,-18.5 254.3,-23.5 259.0,-26.0" fill="url(#cb)"/><polygon points="284.2,3.6 284.3,4.0 281.2,10.0 274.1,10.2 265.9,1.0 266.5,-0.8 277.9,-2.5" fill="url(#cy)"/><polygon points="190.8,14.5 185.7,7.9 178.4,12.3 177.6,19.0 178.5,21.0 185.6,23.3 190.1,20.1" fill="url(#cb)"/><polygon points="332.5,5.5 324.1,12.5 324.5,14.4 334.9,20.5 339.6,12.9 335.8,5.6" fill="url(#cb)"/><polygon points="102.8,-109.9 112.3,-22.7 114.2,-21.2 120.9,-21.5 128.8,-35.9 103.1,-319.1" fill="url(#cb)"/><polygon points="185.6,23.3 190.7,51.6 167.2,736.8 166.1,735.2 171.8,31.0 178.5,21.0" fill="url(#cy)"/><polygon points="212.8,15.4 205.8,22.7 202.2,22.1 199.6,11.2 201.2,8.2 206.9,6.9 211.2,9.3" fill="url(#cb)"/><polygon points="317.8,-15.3 328.8,-11.7 329.7,-8.9 326.7,-2.6 320.0,0.1 314.9,-6.0" fill="url(#cy)"/><polygon points="93.5,16.3 91.8,19.1 -371.7,57.7 -419.5,-0.0 -415.5,-4.5 -343.0,-5.0 89.8,4.5" fill="url(#cy)"/><polygon points="198.9,23.7 190.7,51.6 185.6,23.3 190.1,20.1" fill="url(#cb)"/><polygon points="361.6,6.3 355.5,15.8 351.3,15.5 348.4,12.8 348.2,1.6 356.7,0.5" fill="url(#cb)"/><polygon points="141.7,26.5 149.5,193.7 153.8,717.9 145.9,707.3 123.2,28.0 134.6,23.0" fill="url(#cb)"/><polygon points="160.5,-20.6 149.4,-28.3 167.0,-165.2 167.7,-131.8 164.5,-21.5" fill="url(#cb)"/><polygon points="300.8,-16.7 302.6,-15.4 305.4,-3.8 297.8,-1.6 291.2,-7.1 290.9,-8.5" fill="url(#cb)"/><polygon points="199.2,-24.0 208.9,-20.6 219.8,-86.1 199.1,-630.2 193.0,-84.6" fill="url(#cb)"/><polygon points="113.9,2.7 104.9,-1.9 99.9,3.1 105.4,14.8 107.8,16.1 113.8,11.8" fill="url(#cy)"/><polygon points="146.7,-0.5 135.0,-4.4 135.0,-4.5 135.9,-8.4 145.8,-14.2 153.7,-8.9 153.7,-8.9" fill="url(#cy)"/><polygon points="281.5,-637.0 280.1,-816.2 353.3,-710.0 343.5,-203.0 336.4,-67.1 328.5,-29.1 317.4,-22.3 308.6,-32.3" fill="url(#cy)"/><polygon points="212.8,15.4 221.8,20.0 222.7,19.6 226.0,11.5 220.7,3.3 211.2,9.3" fill="url(#cb)"/><polygon points="123.0,27.6 108.2,22.1 98.8,37.8 10.2,530.2 145.9,707.3 123.2,28.0" fill="url(#cb)"/><polygon points="167.3,-6.5 169.2,-9.7 179.1,-12.5 182.9,-6.0 182.1,-1.7 171.8,1.3" fill="url(#cb)"/><polygon points="199.6,11.2 201.2,8.2 194.9,2.1 186.4,4.7 185.7,7.9 190.8,14.5" fill="url(#cy)"/><polygon points="147.2,4.1 138.3,9.9 147.7,19.4 151.5,18.5 154.7,9.2" fill="url(#cy)"/><polygon points="302.6,-15.4 316.9,-16.9 317.8,-15.3 314.9,-6.0 306.1,-3.4 305.4,-3.8" fill="url(#cb)"/><polygon points="178.1,-21.4 175.8,-22.9 167.7,-131.8 167.0,-165.2 196.6,-763.1 199.1,-630.2 193.0,-84.6 187.0,-27.8" fill="url(#cy)"/><polygon points="224.1,-2.3 232.6,-0.7 240.1,-8.7 239.0,-11.7 226.3,-14.9" fill="url(#cb)"/><polygon points="281.0,-71.8 277.3,-209.7 259.0,-26.0 264.9,-22.3 271.2,-26.1" fill="url(#cb)"/><polygon points="222.7,19.6 232.8,23.2 237.5,17.1 237.4,9.3 237.2,9.2 226.0,11.5" fill="url(#cy)"/><polygon points="282.1,12.1 277.9,24.5 267.9,19.7 274.1,10.2 281.2,10.0" fill="url(#cy)"/><polygon points="282.9,-22.7 277.1,-20.8 274.7,-14.4 280.0,-9.8 286.1,-11.7 286.3,-20.4" fill="url(#cy)"/><polygon points="354.8,-12.9 358.8,-6.7 368.2,-7.2 370.2,-16.6 368.3,-17.8 355.7,-15.0" fill="url(#cy)"/><polygon points="170.3,5.9 178.4,12.3 177.6,19.0 166.5,17.5 165.4,8.7" fill="url(#cg)"/><polygon points="282.9,-22.7 282.3,-63.2 295.1,-22.9 286.3,-20.4" fill="url(#cy)"/><polygon points="371.7,1.6 399.5,16.9 802.0,110.9 891.6,-0.0 771.8,-148.6 415.1,-26.1 371.9,-2.2" fill="url(#cb)"/><polygon points="303.0,52.0 263.3,612.2 255.6,753.5 254.8,852.3 320.2,757.6 327.6,30.7 319.1,22.8 316.8,23.3" fill="url(#cb)"/></g>
<polygon points="0,-25.2 92,-25.2 100,-25.2 97,-10 101,4 96,14 99,25.2 0,25.2" fill="url(#gEl)"/>
<polygon points="0,-25.2 21,-25.2 0,-7" fill="#b3944c" opacity=".85"/>
<polyline points="13.8,-8.9 27.6,-5.9 73,9.9 84.8,11.4" fill="none" stroke="#c4a347" stroke-width="2" opacity=".65"/>
<polyline points="80.9,23.7 73,9.9" fill="none" stroke="#c4a347" stroke-width="1.6" opacity=".55"/>
<polygon points="0,25.2 0,8 60,25.2" fill="#e6cd8c" opacity=".5"/>
</g>
<rect x="375.7" y="11.6" width="1.9" height="2.4" fill="#b5b5b5" opacity="0.47"/><rect x="367.8" y="12.0" width="0.9" height="7.0" fill="#b5b5b5" opacity="0.61"/><rect x="369.5" y="-5.8" width="1.4" height="3.7" fill="#b5b5b5" opacity="0.68"/><rect x="371.7" y="-24.1" width="2.3" height="6.7" fill="#b5b5b5" opacity="0.48"/><rect x="377.0" y="18.4" width="1.5" height="3.0" fill="#b5b5b5" opacity="0.49"/><rect x="361.6" y="-9.5" width="1.1" height="3.2" fill="#b5b5b5" opacity="0.40"/><rect x="377.4" y="13.2" width="2.1" height="4.8" fill="#b5b5b5" opacity="0.40"/><rect x="365.8" y="16.7" width="1.0" height="2.8" fill="#b5b5b5" opacity="0.64"/><rect x="373.1" y="-11.2" width="2.3" height="6.5" fill="#b5b5b5" opacity="0.55"/><rect x="385.6" y="12.4" width="1.4" height="3.1" fill="#b5b5b5" opacity="0.36"/><rect x="384.1" y="-11.6" width="1.6" height="5.1" fill="#b5b5b5" opacity="0.57"/><rect x="365.3" y="-15.6" width="0.9" height="6.1" fill="#b5b5b5" opacity="0.53"/><rect x="364.5" y="10.6" width="1.9" height="6.8" fill="#b5b5b5" opacity="0.61"/><rect x="367.8" y="-24.6" width="0.9" height="4.8" fill="#b5b5b5" opacity="0.69"/><rect x="360.3" y="-19.1" width="1.5" height="5.3" fill="#b5b5b5" opacity="0.52"/><rect x="360.3" y="14.1" width="2.4" height="5.1" fill="#b5b5b5" opacity="0.46"/><rect x="361.1" y="-17.5" width="1.0" height="6.8" fill="#b5b5b5" opacity="0.46"/><rect x="377.2" y="17.3" width="1.2" height="6.5" fill="#b5b5b5" opacity="0.51"/><rect x="380.8" y="14.0" width="2.4" height="3.6" fill="#b5b5b5" opacity="0.62"/><rect x="362.2" y="-9.8" width="1.4" height="5.1" fill="#b5b5b5" opacity="0.67"/><rect x="381.4" y="15.7" width="2.4" height="6.3" fill="#b5b5b5" opacity="0.42"/><rect x="364.5" y="14.1" width="1.9" height="3.8" fill="#b5b5b5" opacity="0.41"/><rect x="361.3" y="-18.1" width="1.4" height="3.5" fill="#b5b5b5" opacity="0.65"/><rect x="370.8" y="0.9" width="2.0" height="6.6" fill="#b5b5b5" opacity="0.30"/><rect x="385.4" y="17.1" width="1.0" height="6.5" fill="#b5b5b5" opacity="0.41"/><rect x="376.4" y="16.3" width="1.3" height="6.9" fill="#b5b5b5" opacity="0.39"/><rect x="382.4" y="-17.6" width="1.9" height="4.9" fill="#b5b5b5" opacity="0.56"/><rect x="366.0" y="13.4" width="1.7" height="4.6" fill="#b5b5b5" opacity="0.54"/><rect x="370.5" y="0.5" width="1.5" height="5.7" fill="#b5b5b5" opacity="0.32"/><rect x="375.6" y="14.3" width="2.1" height="2.8" fill="#b5b5b5" opacity="0.50"/><rect x="375.9" y="16.5" width="1.8" height="2.6" fill="#b5b5b5" opacity="0.56"/><rect x="368.9" y="3.8" width="1.8" height="5.6" fill="#b5b5b5" opacity="0.68"/><rect x="365.5" y="-7.7" width="2.4" height="3.6" fill="#b5b5b5" opacity="0.59"/><rect x="379.1" y="-18.4" width="2.4" height="4.9" fill="#b5b5b5" opacity="0.40"/><rect x="366.6" y="13.9" width="2.2" height="4.5" fill="#b5b5b5" opacity="0.41"/><rect x="370.6" y="19.2" width="2.0" height="3.5" fill="#b5b5b5" opacity="0.60"/><rect x="365.0" y="11.5" width="2.3" height="6.5" fill="#b5b5b5" opacity="0.38"/><rect x="378.8" y="-20.1" width="0.9" height="5.2" fill="#b5b5b5" opacity="0.34"/><rect x="366.8" y="-17.0" width="1.7" height="6.8" fill="#b5b5b5" opacity="0.63"/><rect x="361.4" y="-7.4" width="1.6" height="2.9" fill="#b5b5b5" opacity="0.42"/><rect x="373.5" y="21.7" width="1.0" height="2.3" fill="#b5b5b5" opacity="0.61"/><rect x="374.3" y="12.8" width="1.6" height="5.7" fill="#b5b5b5" opacity="0.42"/><rect x="374.7" y="-13.0" width="1.4" height="5.6" fill="#b5b5b5" opacity="0.35"/><rect x="360.9" y="-11.6" width="1.1" height="2.7" fill="#b5b5b5" opacity="0.41"/><rect x="368.7" y="17.9" width="1.6" height="4.5" fill="#b5b5b5" opacity="0.65"/><rect x="371.2" y="-13.8" width="2.4" height="4.4" fill="#b5b5b5" opacity="0.34"/><rect x="362.1" y="-17.3" width="1.1" height="2.7" fill="#b5b5b5" opacity="0.44"/><rect x="378.8" y="21.5" width="1.3" height="3.7" fill="#b5b5b5" opacity="0.33"/><rect x="369.0" y="3.1" width="1.8" height="4.6" fill="#b5b5b5" opacity="0.31"/><rect x="370.8" y="-17.6" width="1.2" height="5.0" fill="#b5b5b5" opacity="0.69"/><rect x="380.1" y="-13.4" width="1.0" height="2.8" fill="#b5b5b5" opacity="0.38"/><rect x="362.5" y="-4.1" width="0.8" height="4.2" fill="#b5b5b5" opacity="0.59"/><rect x="375.6" y="20.0" width="2.0" height="5.2" fill="#b5b5b5" opacity="0.37"/><rect x="366.9" y="9.6" width="1.8" height="5.5" fill="#b5b5b5" opacity="0.35"/><rect x="370.9" y="19.1" width="1.1" height="5.9" fill="#b5b5b5" opacity="0.54"/><rect x="363.2" y="-1.1" width="1.7" height="5.6" fill="#b5b5b5" opacity="0.66"/><rect x="362.5" y="-16.1" width="2.1" height="6.9" fill="#b5b5b5" opacity="0.36"/><rect x="380.4" y="-21.8" width="0.8" height="7.0" fill="#b5b5b5" opacity="0.61"/><rect x="371.4" y="14.9" width="1.9" height="4.3" fill="#b5b5b5" opacity="0.42"/><rect x="374.3" y="21.9" width="2.2" height="3.1" fill="#b5b5b5" opacity="0.55"/><rect x="383.2" y="-18.8" width="1.4" height="2.4" fill="#b5b5b5" opacity="0.53"/><rect x="360.3" y="8.9" width="2.0" height="3.3" fill="#b5b5b5" opacity="0.37"/><rect x="363.1" y="3.3" width="1.3" height="4.0" fill="#b5b5b5" opacity="0.56"/><rect x="364.4" y="-0.5" width="1.3" height="4.4" fill="#b5b5b5" opacity="0.56"/><rect x="378.4" y="9.2" width="1.5" height="2.1" fill="#b5b5b5" opacity="0.69"/><rect x="371.5" y="22.0" width="1.4" height="3.2" fill="#b5b5b5" opacity="0.37"/><rect x="363.9" y="9.6" width="1.2" height="2.3" fill="#b5b5b5" opacity="0.50"/><rect x="376.7" y="15.9" width="1.0" height="6.0" fill="#b5b5b5" opacity="0.32"/><rect x="367.1" y="-0.1" width="1.5" height="6.0" fill="#b5b5b5" opacity="0.57"/><rect x="365.0" y="-10.9" width="2.3" height="5.3" fill="#b5b5b5" opacity="0.31"/><rect x="370.3" y="-14.8" width="1.9" height="6.5" fill="#b5b5b5" opacity="0.61"/><rect x="363.3" y="6.5" width="1.5" height="5.0" fill="#b5b5b5" opacity="0.65"/><rect x="367.6" y="-12.3" width="1.6" height="2.9" fill="#b5b5b5" opacity="0.64"/><rect x="363.6" y="-10.4" width="2.3" height="2.1" fill="#b5b5b5" opacity="0.69"/><rect x="366.4" y="17.0" width="0.9" height="5.1" fill="#b5b5b5" opacity="0.64"/></g>
<g transform="translate(342.7,164.2) rotate(52.2) scale(0.266)" opacity="0.26"><rect x="360" y="-24.5" width="26" height="49" fill="#e9e9e9" opacity=".55"/><g clip-path="url(#cpStrip)"><rect x="0" y="-26" width="372" height="52" fill="#e3c451"/>
<g filter="url(#fSoft)"><polygon points="120.4,-6.0 113.5,-11.2 114.2,-21.2 120.9,-21.5 126.1,-16.9" fill="url(#cg)"/><polygon points="158.2,-5.7 153.7,-8.9 153.7,-8.9 160.5,-20.6 164.5,-21.5 165.2,-21.2 169.2,-9.7 167.3,-6.5" fill="url(#cg)"/><polygon points="146.7,-0.5 135.0,-4.4 135.4,9.4 138.3,9.9 147.2,4.1" fill="url(#cg)"/><polygon points="127.7,11.4 132.1,11.4 134.6,23.0 123.2,28.0 123.0,27.6 123.2,14.1" fill="url(#cg)"/><polygon points="180.0,-16.2 192.6,-17.7 193.3,-20.2 187.0,-27.8 178.1,-21.4" fill="url(#cg)"/><polygon points="177.6,19.0 178.5,21.0 171.8,31.0 163.4,21.7 166.5,17.5" fill="url(#cg)"/><polygon points="226.0,-42.5 219.5,-18.7 226.0,-15.3 233.6,-26.1" fill="url(#cg)"/><polygon points="252.4,-18.5 241.4,-18.3 239.0,-11.7 240.1,-8.7 247.6,-4.7 255.4,-11.0" fill="url(#cg)"/><polygon points="277.1,-20.8 271.2,-26.1 264.9,-22.3 266.0,-12.5 274.7,-14.4" fill="url(#cg)"/><polygon points="284.2,3.6 284.3,4.0 295.2,6.5 297.8,-1.6 291.2,-7.1" fill="url(#cg)"/><polygon points="293.0,19.0 293.2,20.3 280.0,27.9 277.9,24.5 282.1,12.1" fill="url(#cg)"/><polygon points="332.5,5.5 326.7,-2.6 320.0,0.1 318.1,7.3 324.1,12.5" fill="url(#cg)"/><polygon points="340.6,-19.4 334.2,-19.5 328.8,-11.7 329.7,-8.9 342.4,-3.6 345.9,-10.9" fill="url(#cg)"/><polygon points="355.7,-15.0 368.3,-17.8 365.4,-25.4 355.8,-25.4 354.4,-23.6" fill="url(#cg)"/><polygon points="202.2,22.1 199.6,11.2 190.8,14.5 190.1,20.1 198.9,23.7" fill="url(#cg)"/><polygon points="237.5,17.1 237.4,9.3 246.6,6.7 250.4,18.2 247.4,22.0" fill="url(#cg)"/><polygon points="351.3,15.5 343.8,27.4 348.6,39.6 360.5,21.8 355.5,15.8" fill="url(#cg)"/><polygon points="282.9,-22.7 282.3,-63.2 281.0,-71.8 271.2,-26.1 277.1,-20.8" fill="url(#cy)"/><polygon points="187.0,-27.8 193.0,-84.6 199.2,-24.0 193.3,-20.2" fill="url(#cy)"/><polygon points="92.5,-9.0 91.4,3.4 99.9,3.1 104.9,-1.9 104.8,-7.0 99.5,-12.5" fill="url(#cg)"/><polygon points="121.5,-2.8 113.9,2.7 104.9,-1.9 104.8,-7.0 113.5,-11.2 120.4,-6.0" fill="url(#cb)"/><polygon points="277.9,24.5 280.0,27.9 263.3,612.2 255.6,753.5 245.5,369.5 248.1,76.8 264.0,20.3 267.9,19.7" fill="url(#cb)"/><polygon points="202.2,22.1 205.8,22.7 215.5,38.9 245.5,369.5 255.6,753.5 254.8,852.3 250.0,860.5 167.2,736.8 190.7,51.6 198.9,23.7" fill="url(#cg)"/><polygon points="130.3,-16.6 136.1,-24.2 128.8,-35.9 120.9,-21.5 126.1,-16.9" fill="url(#cy)"/><polygon points="317.8,-15.3 328.8,-11.7 334.2,-19.5 328.5,-29.1 317.4,-22.3 316.9,-16.9" fill="url(#cb)"/><polygon points="274.7,-14.4 266.0,-12.5 263.9,-9.6 266.5,-0.8 277.9,-2.5 280.0,-9.8" fill="url(#cy)"/><polygon points="102.8,-109.9 95.2,-24.5 99.9,-19.4 112.3,-22.7" fill="url(#cy)"/><polygon points="170.3,5.9 178.4,12.3 185.7,7.9 186.4,4.7 182.1,-1.7 171.8,1.3" fill="url(#cy)"/><polygon points="286.3,-20.4 295.1,-22.9 299.4,-20.8 300.8,-16.7 290.9,-8.5 286.1,-11.7" fill="url(#cb)"/><polygon points="237.5,17.1 247.4,22.0 247.4,72.0 232.8,23.2" fill="url(#cb)"/><polygon points="299.4,-20.8 308.6,-32.3 317.4,-22.3 316.9,-16.9 302.6,-15.4 300.8,-16.7" fill="url(#cy)"/><polygon points="105.4,14.8 93.5,16.3 89.8,4.5 91.4,3.4 99.9,3.1" fill="url(#cb)"/><polygon points="261.3,17.5 250.4,18.2 247.4,22.0 247.4,72.0 248.1,76.8 264.0,20.3" fill="url(#cy)"/><polygon points="263.9,-9.6 266.5,-0.8 265.9,1.0 260.0,5.8 249.2,3.8 247.6,-4.7 255.4,-11.0" fill="url(#cb)"/><polygon points="371.7,1.6 366.8,6.1 361.6,6.3 356.7,0.5 358.8,-6.7 368.2,-7.2 371.9,-2.2" fill="url(#cb)"/><polygon points="324.5,14.4 319.1,22.8 327.6,30.7 335.4,22.2 334.9,20.5" fill="url(#cy)"/><polygon points="214.2,-5.7 207.4,-2.4 199.1,-8.3 210.0,-18.6 212.9,-17.4" fill="url(#cb)"/><polygon points="135.9,-8.4 145.8,-14.2 144.5,-23.0 136.1,-24.2 130.3,-16.6" fill="url(#cy)"/><polygon points="220.7,3.3 222.0,-1.1 224.1,-2.3 232.6,-0.7 237.2,9.2 226.0,11.5" fill="url(#cy)"/><polygon points="92.5,-9.0 91.4,3.4 89.8,4.5 -343.0,-5.0 73.1,-16.7" fill="url(#cy)"/><polygon points="274.1,10.2 265.9,1.0 260.0,5.8 261.3,17.5 264.0,20.3 267.9,19.7" fill="url(#cg)"/><polygon points="339.6,12.9 348.4,12.8 351.3,15.5 343.8,27.4 335.4,22.2 334.9,20.5" fill="url(#cy)"/><polygon points="335.8,5.6 342.6,-2.5 348.2,1.6 348.4,12.8 339.6,12.9" fill="url(#cy)"/><polygon points="335.4,22.2 343.8,27.4 348.6,39.6 356.8,705.8 320.2,757.6 327.6,30.7" fill="url(#cy)"/><polygon points="121.9,-2.6 127.7,11.4 132.1,11.4 135.4,9.4 135.0,-4.4 135.0,-4.5" fill="url(#cg)"/><polygon points="158.2,-5.7 153.7,-8.9 146.7,-0.5 147.2,4.1 154.7,9.2 158.6,7.0" fill="url(#cy)"/><polygon points="299.5,27.1 293.2,20.3 280.0,27.9 263.3,612.2 303.0,52.0" fill="url(#cy)"/><polygon points="360.5,21.8 365.5,22.7 568.4,418.0 356.8,705.8 348.6,39.6" fill="url(#cb)"/><polygon points="153.7,-8.9 160.5,-20.6 149.4,-28.3 144.5,-23.0 145.8,-14.2" fill="url(#cy)"/><polygon points="332.5,5.5 326.7,-2.6 329.7,-8.9 342.4,-3.6 342.6,-2.5 335.8,5.6" fill="url(#cb)"/><polygon points="309.0,18.3 308.1,10.2 309.0,9.1 318.1,7.3 324.1,12.5 324.5,14.4 319.1,22.8 316.8,23.3" fill="url(#cy)"/><polygon points="132.1,11.4 134.6,23.0 141.7,26.5 147.7,19.4 138.3,9.9 135.4,9.4" fill="url(#cy)"/><polygon points="361.6,6.3 355.5,15.8 360.5,21.8 365.5,22.7 371.4,16.9 366.8,6.1" fill="url(#cy)"/><polygon points="371.7,1.6 399.5,16.9 371.4,16.9 366.8,6.1" fill="url(#cy)"/><polygon points="254.3,-23.5 246.4,-29.5 240.0,-22.7 241.4,-18.3 252.4,-18.5" fill="url(#cg)"/><polygon points="212.8,15.4 205.8,22.7 215.5,38.9 221.8,20.0" fill="url(#cb)"/><polygon points="180.0,-16.2 179.1,-12.5 169.2,-9.7 165.2,-21.2 175.8,-22.9 178.1,-21.4" fill="url(#cb)"/><polygon points="182.9,-6.0 195.4,-9.7 197.6,-8.1 194.9,2.1 186.4,4.7 182.1,-1.7" fill="url(#cb)"/><polygon points="354.8,-12.9 358.8,-6.7 356.7,0.5 348.2,1.6 342.6,-2.5 342.4,-3.6 345.9,-10.9" fill="url(#cb)"/><polygon points="226.0,-42.5 219.8,-86.1 199.1,-630.2 196.6,-763.1 196.8,-779.6 222.8,-820.5 246.4,-29.5 240.0,-22.7 233.6,-26.1" fill="url(#cy)"/><polygon points="103.1,-319.1 92.0,-636.6 196.8,-779.6 196.6,-763.1 167.0,-165.2 149.4,-28.3 144.5,-23.0 136.1,-24.2 128.8,-35.9" fill="url(#cb)"/><polygon points="309.0,9.1 318.1,7.3 320.0,0.1 314.9,-6.0 306.1,-3.4" fill="url(#cy)"/><polygon points="299.5,27.1 309.0,18.3 316.8,23.3 303.0,52.0" fill="url(#cy)"/><polygon points="221.8,20.0 215.5,38.9 245.5,369.5 248.1,76.8 247.4,72.0 232.8,23.2 222.7,19.6" fill="url(#cb)"/><polygon points="226.0,-42.5 219.8,-86.1 208.9,-20.6 210.0,-18.6 212.9,-17.4 219.5,-18.7" fill="url(#cy)"/><polygon points="151.5,18.5 147.7,19.4 141.7,26.5 149.5,193.7 157.2,23.0" fill="url(#cy)"/><polygon points="211.2,9.3 206.9,6.9 207.4,-2.4 214.2,-5.7 222.0,-1.1 220.7,3.3" fill="url(#cy)"/><polygon points="282.3,-63.2 295.1,-22.9 299.4,-20.8 308.6,-32.3 281.5,-637.0 277.3,-209.7 281.0,-71.8" fill="url(#cy)"/><polygon points="368.3,-17.8 370.2,-16.6 415.1,-26.1 771.8,-148.6 569.6,-416.0 365.4,-25.4" fill="url(#cy)"/><polygon points="260.0,5.8 249.2,3.8 246.6,6.7 250.4,18.2 261.3,17.5" fill="url(#cg)"/><polygon points="340.6,-19.4 334.2,-19.5 328.5,-29.1 336.4,-67.1 344.4,-24.5" fill="url(#cb)"/><polygon points="219.5,-18.7 212.9,-17.4 214.2,-5.7 222.0,-1.1 224.1,-2.3 226.3,-14.9 226.0,-15.3" fill="url(#cy)"/><polygon points="92.5,-9.0 99.5,-12.5 99.9,-19.4 95.2,-24.5 73.1,-16.7" fill="url(#cg)"/><polygon points="297.8,-1.6 305.4,-3.8 306.1,-3.4 309.0,9.1 308.1,10.2 297.6,10.3 295.2,6.5" fill="url(#cy)"/><polygon points="113.8,11.8 107.8,16.1 108.2,22.1 123.0,27.6 123.2,14.1" fill="url(#cy)"/><polygon points="197.6,-8.1 199.1,-8.3 207.4,-2.4 206.9,6.9 201.2,8.2 194.9,2.1" fill="url(#cb)"/><polygon points="371.9,-2.2 415.1,-26.1 370.2,-16.6 368.2,-7.2" fill="url(#cb)"/><polygon points="157.2,23.0 149.5,193.7 153.8,717.9 166.1,735.2 171.8,31.0 163.4,21.7" fill="url(#cb)"/><polygon points="233.6,-26.1 240.0,-22.7 241.4,-18.3 239.0,-11.7 226.3,-14.9 226.0,-15.3" fill="url(#cy)"/><polygon points="107.8,16.1 108.2,22.1 98.8,37.8 91.8,19.1 93.5,16.3 105.4,14.8" fill="url(#cb)"/><polygon points="232.6,-0.7 240.1,-8.7 247.6,-4.7 249.2,3.8 246.6,6.7 237.4,9.3 237.2,9.2" fill="url(#cb)"/><polygon points="114.2,-21.2 113.5,-11.2 104.8,-7.0 99.5,-12.5 99.9,-19.4 112.3,-22.7" fill="url(#cb)"/><polygon points="158.6,7.0 154.7,9.2 151.5,18.5 157.2,23.0 163.4,21.7 166.5,17.5 165.4,8.7" fill="url(#cy)"/><polygon points="277.3,-209.7 259.0,-26.0 254.3,-23.5 246.4,-29.5 222.8,-820.5 250.0,-864.1 280.1,-816.2 281.5,-637.0" fill="url(#cg)"/><polygon points="284.3,4.0 281.2,10.0 282.1,12.1 293.0,19.0 297.6,10.3 295.2,6.5" fill="url(#cy)"/><polygon points="354.8,-12.9 345.9,-10.9 340.6,-19.4 344.4,-24.5 354.4,-23.6 355.7,-15.0" fill="url(#cb)"/><polygon points="121.9,-2.6 135.0,-4.5 135.9,-8.4 130.3,-16.6 126.1,-16.9 120.4,-6.0 121.5,-2.8" fill="url(#cy)"/><polygon points="158.2,-5.7 158.6,7.0 165.4,8.7 170.3,5.9 171.8,1.3 167.3,-6.5" fill="url(#cy)"/><polygon points="175.8,-22.9 167.7,-131.8 164.5,-21.5 165.2,-21.2" fill="url(#cb)"/><polygon points="180.0,-16.2 179.1,-12.5 182.9,-6.0 195.4,-9.7 192.6,-17.7" fill="url(#cb)"/><polygon points="193.3,-20.2 199.2,-24.0 208.9,-20.6 210.0,-18.6 199.1,-8.3 197.6,-8.1 195.4,-9.7 192.6,-17.7" fill="url(#cb)"/><polygon points="286.1,-11.7 290.9,-8.5 291.2,-7.1 284.2,3.6 277.9,-2.5 280.0,-9.8" fill="url(#cy)"/><polygon points="344.4,-24.5 336.4,-67.1 343.5,-203.0 355.8,-25.4 354.4,-23.6" fill="url(#cy)"/><polygon points="371.4,16.9 365.5,22.7 568.4,418.0 802.0,110.9 399.5,16.9" fill="url(#cb)"/><polygon points="98.8,37.8 10.2,530.2 -371.7,57.7 91.8,19.1" fill="url(#cy)"/><polygon points="121.9,-2.6 127.7,11.4 123.2,14.1 113.8,11.8 113.9,2.7 121.5,-2.8" fill="url(#cy)"/><polygon points="297.6,10.3 308.1,10.2 309.0,18.3 299.5,27.1 293.2,20.3 293.0,19.0" fill="url(#cy)"/><polygon points="102.8,-109.9 95.2,-24.5 73.1,-16.7 -343.0,-5.0 -415.5,-4.5 92.0,-636.6 103.1,-319.1" fill="url(#cy)"/><polygon points="264.9,-22.3 266.0,-12.5 263.9,-9.6 255.4,-11.0 252.4,-18.5 254.3,-23.5 259.0,-26.0" fill="url(#cb)"/><polygon points="284.2,3.6 284.3,4.0 281.2,10.0 274.1,10.2 265.9,1.0 266.5,-0.8 277.9,-2.5" fill="url(#cy)"/><polygon points="190.8,14.5 185.7,7.9 178.4,12.3 177.6,19.0 178.5,21.0 185.6,23.3 190.1,20.1" fill="url(#cb)"/><polygon points="332.5,5.5 324.1,12.5 324.5,14.4 334.9,20.5 339.6,12.9 335.8,5.6" fill="url(#cb)"/><polygon points="102.8,-109.9 112.3,-22.7 114.2,-21.2 120.9,-21.5 128.8,-35.9 103.1,-319.1" fill="url(#cb)"/><polygon points="185.6,23.3 190.7,51.6 167.2,736.8 166.1,735.2 171.8,31.0 178.5,21.0" fill="url(#cy)"/><polygon points="212.8,15.4 205.8,22.7 202.2,22.1 199.6,11.2 201.2,8.2 206.9,6.9 211.2,9.3" fill="url(#cb)"/><polygon points="317.8,-15.3 328.8,-11.7 329.7,-8.9 326.7,-2.6 320.0,0.1 314.9,-6.0" fill="url(#cy)"/><polygon points="93.5,16.3 91.8,19.1 -371.7,57.7 -419.5,-0.0 -415.5,-4.5 -343.0,-5.0 89.8,4.5" fill="url(#cy)"/><polygon points="198.9,23.7 190.7,51.6 185.6,23.3 190.1,20.1" fill="url(#cb)"/><polygon points="361.6,6.3 355.5,15.8 351.3,15.5 348.4,12.8 348.2,1.6 356.7,0.5" fill="url(#cb)"/><polygon points="141.7,26.5 149.5,193.7 153.8,717.9 145.9,707.3 123.2,28.0 134.6,23.0" fill="url(#cb)"/><polygon points="160.5,-20.6 149.4,-28.3 167.0,-165.2 167.7,-131.8 164.5,-21.5" fill="url(#cb)"/><polygon points="300.8,-16.7 302.6,-15.4 305.4,-3.8 297.8,-1.6 291.2,-7.1 290.9,-8.5" fill="url(#cb)"/><polygon points="199.2,-24.0 208.9,-20.6 219.8,-86.1 199.1,-630.2 193.0,-84.6" fill="url(#cb)"/><polygon points="113.9,2.7 104.9,-1.9 99.9,3.1 105.4,14.8 107.8,16.1 113.8,11.8" fill="url(#cy)"/><polygon points="146.7,-0.5 135.0,-4.4 135.0,-4.5 135.9,-8.4 145.8,-14.2 153.7,-8.9 153.7,-8.9" fill="url(#cy)"/><polygon points="281.5,-637.0 280.1,-816.2 353.3,-710.0 343.5,-203.0 336.4,-67.1 328.5,-29.1 317.4,-22.3 308.6,-32.3" fill="url(#cy)"/><polygon points="212.8,15.4 221.8,20.0 222.7,19.6 226.0,11.5 220.7,3.3 211.2,9.3" fill="url(#cb)"/><polygon points="123.0,27.6 108.2,22.1 98.8,37.8 10.2,530.2 145.9,707.3 123.2,28.0" fill="url(#cb)"/><polygon points="167.3,-6.5 169.2,-9.7 179.1,-12.5 182.9,-6.0 182.1,-1.7 171.8,1.3" fill="url(#cb)"/><polygon points="199.6,11.2 201.2,8.2 194.9,2.1 186.4,4.7 185.7,7.9 190.8,14.5" fill="url(#cy)"/><polygon points="147.2,4.1 138.3,9.9 147.7,19.4 151.5,18.5 154.7,9.2" fill="url(#cy)"/><polygon points="302.6,-15.4 316.9,-16.9 317.8,-15.3 314.9,-6.0 306.1,-3.4 305.4,-3.8" fill="url(#cb)"/><polygon points="178.1,-21.4 175.8,-22.9 167.7,-131.8 167.0,-165.2 196.6,-763.1 199.1,-630.2 193.0,-84.6 187.0,-27.8" fill="url(#cy)"/><polygon points="224.1,-2.3 232.6,-0.7 240.1,-8.7 239.0,-11.7 226.3,-14.9" fill="url(#cb)"/><polygon points="281.0,-71.8 277.3,-209.7 259.0,-26.0 264.9,-22.3 271.2,-26.1" fill="url(#cb)"/><polygon points="222.7,19.6 232.8,23.2 237.5,17.1 237.4,9.3 237.2,9.2 226.0,11.5" fill="url(#cy)"/><polygon points="282.1,12.1 277.9,24.5 267.9,19.7 274.1,10.2 281.2,10.0" fill="url(#cy)"/><polygon points="282.9,-22.7 277.1,-20.8 274.7,-14.4 280.0,-9.8 286.1,-11.7 286.3,-20.4" fill="url(#cy)"/><polygon points="354.8,-12.9 358.8,-6.7 368.2,-7.2 370.2,-16.6 368.3,-17.8 355.7,-15.0" fill="url(#cy)"/><polygon points="170.3,5.9 178.4,12.3 177.6,19.0 166.5,17.5 165.4,8.7" fill="url(#cg)"/><polygon points="282.9,-22.7 282.3,-63.2 295.1,-22.9 286.3,-20.4" fill="url(#cy)"/><polygon points="371.7,1.6 399.5,16.9 802.0,110.9 891.6,-0.0 771.8,-148.6 415.1,-26.1 371.9,-2.2" fill="url(#cb)"/><polygon points="303.0,52.0 263.3,612.2 255.6,753.5 254.8,852.3 320.2,757.6 327.6,30.7 319.1,22.8 316.8,23.3" fill="url(#cb)"/></g>
<polygon points="0,-25.2 92,-25.2 100,-25.2 97,-10 101,4 96,14 99,25.2 0,25.2" fill="url(#gEl)"/>
<polygon points="0,-25.2 21,-25.2 0,-7" fill="#b3944c" opacity=".85"/>
<polyline points="13.8,-8.9 27.6,-5.9 73,9.9 84.8,11.4" fill="none" stroke="#c4a347" stroke-width="2" opacity=".65"/>
<polyline points="80.9,23.7 73,9.9" fill="none" stroke="#c4a347" stroke-width="1.6" opacity=".55"/>
<polygon points="0,25.2 0,8 60,25.2" fill="#e6cd8c" opacity=".5"/>
</g>
<rect x="375.7" y="11.6" width="1.9" height="2.4" fill="#b5b5b5" opacity="0.47"/><rect x="367.8" y="12.0" width="0.9" height="7.0" fill="#b5b5b5" opacity="0.61"/><rect x="369.5" y="-5.8" width="1.4" height="3.7" fill="#b5b5b5" opacity="0.68"/><rect x="371.7" y="-24.1" width="2.3" height="6.7" fill="#b5b5b5" opacity="0.48"/><rect x="377.0" y="18.4" width="1.5" height="3.0" fill="#b5b5b5" opacity="0.49"/><rect x="361.6" y="-9.5" width="1.1" height="3.2" fill="#b5b5b5" opacity="0.40"/><rect x="377.4" y="13.2" width="2.1" height="4.8" fill="#b5b5b5" opacity="0.40"/><rect x="365.8" y="16.7" width="1.0" height="2.8" fill="#b5b5b5" opacity="0.64"/><rect x="373.1" y="-11.2" width="2.3" height="6.5" fill="#b5b5b5" opacity="0.55"/><rect x="385.6" y="12.4" width="1.4" height="3.1" fill="#b5b5b5" opacity="0.36"/><rect x="384.1" y="-11.6" width="1.6" height="5.1" fill="#b5b5b5" opacity="0.57"/><rect x="365.3" y="-15.6" width="0.9" height="6.1" fill="#b5b5b5" opacity="0.53"/><rect x="364.5" y="10.6" width="1.9" height="6.8" fill="#b5b5b5" opacity="0.61"/><rect x="367.8" y="-24.6" width="0.9" height="4.8" fill="#b5b5b5" opacity="0.69"/><rect x="360.3" y="-19.1" width="1.5" height="5.3" fill="#b5b5b5" opacity="0.52"/><rect x="360.3" y="14.1" width="2.4" height="5.1" fill="#b5b5b5" opacity="0.46"/><rect x="361.1" y="-17.5" width="1.0" height="6.8" fill="#b5b5b5" opacity="0.46"/><rect x="377.2" y="17.3" width="1.2" height="6.5" fill="#b5b5b5" opacity="0.51"/><rect x="380.8" y="14.0" width="2.4" height="3.6" fill="#b5b5b5" opacity="0.62"/><rect x="362.2" y="-9.8" width="1.4" height="5.1" fill="#b5b5b5" opacity="0.67"/><rect x="381.4" y="15.7" width="2.4" height="6.3" fill="#b5b5b5" opacity="0.42"/><rect x="364.5" y="14.1" width="1.9" height="3.8" fill="#b5b5b5" opacity="0.41"/><rect x="361.3" y="-18.1" width="1.4" height="3.5" fill="#b5b5b5" opacity="0.65"/><rect x="370.8" y="0.9" width="2.0" height="6.6" fill="#b5b5b5" opacity="0.30"/><rect x="385.4" y="17.1" width="1.0" height="6.5" fill="#b5b5b5" opacity="0.41"/><rect x="376.4" y="16.3" width="1.3" height="6.9" fill="#b5b5b5" opacity="0.39"/><rect x="382.4" y="-17.6" width="1.9" height="4.9" fill="#b5b5b5" opacity="0.56"/><rect x="366.0" y="13.4" width="1.7" height="4.6" fill="#b5b5b5" opacity="0.54"/><rect x="370.5" y="0.5" width="1.5" height="5.7" fill="#b5b5b5" opacity="0.32"/><rect x="375.6" y="14.3" width="2.1" height="2.8" fill="#b5b5b5" opacity="0.50"/><rect x="375.9" y="16.5" width="1.8" height="2.6" fill="#b5b5b5" opacity="0.56"/><rect x="368.9" y="3.8" width="1.8" height="5.6" fill="#b5b5b5" opacity="0.68"/><rect x="365.5" y="-7.7" width="2.4" height="3.6" fill="#b5b5b5" opacity="0.59"/><rect x="379.1" y="-18.4" width="2.4" height="4.9" fill="#b5b5b5" opacity="0.40"/><rect x="366.6" y="13.9" width="2.2" height="4.5" fill="#b5b5b5" opacity="0.41"/><rect x="370.6" y="19.2" width="2.0" height="3.5" fill="#b5b5b5" opacity="0.60"/><rect x="365.0" y="11.5" width="2.3" height="6.5" fill="#b5b5b5" opacity="0.38"/><rect x="378.8" y="-20.1" width="0.9" height="5.2" fill="#b5b5b5" opacity="0.34"/><rect x="366.8" y="-17.0" width="1.7" height="6.8" fill="#b5b5b5" opacity="0.63"/><rect x="361.4" y="-7.4" width="1.6" height="2.9" fill="#b5b5b5" opacity="0.42"/><rect x="373.5" y="21.7" width="1.0" height="2.3" fill="#b5b5b5" opacity="0.61"/><rect x="374.3" y="12.8" width="1.6" height="5.7" fill="#b5b5b5" opacity="0.42"/><rect x="374.7" y="-13.0" width="1.4" height="5.6" fill="#b5b5b5" opacity="0.35"/><rect x="360.9" y="-11.6" width="1.1" height="2.7" fill="#b5b5b5" opacity="0.41"/><rect x="368.7" y="17.9" width="1.6" height="4.5" fill="#b5b5b5" opacity="0.65"/><rect x="371.2" y="-13.8" width="2.4" height="4.4" fill="#b5b5b5" opacity="0.34"/><rect x="362.1" y="-17.3" width="1.1" height="2.7" fill="#b5b5b5" opacity="0.44"/><rect x="378.8" y="21.5" width="1.3" height="3.7" fill="#b5b5b5" opacity="0.33"/><rect x="369.0" y="3.1" width="1.8" height="4.6" fill="#b5b5b5" opacity="0.31"/><rect x="370.8" y="-17.6" width="1.2" height="5.0" fill="#b5b5b5" opacity="0.69"/><rect x="380.1" y="-13.4" width="1.0" height="2.8" fill="#b5b5b5" opacity="0.38"/><rect x="362.5" y="-4.1" width="0.8" height="4.2" fill="#b5b5b5" opacity="0.59"/><rect x="375.6" y="20.0" width="2.0" height="5.2" fill="#b5b5b5" opacity="0.37"/><rect x="366.9" y="9.6" width="1.8" height="5.5" fill="#b5b5b5" opacity="0.35"/><rect x="370.9" y="19.1" width="1.1" height="5.9" fill="#b5b5b5" opacity="0.54"/><rect x="363.2" y="-1.1" width="1.7" height="5.6" fill="#b5b5b5" opacity="0.66"/><rect x="362.5" y="-16.1" width="2.1" height="6.9" fill="#b5b5b5" opacity="0.36"/><rect x="380.4" y="-21.8" width="0.8" height="7.0" fill="#b5b5b5" opacity="0.61"/><rect x="371.4" y="14.9" width="1.9" height="4.3" fill="#b5b5b5" opacity="0.42"/><rect x="374.3" y="21.9" width="2.2" height="3.1" fill="#b5b5b5" opacity="0.55"/><rect x="383.2" y="-18.8" width="1.4" height="2.4" fill="#b5b5b5" opacity="0.53"/><rect x="360.3" y="8.9" width="2.0" height="3.3" fill="#b5b5b5" opacity="0.37"/><rect x="363.1" y="3.3" width="1.3" height="4.0" fill="#b5b5b5" opacity="0.56"/><rect x="364.4" y="-0.5" width="1.3" height="4.4" fill="#b5b5b5" opacity="0.56"/><rect x="378.4" y="9.2" width="1.5" height="2.1" fill="#b5b5b5" opacity="0.69"/><rect x="371.5" y="22.0" width="1.4" height="3.2" fill="#b5b5b5" opacity="0.37"/><rect x="363.9" y="9.6" width="1.2" height="2.3" fill="#b5b5b5" opacity="0.50"/><rect x="376.7" y="15.9" width="1.0" height="6.0" fill="#b5b5b5" opacity="0.32"/><rect x="367.1" y="-0.1" width="1.5" height="6.0" fill="#b5b5b5" opacity="0.57"/><rect x="365.0" y="-10.9" width="2.3" height="5.3" fill="#b5b5b5" opacity="0.31"/><rect x="370.3" y="-14.8" width="1.9" height="6.5" fill="#b5b5b5" opacity="0.61"/><rect x="363.3" y="6.5" width="1.5" height="5.0" fill="#b5b5b5" opacity="0.65"/><rect x="367.6" y="-12.3" width="1.6" height="2.9" fill="#b5b5b5" opacity="0.64"/><rect x="363.6" y="-10.4" width="2.3" height="2.1" fill="#b5b5b5" opacity="0.69"/><rect x="366.4" y="17.0" width="0.9" height="5.1" fill="#b5b5b5" opacity="0.64"/></g>
<g transform="translate(370.3,165.8) rotate(40.3) scale(0.289)" opacity="0.28"><rect x="360" y="-24.5" width="26" height="49" fill="#e9e9e9" opacity=".55"/><g clip-path="url(#cpStrip)"><rect x="0" y="-26" width="372" height="52" fill="#e3c451"/>
<g filter="url(#fSoft)"><polygon points="120.4,-6.0 113.5,-11.2 114.2,-21.2 120.9,-21.5 126.1,-16.9" fill="url(#cg)"/><polygon points="158.2,-5.7 153.7,-8.9 153.7,-8.9 160.5,-20.6 164.5,-21.5 165.2,-21.2 169.2,-9.7 167.3,-6.5" fill="url(#cg)"/><polygon points="146.7,-0.5 135.0,-4.4 135.4,9.4 138.3,9.9 147.2,4.1" fill="url(#cg)"/><polygon points="127.7,11.4 132.1,11.4 134.6,23.0 123.2,28.0 123.0,27.6 123.2,14.1" fill="url(#cg)"/><polygon points="180.0,-16.2 192.6,-17.7 193.3,-20.2 187.0,-27.8 178.1,-21.4" fill="url(#cg)"/><polygon points="177.6,19.0 178.5,21.0 171.8,31.0 163.4,21.7 166.5,17.5" fill="url(#cg)"/><polygon points="226.0,-42.5 219.5,-18.7 226.0,-15.3 233.6,-26.1" fill="url(#cg)"/><polygon points="252.4,-18.5 241.4,-18.3 239.0,-11.7 240.1,-8.7 247.6,-4.7 255.4,-11.0" fill="url(#cg)"/><polygon points="277.1,-20.8 271.2,-26.1 264.9,-22.3 266.0,-12.5 274.7,-14.4" fill="url(#cg)"/><polygon points="284.2,3.6 284.3,4.0 295.2,6.5 297.8,-1.6 291.2,-7.1" fill="url(#cg)"/><polygon points="293.0,19.0 293.2,20.3 280.0,27.9 277.9,24.5 282.1,12.1" fill="url(#cg)"/><polygon points="332.5,5.5 326.7,-2.6 320.0,0.1 318.1,7.3 324.1,12.5" fill="url(#cg)"/><polygon points="340.6,-19.4 334.2,-19.5 328.8,-11.7 329.7,-8.9 342.4,-3.6 345.9,-10.9" fill="url(#cg)"/><polygon points="355.7,-15.0 368.3,-17.8 365.4,-25.4 355.8,-25.4 354.4,-23.6" fill="url(#cg)"/><polygon points="202.2,22.1 199.6,11.2 190.8,14.5 190.1,20.1 198.9,23.7" fill="url(#cg)"/><polygon points="237.5,17.1 237.4,9.3 246.6,6.7 250.4,18.2 247.4,22.0" fill="url(#cg)"/><polygon points="351.3,15.5 343.8,27.4 348.6,39.6 360.5,21.8 355.5,15.8" fill="url(#cg)"/><polygon points="282.9,-22.7 282.3,-63.2 281.0,-71.8 271.2,-26.1 277.1,-20.8" fill="url(#cy)"/><polygon points="187.0,-27.8 193.0,-84.6 199.2,-24.0 193.3,-20.2" fill="url(#cy)"/><polygon points="92.5,-9.0 91.4,3.4 99.9,3.1 104.9,-1.9 104.8,-7.0 99.5,-12.5" fill="url(#cg)"/><polygon points="121.5,-2.8 113.9,2.7 104.9,-1.9 104.8,-7.0 113.5,-11.2 120.4,-6.0" fill="url(#cb)"/><polygon points="277.9,24.5 280.0,27.9 263.3,612.2 255.6,753.5 245.5,369.5 248.1,76.8 264.0,20.3 267.9,19.7" fill="url(#cb)"/><polygon points="202.2,22.1 205.8,22.7 215.5,38.9 245.5,369.5 255.6,753.5 254.8,852.3 250.0,860.5 167.2,736.8 190.7,51.6 198.9,23.7" fill="url(#cg)"/><polygon points="130.3,-16.6 136.1,-24.2 128.8,-35.9 120.9,-21.5 126.1,-16.9" fill="url(#cy)"/><polygon points="317.8,-15.3 328.8,-11.7 334.2,-19.5 328.5,-29.1 317.4,-22.3 316.9,-16.9" fill="url(#cb)"/><polygon points="274.7,-14.4 266.0,-12.5 263.9,-9.6 266.5,-0.8 277.9,-2.5 280.0,-9.8" fill="url(#cy)"/><polygon points="102.8,-109.9 95.2,-24.5 99.9,-19.4 112.3,-22.7" fill="url(#cy)"/><polygon points="170.3,5.9 178.4,12.3 185.7,7.9 186.4,4.7 182.1,-1.7 171.8,1.3" fill="url(#cy)"/><polygon points="286.3,-20.4 295.1,-22.9 299.4,-20.8 300.8,-16.7 290.9,-8.5 286.1,-11.7" fill="url(#cb)"/><polygon points="237.5,17.1 247.4,22.0 247.4,72.0 232.8,23.2" fill="url(#cb)"/><polygon points="299.4,-20.8 308.6,-32.3 317.4,-22.3 316.9,-16.9 302.6,-15.4 300.8,-16.7" fill="url(#cy)"/><polygon points="105.4,14.8 93.5,16.3 89.8,4.5 91.4,3.4 99.9,3.1" fill="url(#cb)"/><polygon points="261.3,17.5 250.4,18.2 247.4,22.0 247.4,72.0 248.1,76.8 264.0,20.3" fill="url(#cy)"/><polygon points="263.9,-9.6 266.5,-0.8 265.9,1.0 260.0,5.8 249.2,3.8 247.6,-4.7 255.4,-11.0" fill="url(#cb)"/><polygon points="371.7,1.6 366.8,6.1 361.6,6.3 356.7,0.5 358.8,-6.7 368.2,-7.2 371.9,-2.2" fill="url(#cb)"/><polygon points="324.5,14.4 319.1,22.8 327.6,30.7 335.4,22.2 334.9,20.5" fill="url(#cy)"/><polygon points="214.2,-5.7 207.4,-2.4 199.1,-8.3 210.0,-18.6 212.9,-17.4" fill="url(#cb)"/><polygon points="135.9,-8.4 145.8,-14.2 144.5,-23.0 136.1,-24.2 130.3,-16.6" fill="url(#cy)"/><polygon points="220.7,3.3 222.0,-1.1 224.1,-2.3 232.6,-0.7 237.2,9.2 226.0,11.5" fill="url(#cy)"/><polygon points="92.5,-9.0 91.4,3.4 89.8,4.5 -343.0,-5.0 73.1,-16.7" fill="url(#cy)"/><polygon points="274.1,10.2 265.9,1.0 260.0,5.8 261.3,17.5 264.0,20.3 267.9,19.7" fill="url(#cg)"/><polygon points="339.6,12.9 348.4,12.8 351.3,15.5 343.8,27.4 335.4,22.2 334.9,20.5" fill="url(#cy)"/><polygon points="335.8,5.6 342.6,-2.5 348.2,1.6 348.4,12.8 339.6,12.9" fill="url(#cy)"/><polygon points="335.4,22.2 343.8,27.4 348.6,39.6 356.8,705.8 320.2,757.6 327.6,30.7" fill="url(#cy)"/><polygon points="121.9,-2.6 127.7,11.4 132.1,11.4 135.4,9.4 135.0,-4.4 135.0,-4.5" fill="url(#cg)"/><polygon points="158.2,-5.7 153.7,-8.9 146.7,-0.5 147.2,4.1 154.7,9.2 158.6,7.0" fill="url(#cy)"/><polygon points="299.5,27.1 293.2,20.3 280.0,27.9 263.3,612.2 303.0,52.0" fill="url(#cy)"/><polygon points="360.5,21.8 365.5,22.7 568.4,418.0 356.8,705.8 348.6,39.6" fill="url(#cb)"/><polygon points="153.7,-8.9 160.5,-20.6 149.4,-28.3 144.5,-23.0 145.8,-14.2" fill="url(#cy)"/><polygon points="332.5,5.5 326.7,-2.6 329.7,-8.9 342.4,-3.6 342.6,-2.5 335.8,5.6" fill="url(#cb)"/><polygon points="309.0,18.3 308.1,10.2 309.0,9.1 318.1,7.3 324.1,12.5 324.5,14.4 319.1,22.8 316.8,23.3" fill="url(#cy)"/><polygon points="132.1,11.4 134.6,23.0 141.7,26.5 147.7,19.4 138.3,9.9 135.4,9.4" fill="url(#cy)"/><polygon points="361.6,6.3 355.5,15.8 360.5,21.8 365.5,22.7 371.4,16.9 366.8,6.1" fill="url(#cy)"/><polygon points="371.7,1.6 399.5,16.9 371.4,16.9 366.8,6.1" fill="url(#cy)"/><polygon points="254.3,-23.5 246.4,-29.5 240.0,-22.7 241.4,-18.3 252.4,-18.5" fill="url(#cg)"/><polygon points="212.8,15.4 205.8,22.7 215.5,38.9 221.8,20.0" fill="url(#cb)"/><polygon points="180.0,-16.2 179.1,-12.5 169.2,-9.7 165.2,-21.2 175.8,-22.9 178.1,-21.4" fill="url(#cb)"/><polygon points="182.9,-6.0 195.4,-9.7 197.6,-8.1 194.9,2.1 186.4,4.7 182.1,-1.7" fill="url(#cb)"/><polygon points="354.8,-12.9 358.8,-6.7 356.7,0.5 348.2,1.6 342.6,-2.5 342.4,-3.6 345.9,-10.9" fill="url(#cb)"/><polygon points="226.0,-42.5 219.8,-86.1 199.1,-630.2 196.6,-763.1 196.8,-779.6 222.8,-820.5 246.4,-29.5 240.0,-22.7 233.6,-26.1" fill="url(#cy)"/><polygon points="103.1,-319.1 92.0,-636.6 196.8,-779.6 196.6,-763.1 167.0,-165.2 149.4,-28.3 144.5,-23.0 136.1,-24.2 128.8,-35.9" fill="url(#cb)"/><polygon points="309.0,9.1 318.1,7.3 320.0,0.1 314.9,-6.0 306.1,-3.4" fill="url(#cy)"/><polygon points="299.5,27.1 309.0,18.3 316.8,23.3 303.0,52.0" fill="url(#cy)"/><polygon points="221.8,20.0 215.5,38.9 245.5,369.5 248.1,76.8 247.4,72.0 232.8,23.2 222.7,19.6" fill="url(#cb)"/><polygon points="226.0,-42.5 219.8,-86.1 208.9,-20.6 210.0,-18.6 212.9,-17.4 219.5,-18.7" fill="url(#cy)"/><polygon points="151.5,18.5 147.7,19.4 141.7,26.5 149.5,193.7 157.2,23.0" fill="url(#cy)"/><polygon points="211.2,9.3 206.9,6.9 207.4,-2.4 214.2,-5.7 222.0,-1.1 220.7,3.3" fill="url(#cy)"/><polygon points="282.3,-63.2 295.1,-22.9 299.4,-20.8 308.6,-32.3 281.5,-637.0 277.3,-209.7 281.0,-71.8" fill="url(#cy)"/><polygon points="368.3,-17.8 370.2,-16.6 415.1,-26.1 771.8,-148.6 569.6,-416.0 365.4,-25.4" fill="url(#cy)"/><polygon points="260.0,5.8 249.2,3.8 246.6,6.7 250.4,18.2 261.3,17.5" fill="url(#cg)"/><polygon points="340.6,-19.4 334.2,-19.5 328.5,-29.1 336.4,-67.1 344.4,-24.5" fill="url(#cb)"/><polygon points="219.5,-18.7 212.9,-17.4 214.2,-5.7 222.0,-1.1 224.1,-2.3 226.3,-14.9 226.0,-15.3" fill="url(#cy)"/><polygon points="92.5,-9.0 99.5,-12.5 99.9,-19.4 95.2,-24.5 73.1,-16.7" fill="url(#cg)"/><polygon points="297.8,-1.6 305.4,-3.8 306.1,-3.4 309.0,9.1 308.1,10.2 297.6,10.3 295.2,6.5" fill="url(#cy)"/><polygon points="113.8,11.8 107.8,16.1 108.2,22.1 123.0,27.6 123.2,14.1" fill="url(#cy)"/><polygon points="197.6,-8.1 199.1,-8.3 207.4,-2.4 206.9,6.9 201.2,8.2 194.9,2.1" fill="url(#cb)"/><polygon points="371.9,-2.2 415.1,-26.1 370.2,-16.6 368.2,-7.2" fill="url(#cb)"/><polygon points="157.2,23.0 149.5,193.7 153.8,717.9 166.1,735.2 171.8,31.0 163.4,21.7" fill="url(#cb)"/><polygon points="233.6,-26.1 240.0,-22.7 241.4,-18.3 239.0,-11.7 226.3,-14.9 226.0,-15.3" fill="url(#cy)"/><polygon points="107.8,16.1 108.2,22.1 98.8,37.8 91.8,19.1 93.5,16.3 105.4,14.8" fill="url(#cb)"/><polygon points="232.6,-0.7 240.1,-8.7 247.6,-4.7 249.2,3.8 246.6,6.7 237.4,9.3 237.2,9.2" fill="url(#cb)"/><polygon points="114.2,-21.2 113.5,-11.2 104.8,-7.0 99.5,-12.5 99.9,-19.4 112.3,-22.7" fill="url(#cb)"/><polygon points="158.6,7.0 154.7,9.2 151.5,18.5 157.2,23.0 163.4,21.7 166.5,17.5 165.4,8.7" fill="url(#cy)"/><polygon points="277.3,-209.7 259.0,-26.0 254.3,-23.5 246.4,-29.5 222.8,-820.5 250.0,-864.1 280.1,-816.2 281.5,-637.0" fill="url(#cg)"/><polygon points="284.3,4.0 281.2,10.0 282.1,12.1 293.0,19.0 297.6,10.3 295.2,6.5" fill="url(#cy)"/><polygon points="354.8,-12.9 345.9,-10.9 340.6,-19.4 344.4,-24.5 354.4,-23.6 355.7,-15.0" fill="url(#cb)"/><polygon points="121.9,-2.6 135.0,-4.5 135.9,-8.4 130.3,-16.6 126.1,-16.9 120.4,-6.0 121.5,-2.8" fill="url(#cy)"/><polygon points="158.2,-5.7 158.6,7.0 165.4,8.7 170.3,5.9 171.8,1.3 167.3,-6.5" fill="url(#cy)"/><polygon points="175.8,-22.9 167.7,-131.8 164.5,-21.5 165.2,-21.2" fill="url(#cb)"/><polygon points="180.0,-16.2 179.1,-12.5 182.9,-6.0 195.4,-9.7 192.6,-17.7" fill="url(#cb)"/><polygon points="193.3,-20.2 199.2,-24.0 208.9,-20.6 210.0,-18.6 199.1,-8.3 197.6,-8.1 195.4,-9.7 192.6,-17.7" fill="url(#cb)"/><polygon points="286.1,-11.7 290.9,-8.5 291.2,-7.1 284.2,3.6 277.9,-2.5 280.0,-9.8" fill="url(#cy)"/><polygon points="344.4,-24.5 336.4,-67.1 343.5,-203.0 355.8,-25.4 354.4,-23.6" fill="url(#cy)"/><polygon points="371.4,16.9 365.5,22.7 568.4,418.0 802.0,110.9 399.5,16.9" fill="url(#cb)"/><polygon points="98.8,37.8 10.2,530.2 -371.7,57.7 91.8,19.1" fill="url(#cy)"/><polygon points="121.9,-2.6 127.7,11.4 123.2,14.1 113.8,11.8 113.9,2.7 121.5,-2.8" fill="url(#cy)"/><polygon points="297.6,10.3 308.1,10.2 309.0,18.3 299.5,27.1 293.2,20.3 293.0,19.0" fill="url(#cy)"/><polygon points="102.8,-109.9 95.2,-24.5 73.1,-16.7 -343.0,-5.0 -415.5,-4.5 92.0,-636.6 103.1,-319.1" fill="url(#cy)"/><polygon points="264.9,-22.3 266.0,-12.5 263.9,-9.6 255.4,-11.0 252.4,-18.5 254.3,-23.5 259.0,-26.0" fill="url(#cb)"/><polygon points="284.2,3.6 284.3,4.0 281.2,10.0 274.1,10.2 265.9,1.0 266.5,-0.8 277.9,-2.5" fill="url(#cy)"/><polygon points="190.8,14.5 185.7,7.9 178.4,12.3 177.6,19.0 178.5,21.0 185.6,23.3 190.1,20.1" fill="url(#cb)"/><polygon points="332.5,5.5 324.1,12.5 324.5,14.4 334.9,20.5 339.6,12.9 335.8,5.6" fill="url(#cb)"/><polygon points="102.8,-109.9 112.3,-22.7 114.2,-21.2 120.9,-21.5 128.8,-35.9 103.1,-319.1" fill="url(#cb)"/><polygon points="185.6,23.3 190.7,51.6 167.2,736.8 166.1,735.2 171.8,31.0 178.5,21.0" fill="url(#cy)"/><polygon points="212.8,15.4 205.8,22.7 202.2,22.1 199.6,11.2 201.2,8.2 206.9,6.9 211.2,9.3" fill="url(#cb)"/><polygon points="317.8,-15.3 328.8,-11.7 329.7,-8.9 326.7,-2.6 320.0,0.1 314.9,-6.0" fill="url(#cy)"/><polygon points="93.5,16.3 91.8,19.1 -371.7,57.7 -419.5,-0.0 -415.5,-4.5 -343.0,-5.0 89.8,4.5" fill="url(#cy)"/><polygon points="198.9,23.7 190.7,51.6 185.6,23.3 190.1,20.1" fill="url(#cb)"/><polygon points="361.6,6.3 355.5,15.8 351.3,15.5 348.4,12.8 348.2,1.6 356.7,0.5" fill="url(#cb)"/><polygon points="141.7,26.5 149.5,193.7 153.8,717.9 145.9,707.3 123.2,28.0 134.6,23.0" fill="url(#cb)"/><polygon points="160.5,-20.6 149.4,-28.3 167.0,-165.2 167.7,-131.8 164.5,-21.5" fill="url(#cb)"/><polygon points="300.8,-16.7 302.6,-15.4 305.4,-3.8 297.8,-1.6 291.2,-7.1 290.9,-8.5" fill="url(#cb)"/><polygon points="199.2,-24.0 208.9,-20.6 219.8,-86.1 199.1,-630.2 193.0,-84.6" fill="url(#cb)"/><polygon points="113.9,2.7 104.9,-1.9 99.9,3.1 105.4,14.8 107.8,16.1 113.8,11.8" fill="url(#cy)"/><polygon points="146.7,-0.5 135.0,-4.4 135.0,-4.5 135.9,-8.4 145.8,-14.2 153.7,-8.9 153.7,-8.9" fill="url(#cy)"/><polygon points="281.5,-637.0 280.1,-816.2 353.3,-710.0 343.5,-203.0 336.4,-67.1 328.5,-29.1 317.4,-22.3 308.6,-32.3" fill="url(#cy)"/><polygon points="212.8,15.4 221.8,20.0 222.7,19.6 226.0,11.5 220.7,3.3 211.2,9.3" fill="url(#cb)"/><polygon points="123.0,27.6 108.2,22.1 98.8,37.8 10.2,530.2 145.9,707.3 123.2,28.0" fill="url(#cb)"/><polygon points="167.3,-6.5 169.2,-9.7 179.1,-12.5 182.9,-6.0 182.1,-1.7 171.8,1.3" fill="url(#cb)"/><polygon points="199.6,11.2 201.2,8.2 194.9,2.1 186.4,4.7 185.7,7.9 190.8,14.5" fill="url(#cy)"/><polygon points="147.2,4.1 138.3,9.9 147.7,19.4 151.5,18.5 154.7,9.2" fill="url(#cy)"/><polygon points="302.6,-15.4 316.9,-16.9 317.8,-15.3 314.9,-6.0 306.1,-3.4 305.4,-3.8" fill="url(#cb)"/><polygon points="178.1,-21.4 175.8,-22.9 167.7,-131.8 167.0,-165.2 196.6,-763.1 199.1,-630.2 193.0,-84.6 187.0,-27.8" fill="url(#cy)"/><polygon points="224.1,-2.3 232.6,-0.7 240.1,-8.7 239.0,-11.7 226.3,-14.9" fill="url(#cb)"/><polygon points="281.0,-71.8 277.3,-209.7 259.0,-26.0 264.9,-22.3 271.2,-26.1" fill="url(#cb)"/><polygon points="222.7,19.6 232.8,23.2 237.5,17.1 237.4,9.3 237.2,9.2 226.0,11.5" fill="url(#cy)"/><polygon points="282.1,12.1 277.9,24.5 267.9,19.7 274.1,10.2 281.2,10.0" fill="url(#cy)"/><polygon points="282.9,-22.7 277.1,-20.8 274.7,-14.4 280.0,-9.8 286.1,-11.7 286.3,-20.4" fill="url(#cy)"/><polygon points="354.8,-12.9 358.8,-6.7 368.2,-7.2 370.2,-16.6 368.3,-17.8 355.7,-15.0" fill="url(#cy)"/><polygon points="170.3,5.9 178.4,12.3 177.6,19.0 166.5,17.5 165.4,8.7" fill="url(#cg)"/><polygon points="282.9,-22.7 282.3,-63.2 295.1,-22.9 286.3,-20.4" fill="url(#cy)"/><polygon points="371.7,1.6 399.5,16.9 802.0,110.9 891.6,-0.0 771.8,-148.6 415.1,-26.1 371.9,-2.2" fill="url(#cb)"/><polygon points="303.0,52.0 263.3,612.2 255.6,753.5 254.8,852.3 320.2,757.6 327.6,30.7 319.1,22.8 316.8,23.3" fill="url(#cb)"/></g>
<polygon points="0,-25.2 92,-25.2 100,-25.2 97,-10 101,4 96,14 99,25.2 0,25.2" fill="url(#gEl)"/>
<polygon points="0,-25.2 21,-25.2 0,-7" fill="#b3944c" opacity=".85"/>
<polyline points="13.8,-8.9 27.6,-5.9 73,9.9 84.8,11.4" fill="none" stroke="#c4a347" stroke-width="2" opacity=".65"/>
<polyline points="80.9,23.7 73,9.9" fill="none" stroke="#c4a347" stroke-width="1.6" opacity=".55"/>
<polygon points="0,25.2 0,8 60,25.2" fill="#e6cd8c" opacity=".5"/>
</g>
<rect x="375.7" y="11.6" width="1.9" height="2.4" fill="#b5b5b5" opacity="0.47"/><rect x="367.8" y="12.0" width="0.9" height="7.0" fill="#b5b5b5" opacity="0.61"/><rect x="369.5" y="-5.8" width="1.4" height="3.7" fill="#b5b5b5" opacity="0.68"/><rect x="371.7" y="-24.1" width="2.3" height="6.7" fill="#b5b5b5" opacity="0.48"/><rect x="377.0" y="18.4" width="1.5" height="3.0" fill="#b5b5b5" opacity="0.49"/><rect x="361.6" y="-9.5" width="1.1" height="3.2" fill="#b5b5b5" opacity="0.40"/><rect x="377.4" y="13.2" width="2.1" height="4.8" fill="#b5b5b5" opacity="0.40"/><rect x="365.8" y="16.7" width="1.0" height="2.8" fill="#b5b5b5" opacity="0.64"/><rect x="373.1" y="-11.2" width="2.3" height="6.5" fill="#b5b5b5" opacity="0.55"/><rect x="385.6" y="12.4" width="1.4" height="3.1" fill="#b5b5b5" opacity="0.36"/><rect x="384.1" y="-11.6" width="1.6" height="5.1" fill="#b5b5b5" opacity="0.57"/><rect x="365.3" y="-15.6" width="0.9" height="6.1" fill="#b5b5b5" opacity="0.53"/><rect x="364.5" y="10.6" width="1.9" height="6.8" fill="#b5b5b5" opacity="0.61"/><rect x="367.8" y="-24.6" width="0.9" height="4.8" fill="#b5b5b5" opacity="0.69"/><rect x="360.3" y="-19.1" width="1.5" height="5.3" fill="#b5b5b5" opacity="0.52"/><rect x="360.3" y="14.1" width="2.4" height="5.1" fill="#b5b5b5" opacity="0.46"/><rect x="361.1" y="-17.5" width="1.0" height="6.8" fill="#b5b5b5" opacity="0.46"/><rect x="377.2" y="17.3" width="1.2" height="6.5" fill="#b5b5b5" opacity="0.51"/><rect x="380.8" y="14.0" width="2.4" height="3.6" fill="#b5b5b5" opacity="0.62"/><rect x="362.2" y="-9.8" width="1.4" height="5.1" fill="#b5b5b5" opacity="0.67"/><rect x="381.4" y="15.7" width="2.4" height="6.3" fill="#b5b5b5" opacity="0.42"/><rect x="364.5" y="14.1" width="1.9" height="3.8" fill="#b5b5b5" opacity="0.41"/><rect x="361.3" y="-18.1" width="1.4" height="3.5" fill="#b5b5b5" opacity="0.65"/><rect x="370.8" y="0.9" width="2.0" height="6.6" fill="#b5b5b5" opacity="0.30"/><rect x="385.4" y="17.1" width="1.0" height="6.5" fill="#b5b5b5" opacity="0.41"/><rect x="376.4" y="16.3" width="1.3" height="6.9" fill="#b5b5b5" opacity="0.39"/><rect x="382.4" y="-17.6" width="1.9" height="4.9" fill="#b5b5b5" opacity="0.56"/><rect x="366.0" y="13.4" width="1.7" height="4.6" fill="#b5b5b5" opacity="0.54"/><rect x="370.5" y="0.5" width="1.5" height="5.7" fill="#b5b5b5" opacity="0.32"/><rect x="375.6" y="14.3" width="2.1" height="2.8" fill="#b5b5b5" opacity="0.50"/><rect x="375.9" y="16.5" width="1.8" height="2.6" fill="#b5b5b5" opacity="0.56"/><rect x="368.9" y="3.8" width="1.8" height="5.6" fill="#b5b5b5" opacity="0.68"/><rect x="365.5" y="-7.7" width="2.4" height="3.6" fill="#b5b5b5" opacity="0.59"/><rect x="379.1" y="-18.4" width="2.4" height="4.9" fill="#b5b5b5" opacity="0.40"/><rect x="366.6" y="13.9" width="2.2" height="4.5" fill="#b5b5b5" opacity="0.41"/><rect x="370.6" y="19.2" width="2.0" height="3.5" fill="#b5b5b5" opacity="0.60"/><rect x="365.0" y="11.5" width="2.3" height="6.5" fill="#b5b5b5" opacity="0.38"/><rect x="378.8" y="-20.1" width="0.9" height="5.2" fill="#b5b5b5" opacity="0.34"/><rect x="366.8" y="-17.0" width="1.7" height="6.8" fill="#b5b5b5" opacity="0.63"/><rect x="361.4" y="-7.4" width="1.6" height="2.9" fill="#b5b5b5" opacity="0.42"/><rect x="373.5" y="21.7" width="1.0" height="2.3" fill="#b5b5b5" opacity="0.61"/><rect x="374.3" y="12.8" width="1.6" height="5.7" fill="#b5b5b5" opacity="0.42"/><rect x="374.7" y="-13.0" width="1.4" height="5.6" fill="#b5b5b5" opacity="0.35"/><rect x="360.9" y="-11.6" width="1.1" height="2.7" fill="#b5b5b5" opacity="0.41"/><rect x="368.7" y="17.9" width="1.6" height="4.5" fill="#b5b5b5" opacity="0.65"/><rect x="371.2" y="-13.8" width="2.4" height="4.4" fill="#b5b5b5" opacity="0.34"/><rect x="362.1" y="-17.3" width="1.1" height="2.7" fill="#b5b5b5" opacity="0.44"/><rect x="378.8" y="21.5" width="1.3" height="3.7" fill="#b5b5b5" opacity="0.33"/><rect x="369.0" y="3.1" width="1.8" height="4.6" fill="#b5b5b5" opacity="0.31"/><rect x="370.8" y="-17.6" width="1.2" height="5.0" fill="#b5b5b5" opacity="0.69"/><rect x="380.1" y="-13.4" width="1.0" height="2.8" fill="#b5b5b5" opacity="0.38"/><rect x="362.5" y="-4.1" width="0.8" height="4.2" fill="#b5b5b5" opacity="0.59"/><rect x="375.6" y="20.0" width="2.0" height="5.2" fill="#b5b5b5" opacity="0.37"/><rect x="366.9" y="9.6" width="1.8" height="5.5" fill="#b5b5b5" opacity="0.35"/><rect x="370.9" y="19.1" width="1.1" height="5.9" fill="#b5b5b5" opacity="0.54"/><rect x="363.2" y="-1.1" width="1.7" height="5.6" fill="#b5b5b5" opacity="0.66"/><rect x="362.5" y="-16.1" width="2.1" height="6.9" fill="#b5b5b5" opacity="0.36"/><rect x="380.4" y="-21.8" width="0.8" height="7.0" fill="#b5b5b5" opacity="0.61"/><rect x="371.4" y="14.9" width="1.9" height="4.3" fill="#b5b5b5" opacity="0.42"/><rect x="374.3" y="21.9" width="2.2" height="3.1" fill="#b5b5b5" opacity="0.55"/><rect x="383.2" y="-18.8" width="1.4" height="2.4" fill="#b5b5b5" opacity="0.53"/><rect x="360.3" y="8.9" width="2.0" height="3.3" fill="#b5b5b5" opacity="0.37"/><rect x="363.1" y="3.3" width="1.3" height="4.0" fill="#b5b5b5" opacity="0.56"/><rect x="364.4" y="-0.5" width="1.3" height="4.4" fill="#b5b5b5" opacity="0.56"/><rect x="378.4" y="9.2" width="1.5" height="2.1" fill="#b5b5b5" opacity="0.69"/><rect x="371.5" y="22.0" width="1.4" height="3.2" fill="#b5b5b5" opacity="0.37"/><rect x="363.9" y="9.6" width="1.2" height="2.3" fill="#b5b5b5" opacity="0.50"/><rect x="376.7" y="15.9" width="1.0" height="6.0" fill="#b5b5b5" opacity="0.32"/><rect x="367.1" y="-0.1" width="1.5" height="6.0" fill="#b5b5b5" opacity="0.57"/><rect x="365.0" y="-10.9" width="2.3" height="5.3" fill="#b5b5b5" opacity="0.31"/><rect x="370.3" y="-14.8" width="1.9" height="6.5" fill="#b5b5b5" opacity="0.61"/><rect x="363.3" y="6.5" width="1.5" height="5.0" fill="#b5b5b5" opacity="0.65"/><rect x="367.6" y="-12.3" width="1.6" height="2.9" fill="#b5b5b5" opacity="0.64"/><rect x="363.6" y="-10.4" width="2.3" height="2.1" fill="#b5b5b5" opacity="0.69"/><rect x="366.4" y="17.0" width="0.9" height="5.1" fill="#b5b5b5" opacity="0.64"/></g>
<g transform="translate(401.6,168.6) rotate(26.4) scale(0.317)" opacity="0.43"><rect x="360" y="-24.5" width="26" height="49" fill="#e9e9e9" opacity=".55"/><g clip-path="url(#cpStrip)"><rect x="0" y="-26" width="372" height="52" fill="#e3c451"/>
<g filter="url(#fSoft)"><polygon points="120.4,-6.0 113.5,-11.2 114.2,-21.2 120.9,-21.5 126.1,-16.9" fill="url(#cg)"/><polygon points="158.2,-5.7 153.7,-8.9 153.7,-8.9 160.5,-20.6 164.5,-21.5 165.2,-21.2 169.2,-9.7 167.3,-6.5" fill="url(#cg)"/><polygon points="146.7,-0.5 135.0,-4.4 135.4,9.4 138.3,9.9 147.2,4.1" fill="url(#cg)"/><polygon points="127.7,11.4 132.1,11.4 134.6,23.0 123.2,28.0 123.0,27.6 123.2,14.1" fill="url(#cg)"/><polygon points="180.0,-16.2 192.6,-17.7 193.3,-20.2 187.0,-27.8 178.1,-21.4" fill="url(#cg)"/><polygon points="177.6,19.0 178.5,21.0 171.8,31.0 163.4,21.7 166.5,17.5" fill="url(#cg)"/><polygon points="226.0,-42.5 219.5,-18.7 226.0,-15.3 233.6,-26.1" fill="url(#cg)"/><polygon points="252.4,-18.5 241.4,-18.3 239.0,-11.7 240.1,-8.7 247.6,-4.7 255.4,-11.0" fill="url(#cg)"/><polygon points="277.1,-20.8 271.2,-26.1 264.9,-22.3 266.0,-12.5 274.7,-14.4" fill="url(#cg)"/><polygon points="284.2,3.6 284.3,4.0 295.2,6.5 297.8,-1.6 291.2,-7.1" fill="url(#cg)"/><polygon points="293.0,19.0 293.2,20.3 280.0,27.9 277.9,24.5 282.1,12.1" fill="url(#cg)"/><polygon points="332.5,5.5 326.7,-2.6 320.0,0.1 318.1,7.3 324.1,12.5" fill="url(#cg)"/><polygon points="340.6,-19.4 334.2,-19.5 328.8,-11.7 329.7,-8.9 342.4,-3.6 345.9,-10.9" fill="url(#cg)"/><polygon points="355.7,-15.0 368.3,-17.8 365.4,-25.4 355.8,-25.4 354.4,-23.6" fill="url(#cg)"/><polygon points="202.2,22.1 199.6,11.2 190.8,14.5 190.1,20.1 198.9,23.7" fill="url(#cg)"/><polygon points="237.5,17.1 237.4,9.3 246.6,6.7 250.4,18.2 247.4,22.0" fill="url(#cg)"/><polygon points="351.3,15.5 343.8,27.4 348.6,39.6 360.5,21.8 355.5,15.8" fill="url(#cg)"/><polygon points="282.9,-22.7 282.3,-63.2 281.0,-71.8 271.2,-26.1 277.1,-20.8" fill="url(#cy)"/><polygon points="187.0,-27.8 193.0,-84.6 199.2,-24.0 193.3,-20.2" fill="url(#cy)"/><polygon points="92.5,-9.0 91.4,3.4 99.9,3.1 104.9,-1.9 104.8,-7.0 99.5,-12.5" fill="url(#cg)"/><polygon points="121.5,-2.8 113.9,2.7 104.9,-1.9 104.8,-7.0 113.5,-11.2 120.4,-6.0" fill="url(#cb)"/><polygon points="277.9,24.5 280.0,27.9 263.3,612.2 255.6,753.5 245.5,369.5 248.1,76.8 264.0,20.3 267.9,19.7" fill="url(#cb)"/><polygon points="202.2,22.1 205.8,22.7 215.5,38.9 245.5,369.5 255.6,753.5 254.8,852.3 250.0,860.5 167.2,736.8 190.7,51.6 198.9,23.7" fill="url(#cg)"/><polygon points="130.3,-16.6 136.1,-24.2 128.8,-35.9 120.9,-21.5 126.1,-16.9" fill="url(#cy)"/><polygon points="317.8,-15.3 328.8,-11.7 334.2,-19.5 328.5,-29.1 317.4,-22.3 316.9,-16.9" fill="url(#cb)"/><polygon points="274.7,-14.4 266.0,-12.5 263.9,-9.6 266.5,-0.8 277.9,-2.5 280.0,-9.8" fill="url(#cy)"/><polygon points="102.8,-109.9 95.2,-24.5 99.9,-19.4 112.3,-22.7" fill="url(#cy)"/><polygon points="170.3,5.9 178.4,12.3 185.7,7.9 186.4,4.7 182.1,-1.7 171.8,1.3" fill="url(#cy)"/><polygon points="286.3,-20.4 295.1,-22.9 299.4,-20.8 300.8,-16.7 290.9,-8.5 286.1,-11.7" fill="url(#cb)"/><polygon points="237.5,17.1 247.4,22.0 247.4,72.0 232.8,23.2" fill="url(#cb)"/><polygon points="299.4,-20.8 308.6,-32.3 317.4,-22.3 316.9,-16.9 302.6,-15.4 300.8,-16.7" fill="url(#cy)"/><polygon points="105.4,14.8 93.5,16.3 89.8,4.5 91.4,3.4 99.9,3.1" fill="url(#cb)"/><polygon points="261.3,17.5 250.4,18.2 247.4,22.0 247.4,72.0 248.1,76.8 264.0,20.3" fill="url(#cy)"/><polygon points="263.9,-9.6 266.5,-0.8 265.9,1.0 260.0,5.8 249.2,3.8 247.6,-4.7 255.4,-11.0" fill="url(#cb)"/><polygon points="371.7,1.6 366.8,6.1 361.6,6.3 356.7,0.5 358.8,-6.7 368.2,-7.2 371.9,-2.2" fill="url(#cb)"/><polygon points="324.5,14.4 319.1,22.8 327.6,30.7 335.4,22.2 334.9,20.5" fill="url(#cy)"/><polygon points="214.2,-5.7 207.4,-2.4 199.1,-8.3 210.0,-18.6 212.9,-17.4" fill="url(#cb)"/><polygon points="135.9,-8.4 145.8,-14.2 144.5,-23.0 136.1,-24.2 130.3,-16.6" fill="url(#cy)"/><polygon points="220.7,3.3 222.0,-1.1 224.1,-2.3 232.6,-0.7 237.2,9.2 226.0,11.5" fill="url(#cy)"/><polygon points="92.5,-9.0 91.4,3.4 89.8,4.5 -343.0,-5.0 73.1,-16.7" fill="url(#cy)"/><polygon points="274.1,10.2 265.9,1.0 260.0,5.8 261.3,17.5 264.0,20.3 267.9,19.7" fill="url(#cg)"/><polygon points="339.6,12.9 348.4,12.8 351.3,15.5 343.8,27.4 335.4,22.2 334.9,20.5" fill="url(#cy)"/><polygon points="335.8,5.6 342.6,-2.5 348.2,1.6 348.4,12.8 339.6,12.9" fill="url(#cy)"/><polygon points="335.4,22.2 343.8,27.4 348.6,39.6 356.8,705.8 320.2,757.6 327.6,30.7" fill="url(#cy)"/><polygon points="121.9,-2.6 127.7,11.4 132.1,11.4 135.4,9.4 135.0,-4.4 135.0,-4.5" fill="url(#cg)"/><polygon points="158.2,-5.7 153.7,-8.9 146.7,-0.5 147.2,4.1 154.7,9.2 158.6,7.0" fill="url(#cy)"/><polygon points="299.5,27.1 293.2,20.3 280.0,27.9 263.3,612.2 303.0,52.0" fill="url(#cy)"/><polygon points="360.5,21.8 365.5,22.7 568.4,418.0 356.8,705.8 348.6,39.6" fill="url(#cb)"/><polygon points="153.7,-8.9 160.5,-20.6 149.4,-28.3 144.5,-23.0 145.8,-14.2" fill="url(#cy)"/><polygon points="332.5,5.5 326.7,-2.6 329.7,-8.9 342.4,-3.6 342.6,-2.5 335.8,5.6" fill="url(#cb)"/><polygon points="309.0,18.3 308.1,10.2 309.0,9.1 318.1,7.3 324.1,12.5 324.5,14.4 319.1,22.8 316.8,23.3" fill="url(#cy)"/><polygon points="132.1,11.4 134.6,23.0 141.7,26.5 147.7,19.4 138.3,9.9 135.4,9.4" fill="url(#cy)"/><polygon points="361.6,6.3 355.5,15.8 360.5,21.8 365.5,22.7 371.4,16.9 366.8,6.1" fill="url(#cy)"/><polygon points="371.7,1.6 399.5,16.9 371.4,16.9 366.8,6.1" fill="url(#cy)"/><polygon points="254.3,-23.5 246.4,-29.5 240.0,-22.7 241.4,-18.3 252.4,-18.5" fill="url(#cg)"/><polygon points="212.8,15.4 205.8,22.7 215.5,38.9 221.8,20.0" fill="url(#cb)"/><polygon points="180.0,-16.2 179.1,-12.5 169.2,-9.7 165.2,-21.2 175.8,-22.9 178.1,-21.4" fill="url(#cb)"/><polygon points="182.9,-6.0 195.4,-9.7 197.6,-8.1 194.9,2.1 186.4,4.7 182.1,-1.7" fill="url(#cb)"/><polygon points="354.8,-12.9 358.8,-6.7 356.7,0.5 348.2,1.6 342.6,-2.5 342.4,-3.6 345.9,-10.9" fill="url(#cb)"/><polygon points="226.0,-42.5 219.8,-86.1 199.1,-630.2 196.6,-763.1 196.8,-779.6 222.8,-820.5 246.4,-29.5 240.0,-22.7 233.6,-26.1" fill="url(#cy)"/><polygon points="103.1,-319.1 92.0,-636.6 196.8,-779.6 196.6,-763.1 167.0,-165.2 149.4,-28.3 144.5,-23.0 136.1,-24.2 128.8,-35.9" fill="url(#cb)"/><polygon points="309.0,9.1 318.1,7.3 320.0,0.1 314.9,-6.0 306.1,-3.4" fill="url(#cy)"/><polygon points="299.5,27.1 309.0,18.3 316.8,23.3 303.0,52.0" fill="url(#cy)"/><polygon points="221.8,20.0 215.5,38.9 245.5,369.5 248.1,76.8 247.4,72.0 232.8,23.2 222.7,19.6" fill="url(#cb)"/><polygon points="226.0,-42.5 219.8,-86.1 208.9,-20.6 210.0,-18.6 212.9,-17.4 219.5,-18.7" fill="url(#cy)"/><polygon points="151.5,18.5 147.7,19.4 141.7,26.5 149.5,193.7 157.2,23.0" fill="url(#cy)"/><polygon points="211.2,9.3 206.9,6.9 207.4,-2.4 214.2,-5.7 222.0,-1.1 220.7,3.3" fill="url(#cy)"/><polygon points="282.3,-63.2 295.1,-22.9 299.4,-20.8 308.6,-32.3 281.5,-637.0 277.3,-209.7 281.0,-71.8" fill="url(#cy)"/><polygon points="368.3,-17.8 370.2,-16.6 415.1,-26.1 771.8,-148.6 569.6,-416.0 365.4,-25.4" fill="url(#cy)"/><polygon points="260.0,5.8 249.2,3.8 246.6,6.7 250.4,18.2 261.3,17.5" fill="url(#cg)"/><polygon points="340.6,-19.4 334.2,-19.5 328.5,-29.1 336.4,-67.1 344.4,-24.5" fill="url(#cb)"/><polygon points="219.5,-18.7 212.9,-17.4 214.2,-5.7 222.0,-1.1 224.1,-2.3 226.3,-14.9 226.0,-15.3" fill="url(#cy)"/><polygon points="92.5,-9.0 99.5,-12.5 99.9,-19.4 95.2,-24.5 73.1,-16.7" fill="url(#cg)"/><polygon points="297.8,-1.6 305.4,-3.8 306.1,-3.4 309.0,9.1 308.1,10.2 297.6,10.3 295.2,6.5" fill="url(#cy)"/><polygon points="113.8,11.8 107.8,16.1 108.2,22.1 123.0,27.6 123.2,14.1" fill="url(#cy)"/><polygon points="197.6,-8.1 199.1,-8.3 207.4,-2.4 206.9,6.9 201.2,8.2 194.9,2.1" fill="url(#cb)"/><polygon points="371.9,-2.2 415.1,-26.1 370.2,-16.6 368.2,-7.2" fill="url(#cb)"/><polygon points="157.2,23.0 149.5,193.7 153.8,717.9 166.1,735.2 171.8,31.0 163.4,21.7" fill="url(#cb)"/><polygon points="233.6,-26.1 240.0,-22.7 241.4,-18.3 239.0,-11.7 226.3,-14.9 226.0,-15.3" fill="url(#cy)"/><polygon points="107.8,16.1 108.2,22.1 98.8,37.8 91.8,19.1 93.5,16.3 105.4,14.8" fill="url(#cb)"/><polygon points="232.6,-0.7 240.1,-8.7 247.6,-4.7 249.2,3.8 246.6,6.7 237.4,9.3 237.2,9.2" fill="url(#cb)"/><polygon points="114.2,-21.2 113.5,-11.2 104.8,-7.0 99.5,-12.5 99.9,-19.4 112.3,-22.7" fill="url(#cb)"/><polygon points="158.6,7.0 154.7,9.2 151.5,18.5 157.2,23.0 163.4,21.7 166.5,17.5 165.4,8.7" fill="url(#cy)"/><polygon points="277.3,-209.7 259.0,-26.0 254.3,-23.5 246.4,-29.5 222.8,-820.5 250.0,-864.1 280.1,-816.2 281.5,-637.0" fill="url(#cg)"/><polygon points="284.3,4.0 281.2,10.0 282.1,12.1 293.0,19.0 297.6,10.3 295.2,6.5" fill="url(#cy)"/><polygon points="354.8,-12.9 345.9,-10.9 340.6,-19.4 344.4,-24.5 354.4,-23.6 355.7,-15.0" fill="url(#cb)"/><polygon points="121.9,-2.6 135.0,-4.5 135.9,-8.4 130.3,-16.6 126.1,-16.9 120.4,-6.0 121.5,-2.8" fill="url(#cy)"/><polygon points="158.2,-5.7 158.6,7.0 165.4,8.7 170.3,5.9 171.8,1.3 167.3,-6.5" fill="url(#cy)"/><polygon points="175.8,-22.9 167.7,-131.8 164.5,-21.5 165.2,-21.2" fill="url(#cb)"/><polygon points="180.0,-16.2 179.1,-12.5 182.9,-6.0 195.4,-9.7 192.6,-17.7" fill="url(#cb)"/><polygon points="193.3,-20.2 199.2,-24.0 208.9,-20.6 210.0,-18.6 199.1,-8.3 197.6,-8.1 195.4,-9.7 192.6,-17.7" fill="url(#cb)"/><polygon points="286.1,-11.7 290.9,-8.5 291.2,-7.1 284.2,3.6 277.9,-2.5 280.0,-9.8" fill="url(#cy)"/><polygon points="344.4,-24.5 336.4,-67.1 343.5,-203.0 355.8,-25.4 354.4,-23.6" fill="url(#cy)"/><polygon points="371.4,16.9 365.5,22.7 568.4,418.0 802.0,110.9 399.5,16.9" fill="url(#cb)"/><polygon points="98.8,37.8 10.2,530.2 -371.7,57.7 91.8,19.1" fill="url(#cy)"/><polygon points="121.9,-2.6 127.7,11.4 123.2,14.1 113.8,11.8 113.9,2.7 121.5,-2.8" fill="url(#cy)"/><polygon points="297.6,10.3 308.1,10.2 309.0,18.3 299.5,27.1 293.2,20.3 293.0,19.0" fill="url(#cy)"/><polygon points="102.8,-109.9 95.2,-24.5 73.1,-16.7 -343.0,-5.0 -415.5,-4.5 92.0,-636.6 103.1,-319.1" fill="url(#cy)"/><polygon points="264.9,-22.3 266.0,-12.5 263.9,-9.6 255.4,-11.0 252.4,-18.5 254.3,-23.5 259.0,-26.0" fill="url(#cb)"/><polygon points="284.2,3.6 284.3,4.0 281.2,10.0 274.1,10.2 265.9,1.0 266.5,-0.8 277.9,-2.5" fill="url(#cy)"/><polygon points="190.8,14.5 185.7,7.9 178.4,12.3 177.6,19.0 178.5,21.0 185.6,23.3 190.1,20.1" fill="url(#cb)"/><polygon points="332.5,5.5 324.1,12.5 324.5,14.4 334.9,20.5 339.6,12.9 335.8,5.6" fill="url(#cb)"/><polygon points="102.8,-109.9 112.3,-22.7 114.2,-21.2 120.9,-21.5 128.8,-35.9 103.1,-319.1" fill="url(#cb)"/><polygon points="185.6,23.3 190.7,51.6 167.2,736.8 166.1,735.2 171.8,31.0 178.5,21.0" fill="url(#cy)"/><polygon points="212.8,15.4 205.8,22.7 202.2,22.1 199.6,11.2 201.2,8.2 206.9,6.9 211.2,9.3" fill="url(#cb)"/><polygon points="317.8,-15.3 328.8,-11.7 329.7,-8.9 326.7,-2.6 320.0,0.1 314.9,-6.0" fill="url(#cy)"/><polygon points="93.5,16.3 91.8,19.1 -371.7,57.7 -419.5,-0.0 -415.5,-4.5 -343.0,-5.0 89.8,4.5" fill="url(#cy)"/><polygon points="198.9,23.7 190.7,51.6 185.6,23.3 190.1,20.1" fill="url(#cb)"/><polygon points="361.6,6.3 355.5,15.8 351.3,15.5 348.4,12.8 348.2,1.6 356.7,0.5" fill="url(#cb)"/><polygon points="141.7,26.5 149.5,193.7 153.8,717.9 145.9,707.3 123.2,28.0 134.6,23.0" fill="url(#cb)"/><polygon points="160.5,-20.6 149.4,-28.3 167.0,-165.2 167.7,-131.8 164.5,-21.5" fill="url(#cb)"/><polygon points="300.8,-16.7 302.6,-15.4 305.4,-3.8 297.8,-1.6 291.2,-7.1 290.9,-8.5" fill="url(#cb)"/><polygon points="199.2,-24.0 208.9,-20.6 219.8,-86.1 199.1,-630.2 193.0,-84.6" fill="url(#cb)"/><polygon points="113.9,2.7 104.9,-1.9 99.9,3.1 105.4,14.8 107.8,16.1 113.8,11.8" fill="url(#cy)"/><polygon points="146.7,-0.5 135.0,-4.4 135.0,-4.5 135.9,-8.4 145.8,-14.2 153.7,-8.9 153.7,-8.9" fill="url(#cy)"/><polygon points="281.5,-637.0 280.1,-816.2 353.3,-710.0 343.5,-203.0 336.4,-67.1 328.5,-29.1 317.4,-22.3 308.6,-32.3" fill="url(#cy)"/><polygon points="212.8,15.4 221.8,20.0 222.7,19.6 226.0,11.5 220.7,3.3 211.2,9.3" fill="url(#cb)"/><polygon points="123.0,27.6 108.2,22.1 98.8,37.8 10.2,530.2 145.9,707.3 123.2,28.0" fill="url(#cb)"/><polygon points="167.3,-6.5 169.2,-9.7 179.1,-12.5 182.9,-6.0 182.1,-1.7 171.8,1.3" fill="url(#cb)"/><polygon points="199.6,11.2 201.2,8.2 194.9,2.1 186.4,4.7 185.7,7.9 190.8,14.5" fill="url(#cy)"/><polygon points="147.2,4.1 138.3,9.9 147.7,19.4 151.5,18.5 154.7,9.2" fill="url(#cy)"/><polygon points="302.6,-15.4 316.9,-16.9 317.8,-15.3 314.9,-6.0 306.1,-3.4 305.4,-3.8" fill="url(#cb)"/><polygon points="178.1,-21.4 175.8,-22.9 167.7,-131.8 167.0,-165.2 196.6,-763.1 199.1,-630.2 193.0,-84.6 187.0,-27.8" fill="url(#cy)"/><polygon points="224.1,-2.3 232.6,-0.7 240.1,-8.7 239.0,-11.7 226.3,-14.9" fill="url(#cb)"/><polygon points="281.0,-71.8 277.3,-209.7 259.0,-26.0 264.9,-22.3 271.2,-26.1" fill="url(#cb)"/><polygon points="222.7,19.6 232.8,23.2 237.5,17.1 237.4,9.3 237.2,9.2 226.0,11.5" fill="url(#cy)"/><polygon points="282.1,12.1 277.9,24.5 267.9,19.7 274.1,10.2 281.2,10.0" fill="url(#cy)"/><polygon points="282.9,-22.7 277.1,-20.8 274.7,-14.4 280.0,-9.8 286.1,-11.7 286.3,-20.4" fill="url(#cy)"/><polygon points="354.8,-12.9 358.8,-6.7 368.2,-7.2 370.2,-16.6 368.3,-17.8 355.7,-15.0" fill="url(#cy)"/><polygon points="170.3,5.9 178.4,12.3 177.6,19.0 166.5,17.5 165.4,8.7" fill="url(#cg)"/><polygon points="282.9,-22.7 282.3,-63.2 295.1,-22.9 286.3,-20.4" fill="url(#cy)"/><polygon points="371.7,1.6 399.5,16.9 802.0,110.9 891.6,-0.0 771.8,-148.6 415.1,-26.1 371.9,-2.2" fill="url(#cb)"/><polygon points="303.0,52.0 263.3,612.2 255.6,753.5 254.8,852.3 320.2,757.6 327.6,30.7 319.1,22.8 316.8,23.3" fill="url(#cb)"/></g>
<polygon points="0,-25.2 92,-25.2 100,-25.2 97,-10 101,4 96,14 99,25.2 0,25.2" fill="url(#gEl)"/>
<polygon points="0,-25.2 21,-25.2 0,-7" fill="#b3944c" opacity=".85"/>
<polyline points="13.8,-8.9 27.6,-5.9 73,9.9 84.8,11.4" fill="none" stroke="#c4a347" stroke-width="2" opacity=".65"/>
<polyline points="80.9,23.7 73,9.9" fill="none" stroke="#c4a347" stroke-width="1.6" opacity=".55"/>
<polygon points="0,25.2 0,8 60,25.2" fill="#e6cd8c" opacity=".5"/>
</g>
<rect x="375.7" y="11.6" width="1.9" height="2.4" fill="#b5b5b5" opacity="0.47"/><rect x="367.8" y="12.0" width="0.9" height="7.0" fill="#b5b5b5" opacity="0.61"/><rect x="369.5" y="-5.8" width="1.4" height="3.7" fill="#b5b5b5" opacity="0.68"/><rect x="371.7" y="-24.1" width="2.3" height="6.7" fill="#b5b5b5" opacity="0.48"/><rect x="377.0" y="18.4" width="1.5" height="3.0" fill="#b5b5b5" opacity="0.49"/><rect x="361.6" y="-9.5" width="1.1" height="3.2" fill="#b5b5b5" opacity="0.40"/><rect x="377.4" y="13.2" width="2.1" height="4.8" fill="#b5b5b5" opacity="0.40"/><rect x="365.8" y="16.7" width="1.0" height="2.8" fill="#b5b5b5" opacity="0.64"/><rect x="373.1" y="-11.2" width="2.3" height="6.5" fill="#b5b5b5" opacity="0.55"/><rect x="385.6" y="12.4" width="1.4" height="3.1" fill="#b5b5b5" opacity="0.36"/><rect x="384.1" y="-11.6" width="1.6" height="5.1" fill="#b5b5b5" opacity="0.57"/><rect x="365.3" y="-15.6" width="0.9" height="6.1" fill="#b5b5b5" opacity="0.53"/><rect x="364.5" y="10.6" width="1.9" height="6.8" fill="#b5b5b5" opacity="0.61"/><rect x="367.8" y="-24.6" width="0.9" height="4.8" fill="#b5b5b5" opacity="0.69"/><rect x="360.3" y="-19.1" width="1.5" height="5.3" fill="#b5b5b5" opacity="0.52"/><rect x="360.3" y="14.1" width="2.4" height="5.1" fill="#b5b5b5" opacity="0.46"/><rect x="361.1" y="-17.5" width="1.0" height="6.8" fill="#b5b5b5" opacity="0.46"/><rect x="377.2" y="17.3" width="1.2" height="6.5" fill="#b5b5b5" opacity="0.51"/><rect x="380.8" y="14.0" width="2.4" height="3.6" fill="#b5b5b5" opacity="0.62"/><rect x="362.2" y="-9.8" width="1.4" height="5.1" fill="#b5b5b5" opacity="0.67"/><rect x="381.4" y="15.7" width="2.4" height="6.3" fill="#b5b5b5" opacity="0.42"/><rect x="364.5" y="14.1" width="1.9" height="3.8" fill="#b5b5b5" opacity="0.41"/><rect x="361.3" y="-18.1" width="1.4" height="3.5" fill="#b5b5b5" opacity="0.65"/><rect x="370.8" y="0.9" width="2.0" height="6.6" fill="#b5b5b5" opacity="0.30"/><rect x="385.4" y="17.1" width="1.0" height="6.5" fill="#b5b5b5" opacity="0.41"/><rect x="376.4" y="16.3" width="1.3" height="6.9" fill="#b5b5b5" opacity="0.39"/><rect x="382.4" y="-17.6" width="1.9" height="4.9" fill="#b5b5b5" opacity="0.56"/><rect x="366.0" y="13.4" width="1.7" height="4.6" fill="#b5b5b5" opacity="0.54"/><rect x="370.5" y="0.5" width="1.5" height="5.7" fill="#b5b5b5" opacity="0.32"/><rect x="375.6" y="14.3" width="2.1" height="2.8" fill="#b5b5b5" opacity="0.50"/><rect x="375.9" y="16.5" width="1.8" height="2.6" fill="#b5b5b5" opacity="0.56"/><rect x="368.9" y="3.8" width="1.8" height="5.6" fill="#b5b5b5" opacity="0.68"/><rect x="365.5" y="-7.7" width="2.4" height="3.6" fill="#b5b5b5" opacity="0.59"/><rect x="379.1" y="-18.4" width="2.4" height="4.9" fill="#b5b5b5" opacity="0.40"/><rect x="366.6" y="13.9" width="2.2" height="4.5" fill="#b5b5b5" opacity="0.41"/><rect x="370.6" y="19.2" width="2.0" height="3.5" fill="#b5b5b5" opacity="0.60"/><rect x="365.0" y="11.5" width="2.3" height="6.5" fill="#b5b5b5" opacity="0.38"/><rect x="378.8" y="-20.1" width="0.9" height="5.2" fill="#b5b5b5" opacity="0.34"/><rect x="366.8" y="-17.0" width="1.7" height="6.8" fill="#b5b5b5" opacity="0.63"/><rect x="361.4" y="-7.4" width="1.6" height="2.9" fill="#b5b5b5" opacity="0.42"/><rect x="373.5" y="21.7" width="1.0" height="2.3" fill="#b5b5b5" opacity="0.61"/><rect x="374.3" y="12.8" width="1.6" height="5.7" fill="#b5b5b5" opacity="0.42"/><rect x="374.7" y="-13.0" width="1.4" height="5.6" fill="#b5b5b5" opacity="0.35"/><rect x="360.9" y="-11.6" width="1.1" height="2.7" fill="#b5b5b5" opacity="0.41"/><rect x="368.7" y="17.9" width="1.6" height="4.5" fill="#b5b5b5" opacity="0.65"/><rect x="371.2" y="-13.8" width="2.4" height="4.4" fill="#b5b5b5" opacity="0.34"/><rect x="362.1" y="-17.3" width="1.1" height="2.7" fill="#b5b5b5" opacity="0.44"/><rect x="378.8" y="21.5" width="1.3" height="3.7" fill="#b5b5b5" opacity="0.33"/><rect x="369.0" y="3.1" width="1.8" height="4.6" fill="#b5b5b5" opacity="0.31"/><rect x="370.8" y="-17.6" width="1.2" height="5.0" fill="#b5b5b5" opacity="0.69"/><rect x="380.1" y="-13.4" width="1.0" height="2.8" fill="#b5b5b5" opacity="0.38"/><rect x="362.5" y="-4.1" width="0.8" height="4.2" fill="#b5b5b5" opacity="0.59"/><rect x="375.6" y="20.0" width="2.0" height="5.2" fill="#b5b5b5" opacity="0.37"/><rect x="366.9" y="9.6" width="1.8" height="5.5" fill="#b5b5b5" opacity="0.35"/><rect x="370.9" y="19.1" width="1.1" height="5.9" fill="#b5b5b5" opacity="0.54"/><rect x="363.2" y="-1.1" width="1.7" height="5.6" fill="#b5b5b5" opacity="0.66"/><rect x="362.5" y="-16.1" width="2.1" height="6.9" fill="#b5b5b5" opacity="0.36"/><rect x="380.4" y="-21.8" width="0.8" height="7.0" fill="#b5b5b5" opacity="0.61"/><rect x="371.4" y="14.9" width="1.9" height="4.3" fill="#b5b5b5" opacity="0.42"/><rect x="374.3" y="21.9" width="2.2" height="3.1" fill="#b5b5b5" opacity="0.55"/><rect x="383.2" y="-18.8" width="1.4" height="2.4" fill="#b5b5b5" opacity="0.53"/><rect x="360.3" y="8.9" width="2.0" height="3.3" fill="#b5b5b5" opacity="0.37"/><rect x="363.1" y="3.3" width="1.3" height="4.0" fill="#b5b5b5" opacity="0.56"/><rect x="364.4" y="-0.5" width="1.3" height="4.4" fill="#b5b5b5" opacity="0.56"/><rect x="378.4" y="9.2" width="1.5" height="2.1" fill="#b5b5b5" opacity="0.69"/><rect x="371.5" y="22.0" width="1.4" height="3.2" fill="#b5b5b5" opacity="0.37"/><rect x="363.9" y="9.6" width="1.2" height="2.3" fill="#b5b5b5" opacity="0.50"/><rect x="376.7" y="15.9" width="1.0" height="6.0" fill="#b5b5b5" opacity="0.32"/><rect x="367.1" y="-0.1" width="1.5" height="6.0" fill="#b5b5b5" opacity="0.57"/><rect x="365.0" y="-10.9" width="2.3" height="5.3" fill="#b5b5b5" opacity="0.31"/><rect x="370.3" y="-14.8" width="1.9" height="6.5" fill="#b5b5b5" opacity="0.61"/><rect x="363.3" y="6.5" width="1.5" height="5.0" fill="#b5b5b5" opacity="0.65"/><rect x="367.6" y="-12.3" width="1.6" height="2.9" fill="#b5b5b5" opacity="0.64"/><rect x="363.6" y="-10.4" width="2.3" height="2.1" fill="#b5b5b5" opacity="0.69"/><rect x="366.4" y="17.0" width="0.9" height="5.1" fill="#b5b5b5" opacity="0.64"/></g>
<g transform="translate(448.0,170.3) rotate(11.7) scale(0.402)" opacity="0.60"><rect x="360" y="-24.5" width="26" height="49" fill="#e9e9e9" opacity=".55"/><g clip-path="url(#cpStrip)"><rect x="0" y="-26" width="372" height="52" fill="#e3c451"/>
<g filter="url(#fSoft)"><polygon points="120.4,-6.0 113.5,-11.2 114.2,-21.2 120.9,-21.5 126.1,-16.9" fill="url(#cg)"/><polygon points="158.2,-5.7 153.7,-8.9 153.7,-8.9 160.5,-20.6 164.5,-21.5 165.2,-21.2 169.2,-9.7 167.3,-6.5" fill="url(#cg)"/><polygon points="146.7,-0.5 135.0,-4.4 135.4,9.4 138.3,9.9 147.2,4.1" fill="url(#cg)"/><polygon points="127.7,11.4 132.1,11.4 134.6,23.0 123.2,28.0 123.0,27.6 123.2,14.1" fill="url(#cg)"/><polygon points="180.0,-16.2 192.6,-17.7 193.3,-20.2 187.0,-27.8 178.1,-21.4" fill="url(#cg)"/><polygon points="177.6,19.0 178.5,21.0 171.8,31.0 163.4,21.7 166.5,17.5" fill="url(#cg)"/><polygon points="226.0,-42.5 219.5,-18.7 226.0,-15.3 233.6,-26.1" fill="url(#cg)"/><polygon points="252.4,-18.5 241.4,-18.3 239.0,-11.7 240.1,-8.7 247.6,-4.7 255.4,-11.0" fill="url(#cg)"/><polygon points="277.1,-20.8 271.2,-26.1 264.9,-22.3 266.0,-12.5 274.7,-14.4" fill="url(#cg)"/><polygon points="284.2,3.6 284.3,4.0 295.2,6.5 297.8,-1.6 291.2,-7.1" fill="url(#cg)"/><polygon points="293.0,19.0 293.2,20.3 280.0,27.9 277.9,24.5 282.1,12.1" fill="url(#cg)"/><polygon points="332.5,5.5 326.7,-2.6 320.0,0.1 318.1,7.3 324.1,12.5" fill="url(#cg)"/><polygon points="340.6,-19.4 334.2,-19.5 328.8,-11.7 329.7,-8.9 342.4,-3.6 345.9,-10.9" fill="url(#cg)"/><polygon points="355.7,-15.0 368.3,-17.8 365.4,-25.4 355.8,-25.4 354.4,-23.6" fill="url(#cg)"/><polygon points="202.2,22.1 199.6,11.2 190.8,14.5 190.1,20.1 198.9,23.7" fill="url(#cg)"/><polygon points="237.5,17.1 237.4,9.3 246.6,6.7 250.4,18.2 247.4,22.0" fill="url(#cg)"/><polygon points="351.3,15.5 343.8,27.4 348.6,39.6 360.5,21.8 355.5,15.8" fill="url(#cg)"/><polygon points="282.9,-22.7 282.3,-63.2 281.0,-71.8 271.2,-26.1 277.1,-20.8" fill="url(#cy)"/><polygon points="187.0,-27.8 193.0,-84.6 199.2,-24.0 193.3,-20.2" fill="url(#cy)"/><polygon points="92.5,-9.0 91.4,3.4 99.9,3.1 104.9,-1.9 104.8,-7.0 99.5,-12.5" fill="url(#cg)"/><polygon points="121.5,-2.8 113.9,2.7 104.9,-1.9 104.8,-7.0 113.5,-11.2 120.4,-6.0" fill="url(#cb)"/><polygon points="277.9,24.5 280.0,27.9 263.3,612.2 255.6,753.5 245.5,369.5 248.1,76.8 264.0,20.3 267.9,19.7" fill="url(#cb)"/><polygon points="202.2,22.1 205.8,22.7 215.5,38.9 245.5,369.5 255.6,753.5 254.8,852.3 250.0,860.5 167.2,736.8 190.7,51.6 198.9,23.7" fill="url(#cg)"/><polygon points="130.3,-16.6 136.1,-24.2 128.8,-35.9 120.9,-21.5 126.1,-16.9" fill="url(#cy)"/><polygon points="317.8,-15.3 328.8,-11.7 334.2,-19.5 328.5,-29.1 317.4,-22.3 316.9,-16.9" fill="url(#cb)"/><polygon points="274.7,-14.4 266.0,-12.5 263.9,-9.6 266.5,-0.8 277.9,-2.5 280.0,-9.8" fill="url(#cy)"/><polygon points="102.8,-109.9 95.2,-24.5 99.9,-19.4 112.3,-22.7" fill="url(#cy)"/><polygon points="170.3,5.9 178.4,12.3 185.7,7.9 186.4,4.7 182.1,-1.7 171.8,1.3" fill="url(#cy)"/><polygon points="286.3,-20.4 295.1,-22.9 299.4,-20.8 300.8,-16.7 290.9,-8.5 286.1,-11.7" fill="url(#cb)"/><polygon points="237.5,17.1 247.4,22.0 247.4,72.0 232.8,23.2" fill="url(#cb)"/><polygon points="299.4,-20.8 308.6,-32.3 317.4,-22.3 316.9,-16.9 302.6,-15.4 300.8,-16.7" fill="url(#cy)"/><polygon points="105.4,14.8 93.5,16.3 89.8,4.5 91.4,3.4 99.9,3.1" fill="url(#cb)"/><polygon points="261.3,17.5 250.4,18.2 247.4,22.0 247.4,72.0 248.1,76.8 264.0,20.3" fill="url(#cy)"/><polygon points="263.9,-9.6 266.5,-0.8 265.9,1.0 260.0,5.8 249.2,3.8 247.6,-4.7 255.4,-11.0" fill="url(#cb)"/><polygon points="371.7,1.6 366.8,6.1 361.6,6.3 356.7,0.5 358.8,-6.7 368.2,-7.2 371.9,-2.2" fill="url(#cb)"/><polygon points="324.5,14.4 319.1,22.8 327.6,30.7 335.4,22.2 334.9,20.5" fill="url(#cy)"/><polygon points="214.2,-5.7 207.4,-2.4 199.1,-8.3 210.0,-18.6 212.9,-17.4" fill="url(#cb)"/><polygon points="135.9,-8.4 145.8,-14.2 144.5,-23.0 136.1,-24.2 130.3,-16.6" fill="url(#cy)"/><polygon points="220.7,3.3 222.0,-1.1 224.1,-2.3 232.6,-0.7 237.2,9.2 226.0,11.5" fill="url(#cy)"/><polygon points="92.5,-9.0 91.4,3.4 89.8,4.5 -343.0,-5.0 73.1,-16.7" fill="url(#cy)"/><polygon points="274.1,10.2 265.9,1.0 260.0,5.8 261.3,17.5 264.0,20.3 267.9,19.7" fill="url(#cg)"/><polygon points="339.6,12.9 348.4,12.8 351.3,15.5 343.8,27.4 335.4,22.2 334.9,20.5" fill="url(#cy)"/><polygon points="335.8,5.6 342.6,-2.5 348.2,1.6 348.4,12.8 339.6,12.9" fill="url(#cy)"/><polygon points="335.4,22.2 343.8,27.4 348.6,39.6 356.8,705.8 320.2,757.6 327.6,30.7" fill="url(#cy)"/><polygon points="121.9,-2.6 127.7,11.4 132.1,11.4 135.4,9.4 135.0,-4.4 135.0,-4.5" fill="url(#cg)"/><polygon points="158.2,-5.7 153.7,-8.9 146.7,-0.5 147.2,4.1 154.7,9.2 158.6,7.0" fill="url(#cy)"/><polygon points="299.5,27.1 293.2,20.3 280.0,27.9 263.3,612.2 303.0,52.0" fill="url(#cy)"/><polygon points="360.5,21.8 365.5,22.7 568.4,418.0 356.8,705.8 348.6,39.6" fill="url(#cb)"/><polygon points="153.7,-8.9 160.5,-20.6 149.4,-28.3 144.5,-23.0 145.8,-14.2" fill="url(#cy)"/><polygon points="332.5,5.5 326.7,-2.6 329.7,-8.9 342.4,-3.6 342.6,-2.5 335.8,5.6" fill="url(#cb)"/><polygon points="309.0,18.3 308.1,10.2 309.0,9.1 318.1,7.3 324.1,12.5 324.5,14.4 319.1,22.8 316.8,23.3" fill="url(#cy)"/><polygon points="132.1,11.4 134.6,23.0 141.7,26.5 147.7,19.4 138.3,9.9 135.4,9.4" fill="url(#cy)"/><polygon points="361.6,6.3 355.5,15.8 360.5,21.8 365.5,22.7 371.4,16.9 366.8,6.1" fill="url(#cy)"/><polygon points="371.7,1.6 399.5,16.9 371.4,16.9 366.8,6.1" fill="url(#cy)"/><polygon points="254.3,-23.5 246.4,-29.5 240.0,-22.7 241.4,-18.3 252.4,-18.5" fill="url(#cg)"/><polygon points="212.8,15.4 205.8,22.7 215.5,38.9 221.8,20.0" fill="url(#cb)"/><polygon points="180.0,-16.2 179.1,-12.5 169.2,-9.7 165.2,-21.2 175.8,-22.9 178.1,-21.4" fill="url(#cb)"/><polygon points="182.9,-6.0 195.4,-9.7 197.6,-8.1 194.9,2.1 186.4,4.7 182.1,-1.7" fill="url(#cb)"/><polygon points="354.8,-12.9 358.8,-6.7 356.7,0.5 348.2,1.6 342.6,-2.5 342.4,-3.6 345.9,-10.9" fill="url(#cb)"/><polygon points="226.0,-42.5 219.8,-86.1 199.1,-630.2 196.6,-763.1 196.8,-779.6 222.8,-820.5 246.4,-29.5 240.0,-22.7 233.6,-26.1" fill="url(#cy)"/><polygon points="103.1,-319.1 92.0,-636.6 196.8,-779.6 196.6,-763.1 167.0,-165.2 149.4,-28.3 144.5,-23.0 136.1,-24.2 128.8,-35.9" fill="url(#cb)"/><polygon points="309.0,9.1 318.1,7.3 320.0,0.1 314.9,-6.0 306.1,-3.4" fill="url(#cy)"/><polygon points="299.5,27.1 309.0,18.3 316.8,23.3 303.0,52.0" fill="url(#cy)"/><polygon points="221.8,20.0 215.5,38.9 245.5,369.5 248.1,76.8 247.4,72.0 232.8,23.2 222.7,19.6" fill="url(#cb)"/><polygon points="226.0,-42.5 219.8,-86.1 208.9,-20.6 210.0,-18.6 212.9,-17.4 219.5,-18.7" fill="url(#cy)"/><polygon points="151.5,18.5 147.7,19.4 141.7,26.5 149.5,193.7 157.2,23.0" fill="url(#cy)"/><polygon points="211.2,9.3 206.9,6.9 207.4,-2.4 214.2,-5.7 222.0,-1.1 220.7,3.3" fill="url(#cy)"/><polygon points="282.3,-63.2 295.1,-22.9 299.4,-20.8 308.6,-32.3 281.5,-637.0 277.3,-209.7 281.0,-71.8" fill="url(#cy)"/><polygon points="368.3,-17.8 370.2,-16.6 415.1,-26.1 771.8,-148.6 569.6,-416.0 365.4,-25.4" fill="url(#cy)"/><polygon points="260.0,5.8 249.2,3.8 246.6,6.7 250.4,18.2 261.3,17.5" fill="url(#cg)"/><polygon points="340.6,-19.4 334.2,-19.5 328.5,-29.1 336.4,-67.1 344.4,-24.5" fill="url(#cb)"/><polygon points="219.5,-18.7 212.9,-17.4 214.2,-5.7 222.0,-1.1 224.1,-2.3 226.3,-14.9 226.0,-15.3" fill="url(#cy)"/><polygon points="92.5,-9.0 99.5,-12.5 99.9,-19.4 95.2,-24.5 73.1,-16.7" fill="url(#cg)"/><polygon points="297.8,-1.6 305.4,-3.8 306.1,-3.4 309.0,9.1 308.1,10.2 297.6,10.3 295.2,6.5" fill="url(#cy)"/><polygon points="113.8,11.8 107.8,16.1 108.2,22.1 123.0,27.6 123.2,14.1" fill="url(#cy)"/><polygon points="197.6,-8.1 199.1,-8.3 207.4,-2.4 206.9,6.9 201.2,8.2 194.9,2.1" fill="url(#cb)"/><polygon points="371.9,-2.2 415.1,-26.1 370.2,-16.6 368.2,-7.2" fill="url(#cb)"/><polygon points="157.2,23.0 149.5,193.7 153.8,717.9 166.1,735.2 171.8,31.0 163.4,21.7" fill="url(#cb)"/><polygon points="233.6,-26.1 240.0,-22.7 241.4,-18.3 239.0,-11.7 226.3,-14.9 226.0,-15.3" fill="url(#cy)"/><polygon points="107.8,16.1 108.2,22.1 98.8,37.8 91.8,19.1 93.5,16.3 105.4,14.8" fill="url(#cb)"/><polygon points="232.6,-0.7 240.1,-8.7 247.6,-4.7 249.2,3.8 246.6,6.7 237.4,9.3 237.2,9.2" fill="url(#cb)"/><polygon points="114.2,-21.2 113.5,-11.2 104.8,-7.0 99.5,-12.5 99.9,-19.4 112.3,-22.7" fill="url(#cb)"/><polygon points="158.6,7.0 154.7,9.2 151.5,18.5 157.2,23.0 163.4,21.7 166.5,17.5 165.4,8.7" fill="url(#cy)"/><polygon points="277.3,-209.7 259.0,-26.0 254.3,-23.5 246.4,-29.5 222.8,-820.5 250.0,-864.1 280.1,-816.2 281.5,-637.0" fill="url(#cg)"/><polygon points="284.3,4.0 281.2,10.0 282.1,12.1 293.0,19.0 297.6,10.3 295.2,6.5" fill="url(#cy)"/><polygon points="354.8,-12.9 345.9,-10.9 340.6,-19.4 344.4,-24.5 354.4,-23.6 355.7,-15.0" fill="url(#cb)"/><polygon points="121.9,-2.6 135.0,-4.5 135.9,-8.4 130.3,-16.6 126.1,-16.9 120.4,-6.0 121.5,-2.8" fill="url(#cy)"/><polygon points="158.2,-5.7 158.6,7.0 165.4,8.7 170.3,5.9 171.8,1.3 167.3,-6.5" fill="url(#cy)"/><polygon points="175.8,-22.9 167.7,-131.8 164.5,-21.5 165.2,-21.2" fill="url(#cb)"/><polygon points="180.0,-16.2 179.1,-12.5 182.9,-6.0 195.4,-9.7 192.6,-17.7" fill="url(#cb)"/><polygon points="193.3,-20.2 199.2,-24.0 208.9,-20.6 210.0,-18.6 199.1,-8.3 197.6,-8.1 195.4,-9.7 192.6,-17.7" fill="url(#cb)"/><polygon points="286.1,-11.7 290.9,-8.5 291.2,-7.1 284.2,3.6 277.9,-2.5 280.0,-9.8" fill="url(#cy)"/><polygon points="344.4,-24.5 336.4,-67.1 343.5,-203.0 355.8,-25.4 354.4,-23.6" fill="url(#cy)"/><polygon points="371.4,16.9 365.5,22.7 568.4,418.0 802.0,110.9 399.5,16.9" fill="url(#cb)"/><polygon points="98.8,37.8 10.2,530.2 -371.7,57.7 91.8,19.1" fill="url(#cy)"/><polygon points="121.9,-2.6 127.7,11.4 123.2,14.1 113.8,11.8 113.9,2.7 121.5,-2.8" fill="url(#cy)"/><polygon points="297.6,10.3 308.1,10.2 309.0,18.3 299.5,27.1 293.2,20.3 293.0,19.0" fill="url(#cy)"/><polygon points="102.8,-109.9 95.2,-24.5 73.1,-16.7 -343.0,-5.0 -415.5,-4.5 92.0,-636.6 103.1,-319.1" fill="url(#cy)"/><polygon points="264.9,-22.3 266.0,-12.5 263.9,-9.6 255.4,-11.0 252.4,-18.5 254.3,-23.5 259.0,-26.0" fill="url(#cb)"/><polygon points="284.2,3.6 284.3,4.0 281.2,10.0 274.1,10.2 265.9,1.0 266.5,-0.8 277.9,-2.5" fill="url(#cy)"/><polygon points="190.8,14.5 185.7,7.9 178.4,12.3 177.6,19.0 178.5,21.0 185.6,23.3 190.1,20.1" fill="url(#cb)"/><polygon points="332.5,5.5 324.1,12.5 324.5,14.4 334.9,20.5 339.6,12.9 335.8,5.6" fill="url(#cb)"/><polygon points="102.8,-109.9 112.3,-22.7 114.2,-21.2 120.9,-21.5 128.8,-35.9 103.1,-319.1" fill="url(#cb)"/><polygon points="185.6,23.3 190.7,51.6 167.2,736.8 166.1,735.2 171.8,31.0 178.5,21.0" fill="url(#cy)"/><polygon points="212.8,15.4 205.8,22.7 202.2,22.1 199.6,11.2 201.2,8.2 206.9,6.9 211.2,9.3" fill="url(#cb)"/><polygon points="317.8,-15.3 328.8,-11.7 329.7,-8.9 326.7,-2.6 320.0,0.1 314.9,-6.0" fill="url(#cy)"/><polygon points="93.5,16.3 91.8,19.1 -371.7,57.7 -419.5,-0.0 -415.5,-4.5 -343.0,-5.0 89.8,4.5" fill="url(#cy)"/><polygon points="198.9,23.7 190.7,51.6 185.6,23.3 190.1,20.1" fill="url(#cb)"/><polygon points="361.6,6.3 355.5,15.8 351.3,15.5 348.4,12.8 348.2,1.6 356.7,0.5" fill="url(#cb)"/><polygon points="141.7,26.5 149.5,193.7 153.8,717.9 145.9,707.3 123.2,28.0 134.6,23.0" fill="url(#cb)"/><polygon points="160.5,-20.6 149.4,-28.3 167.0,-165.2 167.7,-131.8 164.5,-21.5" fill="url(#cb)"/><polygon points="300.8,-16.7 302.6,-15.4 305.4,-3.8 297.8,-1.6 291.2,-7.1 290.9,-8.5" fill="url(#cb)"/><polygon points="199.2,-24.0 208.9,-20.6 219.8,-86.1 199.1,-630.2 193.0,-84.6" fill="url(#cb)"/><polygon points="113.9,2.7 104.9,-1.9 99.9,3.1 105.4,14.8 107.8,16.1 113.8,11.8" fill="url(#cy)"/><polygon points="146.7,-0.5 135.0,-4.4 135.0,-4.5 135.9,-8.4 145.8,-14.2 153.7,-8.9 153.7,-8.9" fill="url(#cy)"/><polygon points="281.5,-637.0 280.1,-816.2 353.3,-710.0 343.5,-203.0 336.4,-67.1 328.5,-29.1 317.4,-22.3 308.6,-32.3" fill="url(#cy)"/><polygon points="212.8,15.4 221.8,20.0 222.7,19.6 226.0,11.5 220.7,3.3 211.2,9.3" fill="url(#cb)"/><polygon points="123.0,27.6 108.2,22.1 98.8,37.8 10.2,530.2 145.9,707.3 123.2,28.0" fill="url(#cb)"/><polygon points="167.3,-6.5 169.2,-9.7 179.1,-12.5 182.9,-6.0 182.1,-1.7 171.8,1.3" fill="url(#cb)"/><polygon points="199.6,11.2 201.2,8.2 194.9,2.1 186.4,4.7 185.7,7.9 190.8,14.5" fill="url(#cy)"/><polygon points="147.2,4.1 138.3,9.9 147.7,19.4 151.5,18.5 154.7,9.2" fill="url(#cy)"/><polygon points="302.6,-15.4 316.9,-16.9 317.8,-15.3 314.9,-6.0 306.1,-3.4 305.4,-3.8" fill="url(#cb)"/><polygon points="178.1,-21.4 175.8,-22.9 167.7,-131.8 167.0,-165.2 196.6,-763.1 199.1,-630.2 193.0,-84.6 187.0,-27.8" fill="url(#cy)"/><polygon points="224.1,-2.3 232.6,-0.7 240.1,-8.7 239.0,-11.7 226.3,-14.9" fill="url(#cb)"/><polygon points="281.0,-71.8 277.3,-209.7 259.0,-26.0 264.9,-22.3 271.2,-26.1" fill="url(#cb)"/><polygon points="222.7,19.6 232.8,23.2 237.5,17.1 237.4,9.3 237.2,9.2 226.0,11.5" fill="url(#cy)"/><polygon points="282.1,12.1 277.9,24.5 267.9,19.7 274.1,10.2 281.2,10.0" fill="url(#cy)"/><polygon points="282.9,-22.7 277.1,-20.8 274.7,-14.4 280.0,-9.8 286.1,-11.7 286.3,-20.4" fill="url(#cy)"/><polygon points="354.8,-12.9 358.8,-6.7 368.2,-7.2 370.2,-16.6 368.3,-17.8 355.7,-15.0" fill="url(#cy)"/><polygon points="170.3,5.9 178.4,12.3 177.6,19.0 166.5,17.5 165.4,8.7" fill="url(#cg)"/><polygon points="282.9,-22.7 282.3,-63.2 295.1,-22.9 286.3,-20.4" fill="url(#cy)"/><polygon points="371.7,1.6 399.5,16.9 802.0,110.9 891.6,-0.0 771.8,-148.6 415.1,-26.1 371.9,-2.2" fill="url(#cb)"/><polygon points="303.0,52.0 263.3,612.2 255.6,753.5 254.8,852.3 320.2,757.6 327.6,30.7 319.1,22.8 316.8,23.3" fill="url(#cb)"/></g>
<polygon points="0,-25.2 92,-25.2 100,-25.2 97,-10 101,4 96,14 99,25.2 0,25.2" fill="url(#gEl)"/>
<polygon points="0,-25.2 21,-25.2 0,-7" fill="#b3944c" opacity=".85"/>
<polyline points="13.8,-8.9 27.6,-5.9 73,9.9 84.8,11.4" fill="none" stroke="#c4a347" stroke-width="2" opacity=".65"/>
<polyline points="80.9,23.7 73,9.9" fill="none" stroke="#c4a347" stroke-width="1.6" opacity=".55"/>
<polygon points="0,25.2 0,8 60,25.2" fill="#e6cd8c" opacity=".5"/>
</g>
<rect x="375.7" y="11.6" width="1.9" height="2.4" fill="#b5b5b5" opacity="0.47"/><rect x="367.8" y="12.0" width="0.9" height="7.0" fill="#b5b5b5" opacity="0.61"/><rect x="369.5" y="-5.8" width="1.4" height="3.7" fill="#b5b5b5" opacity="0.68"/><rect x="371.7" y="-24.1" width="2.3" height="6.7" fill="#b5b5b5" opacity="0.48"/><rect x="377.0" y="18.4" width="1.5" height="3.0" fill="#b5b5b5" opacity="0.49"/><rect x="361.6" y="-9.5" width="1.1" height="3.2" fill="#b5b5b5" opacity="0.40"/><rect x="377.4" y="13.2" width="2.1" height="4.8" fill="#b5b5b5" opacity="0.40"/><rect x="365.8" y="16.7" width="1.0" height="2.8" fill="#b5b5b5" opacity="0.64"/><rect x="373.1" y="-11.2" width="2.3" height="6.5" fill="#b5b5b5" opacity="0.55"/><rect x="385.6" y="12.4" width="1.4" height="3.1" fill="#b5b5b5" opacity="0.36"/><rect x="384.1" y="-11.6" width="1.6" height="5.1" fill="#b5b5b5" opacity="0.57"/><rect x="365.3" y="-15.6" width="0.9" height="6.1" fill="#b5b5b5" opacity="0.53"/><rect x="364.5" y="10.6" width="1.9" height="6.8" fill="#b5b5b5" opacity="0.61"/><rect x="367.8" y="-24.6" width="0.9" height="4.8" fill="#b5b5b5" opacity="0.69"/><rect x="360.3" y="-19.1" width="1.5" height="5.3" fill="#b5b5b5" opacity="0.52"/><rect x="360.3" y="14.1" width="2.4" height="5.1" fill="#b5b5b5" opacity="0.46"/><rect x="361.1" y="-17.5" width="1.0" height="6.8" fill="#b5b5b5" opacity="0.46"/><rect x="377.2" y="17.3" width="1.2" height="6.5" fill="#b5b5b5" opacity="0.51"/><rect x="380.8" y="14.0" width="2.4" height="3.6" fill="#b5b5b5" opacity="0.62"/><rect x="362.2" y="-9.8" width="1.4" height="5.1" fill="#b5b5b5" opacity="0.67"/><rect x="381.4" y="15.7" width="2.4" height="6.3" fill="#b5b5b5" opacity="0.42"/><rect x="364.5" y="14.1" width="1.9" height="3.8" fill="#b5b5b5" opacity="0.41"/><rect x="361.3" y="-18.1" width="1.4" height="3.5" fill="#b5b5b5" opacity="0.65"/><rect x="370.8" y="0.9" width="2.0" height="6.6" fill="#b5b5b5" opacity="0.30"/><rect x="385.4" y="17.1" width="1.0" height="6.5" fill="#b5b5b5" opacity="0.41"/><rect x="376.4" y="16.3" width="1.3" height="6.9" fill="#b5b5b5" opacity="0.39"/><rect x="382.4" y="-17.6" width="1.9" height="4.9" fill="#b5b5b5" opacity="0.56"/><rect x="366.0" y="13.4" width="1.7" height="4.6" fill="#b5b5b5" opacity="0.54"/><rect x="370.5" y="0.5" width="1.5" height="5.7" fill="#b5b5b5" opacity="0.32"/><rect x="375.6" y="14.3" width="2.1" height="2.8" fill="#b5b5b5" opacity="0.50"/><rect x="375.9" y="16.5" width="1.8" height="2.6" fill="#b5b5b5" opacity="0.56"/><rect x="368.9" y="3.8" width="1.8" height="5.6" fill="#b5b5b5" opacity="0.68"/><rect x="365.5" y="-7.7" width="2.4" height="3.6" fill="#b5b5b5" opacity="0.59"/><rect x="379.1" y="-18.4" width="2.4" height="4.9" fill="#b5b5b5" opacity="0.40"/><rect x="366.6" y="13.9" width="2.2" height="4.5" fill="#b5b5b5" opacity="0.41"/><rect x="370.6" y="19.2" width="2.0" height="3.5" fill="#b5b5b5" opacity="0.60"/><rect x="365.0" y="11.5" width="2.3" height="6.5" fill="#b5b5b5" opacity="0.38"/><rect x="378.8" y="-20.1" width="0.9" height="5.2" fill="#b5b5b5" opacity="0.34"/><rect x="366.8" y="-17.0" width="1.7" height="6.8" fill="#b5b5b5" opacity="0.63"/><rect x="361.4" y="-7.4" width="1.6" height="2.9" fill="#b5b5b5" opacity="0.42"/><rect x="373.5" y="21.7" width="1.0" height="2.3" fill="#b5b5b5" opacity="0.61"/><rect x="374.3" y="12.8" width="1.6" height="5.7" fill="#b5b5b5" opacity="0.42"/><rect x="374.7" y="-13.0" width="1.4" height="5.6" fill="#b5b5b5" opacity="0.35"/><rect x="360.9" y="-11.6" width="1.1" height="2.7" fill="#b5b5b5" opacity="0.41"/><rect x="368.7" y="17.9" width="1.6" height="4.5" fill="#b5b5b5" opacity="0.65"/><rect x="371.2" y="-13.8" width="2.4" height="4.4" fill="#b5b5b5" opacity="0.34"/><rect x="362.1" y="-17.3" width="1.1" height="2.7" fill="#b5b5b5" opacity="0.44"/><rect x="378.8" y="21.5" width="1.3" height="3.7" fill="#b5b5b5" opacity="0.33"/><rect x="369.0" y="3.1" width="1.8" height="4.6" fill="#b5b5b5" opacity="0.31"/><rect x="370.8" y="-17.6" width="1.2" height="5.0" fill="#b5b5b5" opacity="0.69"/><rect x="380.1" y="-13.4" width="1.0" height="2.8" fill="#b5b5b5" opacity="0.38"/><rect x="362.5" y="-4.1" width="0.8" height="4.2" fill="#b5b5b5" opacity="0.59"/><rect x="375.6" y="20.0" width="2.0" height="5.2" fill="#b5b5b5" opacity="0.37"/><rect x="366.9" y="9.6" width="1.8" height="5.5" fill="#b5b5b5" opacity="0.35"/><rect x="370.9" y="19.1" width="1.1" height="5.9" fill="#b5b5b5" opacity="0.54"/><rect x="363.2" y="-1.1" width="1.7" height="5.6" fill="#b5b5b5" opacity="0.66"/><rect x="362.5" y="-16.1" width="2.1" height="6.9" fill="#b5b5b5" opacity="0.36"/><rect x="380.4" y="-21.8" width="0.8" height="7.0" fill="#b5b5b5" opacity="0.61"/><rect x="371.4" y="14.9" width="1.9" height="4.3" fill="#b5b5b5" opacity="0.42"/><rect x="374.3" y="21.9" width="2.2" height="3.1" fill="#b5b5b5" opacity="0.55"/><rect x="383.2" y="-18.8" width="1.4" height="2.4" fill="#b5b5b5" opacity="0.53"/><rect x="360.3" y="8.9" width="2.0" height="3.3" fill="#b5b5b5" opacity="0.37"/><rect x="363.1" y="3.3" width="1.3" height="4.0" fill="#b5b5b5" opacity="0.56"/><rect x="364.4" y="-0.5" width="1.3" height="4.4" fill="#b5b5b5" opacity="0.56"/><rect x="378.4" y="9.2" width="1.5" height="2.1" fill="#b5b5b5" opacity="0.69"/><rect x="371.5" y="22.0" width="1.4" height="3.2" fill="#b5b5b5" opacity="0.37"/><rect x="363.9" y="9.6" width="1.2" height="2.3" fill="#b5b5b5" opacity="0.50"/><rect x="376.7" y="15.9" width="1.0" height="6.0" fill="#b5b5b5" opacity="0.32"/><rect x="367.1" y="-0.1" width="1.5" height="6.0" fill="#b5b5b5" opacity="0.57"/><rect x="365.0" y="-10.9" width="2.3" height="5.3" fill="#b5b5b5" opacity="0.31"/><rect x="370.3" y="-14.8" width="1.9" height="6.5" fill="#b5b5b5" opacity="0.61"/><rect x="363.3" y="6.5" width="1.5" height="5.0" fill="#b5b5b5" opacity="0.65"/><rect x="367.6" y="-12.3" width="1.6" height="2.9" fill="#b5b5b5" opacity="0.64"/><rect x="363.6" y="-10.4" width="2.3" height="2.1" fill="#b5b5b5" opacity="0.69"/><rect x="366.4" y="17.0" width="0.9" height="5.1" fill="#b5b5b5" opacity="0.64"/></g>
<g transform="translate(546.5,153.4)"><rect x="360" y="-24.5" width="26" height="49" fill="#e9e9e9" opacity=".55"/><g clip-path="url(#cpStrip)"><rect x="0" y="-26" width="372" height="52" fill="#e3c451"/>
<g filter="url(#fSoft)"><polygon points="120.4,-6.0 113.5,-11.2 114.2,-21.2 120.9,-21.5 126.1,-16.9" fill="url(#cg)"/><polygon points="158.2,-5.7 153.7,-8.9 153.7,-8.9 160.5,-20.6 164.5,-21.5 165.2,-21.2 169.2,-9.7 167.3,-6.5" fill="url(#cg)"/><polygon points="146.7,-0.5 135.0,-4.4 135.4,9.4 138.3,9.9 147.2,4.1" fill="url(#cg)"/><polygon points="127.7,11.4 132.1,11.4 134.6,23.0 123.2,28.0 123.0,27.6 123.2,14.1" fill="url(#cg)"/><polygon points="180.0,-16.2 192.6,-17.7 193.3,-20.2 187.0,-27.8 178.1,-21.4" fill="url(#cg)"/><polygon points="177.6,19.0 178.5,21.0 171.8,31.0 163.4,21.7 166.5,17.5" fill="url(#cg)"/><polygon points="226.0,-42.5 219.5,-18.7 226.0,-15.3 233.6,-26.1" fill="url(#cg)"/><polygon points="252.4,-18.5 241.4,-18.3 239.0,-11.7 240.1,-8.7 247.6,-4.7 255.4,-11.0" fill="url(#cg)"/><polygon points="277.1,-20.8 271.2,-26.1 264.9,-22.3 266.0,-12.5 274.7,-14.4" fill="url(#cg)"/><polygon points="284.2,3.6 284.3,4.0 295.2,6.5 297.8,-1.6 291.2,-7.1" fill="url(#cg)"/><polygon points="293.0,19.0 293.2,20.3 280.0,27.9 277.9,24.5 282.1,12.1" fill="url(#cg)"/><polygon points="332.5,5.5 326.7,-2.6 320.0,0.1 318.1,7.3 324.1,12.5" fill="url(#cg)"/><polygon points="340.6,-19.4 334.2,-19.5 328.8,-11.7 329.7,-8.9 342.4,-3.6 345.9,-10.9" fill="url(#cg)"/><polygon points="355.7,-15.0 368.3,-17.8 365.4,-25.4 355.8,-25.4 354.4,-23.6" fill="url(#cg)"/><polygon points="202.2,22.1 199.6,11.2 190.8,14.5 190.1,20.1 198.9,23.7" fill="url(#cg)"/><polygon points="237.5,17.1 237.4,9.3 246.6,6.7 250.4,18.2 247.4,22.0" fill="url(#cg)"/><polygon points="351.3,15.5 343.8,27.4 348.6,39.6 360.5,21.8 355.5,15.8" fill="url(#cg)"/><polygon points="282.9,-22.7 282.3,-63.2 281.0,-71.8 271.2,-26.1 277.1,-20.8" fill="url(#cy)"/><polygon points="187.0,-27.8 193.0,-84.6 199.2,-24.0 193.3,-20.2" fill="url(#cy)"/><polygon points="92.5,-9.0 91.4,3.4 99.9,3.1 104.9,-1.9 104.8,-7.0 99.5,-12.5" fill="url(#cg)"/><polygon points="121.5,-2.8 113.9,2.7 104.9,-1.9 104.8,-7.0 113.5,-11.2 120.4,-6.0" fill="url(#cb)"/><polygon points="277.9,24.5 280.0,27.9 263.3,612.2 255.6,753.5 245.5,369.5 248.1,76.8 264.0,20.3 267.9,19.7" fill="url(#cb)"/><polygon points="202.2,22.1 205.8,22.7 215.5,38.9 245.5,369.5 255.6,753.5 254.8,852.3 250.0,860.5 167.2,736.8 190.7,51.6 198.9,23.7" fill="url(#cg)"/><polygon points="130.3,-16.6 136.1,-24.2 128.8,-35.9 120.9,-21.5 126.1,-16.9" fill="url(#cy)"/><polygon points="317.8,-15.3 328.8,-11.7 334.2,-19.5 328.5,-29.1 317.4,-22.3 316.9,-16.9" fill="url(#cb)"/><polygon points="274.7,-14.4 266.0,-12.5 263.9,-9.6 266.5,-0.8 277.9,-2.5 280.0,-9.8" fill="url(#cy)"/><polygon points="102.8,-109.9 95.2,-24.5 99.9,-19.4 112.3,-22.7" fill="url(#cy)"/><polygon points="170.3,5.9 178.4,12.3 185.7,7.9 186.4,4.7 182.1,-1.7 171.8,1.3" fill="url(#cy)"/><polygon points="286.3,-20.4 295.1,-22.9 299.4,-20.8 300.8,-16.7 290.9,-8.5 286.1,-11.7" fill="url(#cb)"/><polygon points="237.5,17.1 247.4,22.0 247.4,72.0 232.8,23.2" fill="url(#cb)"/><polygon points="299.4,-20.8 308.6,-32.3 317.4,-22.3 316.9,-16.9 302.6,-15.4 300.8,-16.7" fill="url(#cy)"/><polygon points="105.4,14.8 93.5,16.3 89.8,4.5 91.4,3.4 99.9,3.1" fill="url(#cb)"/><polygon points="261.3,17.5 250.4,18.2 247.4,22.0 247.4,72.0 248.1,76.8 264.0,20.3" fill="url(#cy)"/><polygon points="263.9,-9.6 266.5,-0.8 265.9,1.0 260.0,5.8 249.2,3.8 247.6,-4.7 255.4,-11.0" fill="url(#cb)"/><polygon points="371.7,1.6 366.8,6.1 361.6,6.3 356.7,0.5 358.8,-6.7 368.2,-7.2 371.9,-2.2" fill="url(#cb)"/><polygon points="324.5,14.4 319.1,22.8 327.6,30.7 335.4,22.2 334.9,20.5" fill="url(#cy)"/><polygon points="214.2,-5.7 207.4,-2.4 199.1,-8.3 210.0,-18.6 212.9,-17.4" fill="url(#cb)"/><polygon points="135.9,-8.4 145.8,-14.2 144.5,-23.0 136.1,-24.2 130.3,-16.6" fill="url(#cy)"/><polygon points="220.7,3.3 222.0,-1.1 224.1,-2.3 232.6,-0.7 237.2,9.2 226.0,11.5" fill="url(#cy)"/><polygon points="92.5,-9.0 91.4,3.4 89.8,4.5 -343.0,-5.0 73.1,-16.7" fill="url(#cy)"/><polygon points="274.1,10.2 265.9,1.0 260.0,5.8 261.3,17.5 264.0,20.3 267.9,19.7" fill="url(#cg)"/><polygon points="339.6,12.9 348.4,12.8 351.3,15.5 343.8,27.4 335.4,22.2 334.9,20.5" fill="url(#cy)"/><polygon points="335.8,5.6 342.6,-2.5 348.2,1.6 348.4,12.8 339.6,12.9" fill="url(#cy)"/><polygon points="335.4,22.2 343.8,27.4 348.6,39.6 356.8,705.8 320.2,757.6 327.6,30.7" fill="url(#cy)"/><polygon points="121.9,-2.6 127.7,11.4 132.1,11.4 135.4,9.4 135.0,-4.4 135.0,-4.5" fill="url(#cg)"/><polygon points="158.2,-5.7 153.7,-8.9 146.7,-0.5 147.2,4.1 154.7,9.2 158.6,7.0" fill="url(#cy)"/><polygon points="299.5,27.1 293.2,20.3 280.0,27.9 263.3,612.2 303.0,52.0" fill="url(#cy)"/><polygon points="360.5,21.8 365.5,22.7 568.4,418.0 356.8,705.8 348.6,39.6" fill="url(#cb)"/><polygon points="153.7,-8.9 160.5,-20.6 149.4,-28.3 144.5,-23.0 145.8,-14.2" fill="url(#cy)"/><polygon points="332.5,5.5 326.7,-2.6 329.7,-8.9 342.4,-3.6 342.6,-2.5 335.8,5.6" fill="url(#cb)"/><polygon points="309.0,18.3 308.1,10.2 309.0,9.1 318.1,7.3 324.1,12.5 324.5,14.4 319.1,22.8 316.8,23.3" fill="url(#cy)"/><polygon points="132.1,11.4 134.6,23.0 141.7,26.5 147.7,19.4 138.3,9.9 135.4,9.4" fill="url(#cy)"/><polygon points="361.6,6.3 355.5,15.8 360.5,21.8 365.5,22.7 371.4,16.9 366.8,6.1" fill="url(#cy)"/><polygon points="371.7,1.6 399.5,16.9 371.4,16.9 366.8,6.1" fill="url(#cy)"/><polygon points="254.3,-23.5 246.4,-29.5 240.0,-22.7 241.4,-18.3 252.4,-18.5" fill="url(#cg)"/><polygon points="212.8,15.4 205.8,22.7 215.5,38.9 221.8,20.0" fill="url(#cb)"/><polygon points="180.0,-16.2 179.1,-12.5 169.2,-9.7 165.2,-21.2 175.8,-22.9 178.1,-21.4" fill="url(#cb)"/><polygon points="182.9,-6.0 195.4,-9.7 197.6,-8.1 194.9,2.1 186.4,4.7 182.1,-1.7" fill="url(#cb)"/><polygon points="354.8,-12.9 358.8,-6.7 356.7,0.5 348.2,1.6 342.6,-2.5 342.4,-3.6 345.9,-10.9" fill="url(#cb)"/><polygon points="226.0,-42.5 219.8,-86.1 199.1,-630.2 196.6,-763.1 196.8,-779.6 222.8,-820.5 246.4,-29.5 240.0,-22.7 233.6,-26.1" fill="url(#cy)"/><polygon points="103.1,-319.1 92.0,-636.6 196.8,-779.6 196.6,-763.1 167.0,-165.2 149.4,-28.3 144.5,-23.0 136.1,-24.2 128.8,-35.9" fill="url(#cb)"/><polygon points="309.0,9.1 318.1,7.3 320.0,0.1 314.9,-6.0 306.1,-3.4" fill="url(#cy)"/><polygon points="299.5,27.1 309.0,18.3 316.8,23.3 303.0,52.0" fill="url(#cy)"/><polygon points="221.8,20.0 215.5,38.9 245.5,369.5 248.1,76.8 247.4,72.0 232.8,23.2 222.7,19.6" fill="url(#cb)"/><polygon points="226.0,-42.5 219.8,-86.1 208.9,-20.6 210.0,-18.6 212.9,-17.4 219.5,-18.7" fill="url(#cy)"/><polygon points="151.5,18.5 147.7,19.4 141.7,26.5 149.5,193.7 157.2,23.0" fill="url(#cy)"/><polygon points="211.2,9.3 206.9,6.9 207.4,-2.4 214.2,-5.7 222.0,-1.1 220.7,3.3" fill="url(#cy)"/><polygon points="282.3,-63.2 295.1,-22.9 299.4,-20.8 308.6,-32.3 281.5,-637.0 277.3,-209.7 281.0,-71.8" fill="url(#cy)"/><polygon points="368.3,-17.8 370.2,-16.6 415.1,-26.1 771.8,-148.6 569.6,-416.0 365.4,-25.4" fill="url(#cy)"/><polygon points="260.0,5.8 249.2,3.8 246.6,6.7 250.4,18.2 261.3,17.5" fill="url(#cg)"/><polygon points="340.6,-19.4 334.2,-19.5 328.5,-29.1 336.4,-67.1 344.4,-24.5" fill="url(#cb)"/><polygon points="219.5,-18.7 212.9,-17.4 214.2,-5.7 222.0,-1.1 224.1,-2.3 226.3,-14.9 226.0,-15.3" fill="url(#cy)"/><polygon points="92.5,-9.0 99.5,-12.5 99.9,-19.4 95.2,-24.5 73.1,-16.7" fill="url(#cg)"/><polygon points="297.8,-1.6 305.4,-3.8 306.1,-3.4 309.0,9.1 308.1,10.2 297.6,10.3 295.2,6.5" fill="url(#cy)"/><polygon points="113.8,11.8 107.8,16.1 108.2,22.1 123.0,27.6 123.2,14.1" fill="url(#cy)"/><polygon points="197.6,-8.1 199.1,-8.3 207.4,-2.4 206.9,6.9 201.2,8.2 194.9,2.1" fill="url(#cb)"/><polygon points="371.9,-2.2 415.1,-26.1 370.2,-16.6 368.2,-7.2" fill="url(#cb)"/><polygon points="157.2,23.0 149.5,193.7 153.8,717.9 166.1,735.2 171.8,31.0 163.4,21.7" fill="url(#cb)"/><polygon points="233.6,-26.1 240.0,-22.7 241.4,-18.3 239.0,-11.7 226.3,-14.9 226.0,-15.3" fill="url(#cy)"/><polygon points="107.8,16.1 108.2,22.1 98.8,37.8 91.8,19.1 93.5,16.3 105.4,14.8" fill="url(#cb)"/><polygon points="232.6,-0.7 240.1,-8.7 247.6,-4.7 249.2,3.8 246.6,6.7 237.4,9.3 237.2,9.2" fill="url(#cb)"/><polygon points="114.2,-21.2 113.5,-11.2 104.8,-7.0 99.5,-12.5 99.9,-19.4 112.3,-22.7" fill="url(#cb)"/><polygon points="158.6,7.0 154.7,9.2 151.5,18.5 157.2,23.0 163.4,21.7 166.5,17.5 165.4,8.7" fill="url(#cy)"/><polygon points="277.3,-209.7 259.0,-26.0 254.3,-23.5 246.4,-29.5 222.8,-820.5 250.0,-864.1 280.1,-816.2 281.5,-637.0" fill="url(#cg)"/><polygon points="284.3,4.0 281.2,10.0 282.1,12.1 293.0,19.0 297.6,10.3 295.2,6.5" fill="url(#cy)"/><polygon points="354.8,-12.9 345.9,-10.9 340.6,-19.4 344.4,-24.5 354.4,-23.6 355.7,-15.0" fill="url(#cb)"/><polygon points="121.9,-2.6 135.0,-4.5 135.9,-8.4 130.3,-16.6 126.1,-16.9 120.4,-6.0 121.5,-2.8" fill="url(#cy)"/><polygon points="158.2,-5.7 158.6,7.0 165.4,8.7 170.3,5.9 171.8,1.3 167.3,-6.5" fill="url(#cy)"/><polygon points="175.8,-22.9 167.7,-131.8 164.5,-21.5 165.2,-21.2" fill="url(#cb)"/><polygon points="180.0,-16.2 179.1,-12.5 182.9,-6.0 195.4,-9.7 192.6,-17.7" fill="url(#cb)"/><polygon points="193.3,-20.2 199.2,-24.0 208.9,-20.6 210.0,-18.6 199.1,-8.3 197.6,-8.1 195.4,-9.7 192.6,-17.7" fill="url(#cb)"/><polygon points="286.1,-11.7 290.9,-8.5 291.2,-7.1 284.2,3.6 277.9,-2.5 280.0,-9.8" fill="url(#cy)"/><polygon points="344.4,-24.5 336.4,-67.1 343.5,-203.0 355.8,-25.4 354.4,-23.6" fill="url(#cy)"/><polygon points="371.4,16.9 365.5,22.7 568.4,418.0 802.0,110.9 399.5,16.9" fill="url(#cb)"/><polygon points="98.8,37.8 10.2,530.2 -371.7,57.7 91.8,19.1" fill="url(#cy)"/><polygon points="121.9,-2.6 127.7,11.4 123.2,14.1 113.8,11.8 113.9,2.7 121.5,-2.8" fill="url(#cy)"/><polygon points="297.6,10.3 308.1,10.2 309.0,18.3 299.5,27.1 293.2,20.3 293.0,19.0" fill="url(#cy)"/><polygon points="102.8,-109.9 95.2,-24.5 73.1,-16.7 -343.0,-5.0 -415.5,-4.5 92.0,-636.6 103.1,-319.1" fill="url(#cy)"/><polygon points="264.9,-22.3 266.0,-12.5 263.9,-9.6 255.4,-11.0 252.4,-18.5 254.3,-23.5 259.0,-26.0" fill="url(#cb)"/><polygon points="284.2,3.6 284.3,4.0 281.2,10.0 274.1,10.2 265.9,1.0 266.5,-0.8 277.9,-2.5" fill="url(#cy)"/><polygon points="190.8,14.5 185.7,7.9 178.4,12.3 177.6,19.0 178.5,21.0 185.6,23.3 190.1,20.1" fill="url(#cb)"/><polygon points="332.5,5.5 324.1,12.5 324.5,14.4 334.9,20.5 339.6,12.9 335.8,5.6" fill="url(#cb)"/><polygon points="102.8,-109.9 112.3,-22.7 114.2,-21.2 120.9,-21.5 128.8,-35.9 103.1,-319.1" fill="url(#cb)"/><polygon points="185.6,23.3 190.7,51.6 167.2,736.8 166.1,735.2 171.8,31.0 178.5,21.0" fill="url(#cy)"/><polygon points="212.8,15.4 205.8,22.7 202.2,22.1 199.6,11.2 201.2,8.2 206.9,6.9 211.2,9.3" fill="url(#cb)"/><polygon points="317.8,-15.3 328.8,-11.7 329.7,-8.9 326.7,-2.6 320.0,0.1 314.9,-6.0" fill="url(#cy)"/><polygon points="93.5,16.3 91.8,19.1 -371.7,57.7 -419.5,-0.0 -415.5,-4.5 -343.0,-5.0 89.8,4.5" fill="url(#cy)"/><polygon points="198.9,23.7 190.7,51.6 185.6,23.3 190.1,20.1" fill="url(#cb)"/><polygon points="361.6,6.3 355.5,15.8 351.3,15.5 348.4,12.8 348.2,1.6 356.7,0.5" fill="url(#cb)"/><polygon points="141.7,26.5 149.5,193.7 153.8,717.9 145.9,707.3 123.2,28.0 134.6,23.0" fill="url(#cb)"/><polygon points="160.5,-20.6 149.4,-28.3 167.0,-165.2 167.7,-131.8 164.5,-21.5" fill="url(#cb)"/><polygon points="300.8,-16.7 302.6,-15.4 305.4,-3.8 297.8,-1.6 291.2,-7.1 290.9,-8.5" fill="url(#cb)"/><polygon points="199.2,-24.0 208.9,-20.6 219.8,-86.1 199.1,-630.2 193.0,-84.6" fill="url(#cb)"/><polygon points="113.9,2.7 104.9,-1.9 99.9,3.1 105.4,14.8 107.8,16.1 113.8,11.8" fill="url(#cy)"/><polygon points="146.7,-0.5 135.0,-4.4 135.0,-4.5 135.9,-8.4 145.8,-14.2 153.7,-8.9 153.7,-8.9" fill="url(#cy)"/><polygon points="281.5,-637.0 280.1,-816.2 353.3,-710.0 343.5,-203.0 336.4,-67.1 328.5,-29.1 317.4,-22.3 308.6,-32.3" fill="url(#cy)"/><polygon points="212.8,15.4 221.8,20.0 222.7,19.6 226.0,11.5 220.7,3.3 211.2,9.3" fill="url(#cb)"/><polygon points="123.0,27.6 108.2,22.1 98.8,37.8 10.2,530.2 145.9,707.3 123.2,28.0" fill="url(#cb)"/><polygon points="167.3,-6.5 169.2,-9.7 179.1,-12.5 182.9,-6.0 182.1,-1.7 171.8,1.3" fill="url(#cb)"/><polygon points="199.6,11.2 201.2,8.2 194.9,2.1 186.4,4.7 185.7,7.9 190.8,14.5" fill="url(#cy)"/><polygon points="147.2,4.1 138.3,9.9 147.7,19.4 151.5,18.5 154.7,9.2" fill="url(#cy)"/><polygon points="302.6,-15.4 316.9,-16.9 317.8,-15.3 314.9,-6.0 306.1,-3.4 305.4,-3.8" fill="url(#cb)"/><polygon points="178.1,-21.4 175.8,-22.9 167.7,-131.8 167.0,-165.2 196.6,-763.1 199.1,-630.2 193.0,-84.6 187.0,-27.8" fill="url(#cy)"/><polygon points="224.1,-2.3 232.6,-0.7 240.1,-8.7 239.0,-11.7 226.3,-14.9" fill="url(#cb)"/><polygon points="281.0,-71.8 277.3,-209.7 259.0,-26.0 264.9,-22.3 271.2,-26.1" fill="url(#cb)"/><polygon points="222.7,19.6 232.8,23.2 237.5,17.1 237.4,9.3 237.2,9.2 226.0,11.5" fill="url(#cy)"/><polygon points="282.1,12.1 277.9,24.5 267.9,19.7 274.1,10.2 281.2,10.0" fill="url(#cy)"/><polygon points="282.9,-22.7 277.1,-20.8 274.7,-14.4 280.0,-9.8 286.1,-11.7 286.3,-20.4" fill="url(#cy)"/><polygon points="354.8,-12.9 358.8,-6.7 368.2,-7.2 370.2,-16.6 368.3,-17.8 355.7,-15.0" fill="url(#cy)"/><polygon points="170.3,5.9 178.4,12.3 177.6,19.0 166.5,17.5 165.4,8.7" fill="url(#cg)"/><polygon points="282.9,-22.7 282.3,-63.2 295.1,-22.9 286.3,-20.4" fill="url(#cy)"/><polygon points="371.7,1.6 399.5,16.9 802.0,110.9 891.6,-0.0 771.8,-148.6 415.1,-26.1 371.9,-2.2" fill="url(#cb)"/><polygon points="303.0,52.0 263.3,612.2 255.6,753.5 254.8,852.3 320.2,757.6 327.6,30.7 319.1,22.8 316.8,23.3" fill="url(#cb)"/></g>
<polygon points="0,-25.2 92,-25.2 100,-25.2 97,-10 101,4 96,14 99,25.2 0,25.2" fill="url(#gEl)"/>
<polygon points="0,-25.2 21,-25.2 0,-7" fill="#b3944c" opacity=".85"/>
<polyline points="13.8,-8.9 27.6,-5.9 73,9.9 84.8,11.4" fill="none" stroke="#c4a347" stroke-width="2" opacity=".65"/>
<polyline points="80.9,23.7 73,9.9" fill="none" stroke="#c4a347" stroke-width="1.6" opacity=".55"/>
<polygon points="0,25.2 0,8 60,25.2" fill="#e6cd8c" opacity=".5"/>
</g>
<rect x="375.7" y="11.6" width="1.9" height="2.4" fill="#b5b5b5" opacity="0.47"/><rect x="367.8" y="12.0" width="0.9" height="7.0" fill="#b5b5b5" opacity="0.61"/><rect x="369.5" y="-5.8" width="1.4" height="3.7" fill="#b5b5b5" opacity="0.68"/><rect x="371.7" y="-24.1" width="2.3" height="6.7" fill="#b5b5b5" opacity="0.48"/><rect x="377.0" y="18.4" width="1.5" height="3.0" fill="#b5b5b5" opacity="0.49"/><rect x="361.6" y="-9.5" width="1.1" height="3.2" fill="#b5b5b5" opacity="0.40"/><rect x="377.4" y="13.2" width="2.1" height="4.8" fill="#b5b5b5" opacity="0.40"/><rect x="365.8" y="16.7" width="1.0" height="2.8" fill="#b5b5b5" opacity="0.64"/><rect x="373.1" y="-11.2" width="2.3" height="6.5" fill="#b5b5b5" opacity="0.55"/><rect x="385.6" y="12.4" width="1.4" height="3.1" fill="#b5b5b5" opacity="0.36"/><rect x="384.1" y="-11.6" width="1.6" height="5.1" fill="#b5b5b5" opacity="0.57"/><rect x="365.3" y="-15.6" width="0.9" height="6.1" fill="#b5b5b5" opacity="0.53"/><rect x="364.5" y="10.6" width="1.9" height="6.8" fill="#b5b5b5" opacity="0.61"/><rect x="367.8" y="-24.6" width="0.9" height="4.8" fill="#b5b5b5" opacity="0.69"/><rect x="360.3" y="-19.1" width="1.5" height="5.3" fill="#b5b5b5" opacity="0.52"/><rect x="360.3" y="14.1" width="2.4" height="5.1" fill="#b5b5b5" opacity="0.46"/><rect x="361.1" y="-17.5" width="1.0" height="6.8" fill="#b5b5b5" opacity="0.46"/><rect x="377.2" y="17.3" width="1.2" height="6.5" fill="#b5b5b5" opacity="0.51"/><rect x="380.8" y="14.0" width="2.4" height="3.6" fill="#b5b5b5" opacity="0.62"/><rect x="362.2" y="-9.8" width="1.4" height="5.1" fill="#b5b5b5" opacity="0.67"/><rect x="381.4" y="15.7" width="2.4" height="6.3" fill="#b5b5b5" opacity="0.42"/><rect x="364.5" y="14.1" width="1.9" height="3.8" fill="#b5b5b5" opacity="0.41"/><rect x="361.3" y="-18.1" width="1.4" height="3.5" fill="#b5b5b5" opacity="0.65"/><rect x="370.8" y="0.9" width="2.0" height="6.6" fill="#b5b5b5" opacity="0.30"/><rect x="385.4" y="17.1" width="1.0" height="6.5" fill="#b5b5b5" opacity="0.41"/><rect x="376.4" y="16.3" width="1.3" height="6.9" fill="#b5b5b5" opacity="0.39"/><rect x="382.4" y="-17.6" width="1.9" height="4.9" fill="#b5b5b5" opacity="0.56"/><rect x="366.0" y="13.4" width="1.7" height="4.6" fill="#b5b5b5" opacity="0.54"/><rect x="370.5" y="0.5" width="1.5" height="5.7" fill="#b5b5b5" opacity="0.32"/><rect x="375.6" y="14.3" width="2.1" height="2.8" fill="#b5b5b5" opacity="0.50"/><rect x="375.9" y="16.5" width="1.8" height="2.6" fill="#b5b5b5" opacity="0.56"/><rect x="368.9" y="3.8" width="1.8" height="5.6" fill="#b5b5b5" opacity="0.68"/><rect x="365.5" y="-7.7" width="2.4" height="3.6" fill="#b5b5b5" opacity="0.59"/><rect x="379.1" y="-18.4" width="2.4" height="4.9" fill="#b5b5b5" opacity="0.40"/><rect x="366.6" y="13.9" width="2.2" height="4.5" fill="#b5b5b5" opacity="0.41"/><rect x="370.6" y="19.2" width="2.0" height="3.5" fill="#b5b5b5" opacity="0.60"/><rect x="365.0" y="11.5" width="2.3" height="6.5" fill="#b5b5b5" opacity="0.38"/><rect x="378.8" y="-20.1" width="0.9" height="5.2" fill="#b5b5b5" opacity="0.34"/><rect x="366.8" y="-17.0" width="1.7" height="6.8" fill="#b5b5b5" opacity="0.63"/><rect x="361.4" y="-7.4" width="1.6" height="2.9" fill="#b5b5b5" opacity="0.42"/><rect x="373.5" y="21.7" width="1.0" height="2.3" fill="#b5b5b5" opacity="0.61"/><rect x="374.3" y="12.8" width="1.6" height="5.7" fill="#b5b5b5" opacity="0.42"/><rect x="374.7" y="-13.0" width="1.4" height="5.6" fill="#b5b5b5" opacity="0.35"/><rect x="360.9" y="-11.6" width="1.1" height="2.7" fill="#b5b5b5" opacity="0.41"/><rect x="368.7" y="17.9" width="1.6" height="4.5" fill="#b5b5b5" opacity="0.65"/><rect x="371.2" y="-13.8" width="2.4" height="4.4" fill="#b5b5b5" opacity="0.34"/><rect x="362.1" y="-17.3" width="1.1" height="2.7" fill="#b5b5b5" opacity="0.44"/><rect x="378.8" y="21.5" width="1.3" height="3.7" fill="#b5b5b5" opacity="0.33"/><rect x="369.0" y="3.1" width="1.8" height="4.6" fill="#b5b5b5" opacity="0.31"/><rect x="370.8" y="-17.6" width="1.2" height="5.0" fill="#b5b5b5" opacity="0.69"/><rect x="380.1" y="-13.4" width="1.0" height="2.8" fill="#b5b5b5" opacity="0.38"/><rect x="362.5" y="-4.1" width="0.8" height="4.2" fill="#b5b5b5" opacity="0.59"/><rect x="375.6" y="20.0" width="2.0" height="5.2" fill="#b5b5b5" opacity="0.37"/><rect x="366.9" y="9.6" width="1.8" height="5.5" fill="#b5b5b5" opacity="0.35"/><rect x="370.9" y="19.1" width="1.1" height="5.9" fill="#b5b5b5" opacity="0.54"/><rect x="363.2" y="-1.1" width="1.7" height="5.6" fill="#b5b5b5" opacity="0.66"/><rect x="362.5" y="-16.1" width="2.1" height="6.9" fill="#b5b5b5" opacity="0.36"/><rect x="380.4" y="-21.8" width="0.8" height="7.0" fill="#b5b5b5" opacity="0.61"/><rect x="371.4" y="14.9" width="1.9" height="4.3" fill="#b5b5b5" opacity="0.42"/><rect x="374.3" y="21.9" width="2.2" height="3.1" fill="#b5b5b5" opacity="0.55"/><rect x="383.2" y="-18.8" width="1.4" height="2.4" fill="#b5b5b5" opacity="0.53"/><rect x="360.3" y="8.9" width="2.0" height="3.3" fill="#b5b5b5" opacity="0.37"/><rect x="363.1" y="3.3" width="1.3" height="4.0" fill="#b5b5b5" opacity="0.56"/><rect x="364.4" y="-0.5" width="1.3" height="4.4" fill="#b5b5b5" opacity="0.56"/><rect x="378.4" y="9.2" width="1.5" height="2.1" fill="#b5b5b5" opacity="0.69"/><rect x="371.5" y="22.0" width="1.4" height="3.2" fill="#b5b5b5" opacity="0.37"/><rect x="363.9" y="9.6" width="1.2" height="2.3" fill="#b5b5b5" opacity="0.50"/><rect x="376.7" y="15.9" width="1.0" height="6.0" fill="#b5b5b5" opacity="0.32"/><rect x="367.1" y="-0.1" width="1.5" height="6.0" fill="#b5b5b5" opacity="0.57"/><rect x="365.0" y="-10.9" width="2.3" height="5.3" fill="#b5b5b5" opacity="0.31"/><rect x="370.3" y="-14.8" width="1.9" height="6.5" fill="#b5b5b5" opacity="0.61"/><rect x="363.3" y="6.5" width="1.5" height="5.0" fill="#b5b5b5" opacity="0.65"/><rect x="367.6" y="-12.3" width="1.6" height="2.9" fill="#b5b5b5" opacity="0.64"/><rect x="363.6" y="-10.4" width="2.3" height="2.1" fill="#b5b5b5" opacity="0.69"/><rect x="366.4" y="17.0" width="0.9" height="5.1" fill="#b5b5b5" opacity="0.64"/></g>
<g font-family="'Liberation Sans','Noto Sans CJK JP',sans-serif" fill="#000">
<path d="M343.5,284 C400,300 480,288 533,222.5" fill="none" stroke="#000" stroke-width="1.7" marker-end="url(#mk)"/>
<text transform="translate(443.30,308.10) scale(1,0.9)" font-size="21.3" stroke="#000" stroke-width="0.35">90°回転</text>
<g stroke="#222" stroke-width="1" fill="none" stroke-dasharray="2.8 2.6">
<line x1="645.4" y1="122" x2="645.4" y2="285"/>
<line x1="909.7" y1="122" x2="909.7" y2="251"/>
<line x1="909.7" y1="268" x2="909.7" y2="285"/>
<line x1="886" y1="139.8" x2="1022" y2="106.5"/>
<line x1="888" y1="162.3" x2="1028" y2="182.5"/>
</g>
<line x1="645.4" y1="121.6" x2="920" y2="121.6" stroke="#444" stroke-width="1"/>
<polygon points="918.3,117.3 927.2,121.6 918.3,125.9" fill="#000"/>
<circle cx="886" cy="151" r="11.3" fill="none" stroke="#111" stroke-width="1"/>
<rect x="551.4" y="133.2" width="78" height="42" fill="#fff" stroke="#111" stroke-width="1"/>
<rect x="730.5" y="144.6" width="101.9" height="20.7" fill="#fff" stroke="#111" stroke-width="1"/>
<rect x="918.2" y="141.5" width="61.3" height="21" fill="#fff" stroke="#111" stroke-width="1"/>
<text transform="translate(636.40,110.70)" font-size="31.6" stroke="#000" stroke-width="0.5">0</text>
<text transform="translate(772.00,110.30)" font-size="31.8" stroke="#000" stroke-width="0.8" font-style="italic">x</text>
<text transform="translate(902.00,110.10)" font-size="31.6" stroke="#000" stroke-width="0.6" font-style="italic">L</text>
<text transform="translate(590.20,149.60) scale(1,0.92)" font-size="17.3" stroke="#000" stroke-width="0.2" text-anchor="middle">固体</text>
<text transform="translate(590.20,169.50) scale(1,0.92)" font-size="17.3" stroke="#000" stroke-width="0.2" text-anchor="middle">電解質層</text>
<text transform="translate(781.50,160.60) scale(1,0.93)" font-size="17.2" stroke="#000" stroke-width="0.25" text-anchor="middle">正極複合体</text>
<text transform="translate(948.80,157.80) scale(1,0.93)" font-size="17.3" stroke="#000" stroke-width="0.25" text-anchor="middle">集電体</text>
<g clip-path="url(#cpBig)"><rect x="1000" y="96" width="94" height="94" fill="#d9b42b"/>
<g filter="url(#fBlurC)"><circle cx="1027.2" cy="115.3" r="13.8" fill="url(#gLobe)"/><circle cx="1046.1" cy="116.0" r="13.1" fill="url(#gLobe)"/><circle cx="1073.0" cy="137.1" r="15.3" fill="url(#gLobe)"/><circle cx="1058.5" cy="157.4" r="12.4" fill="url(#gLobe)"/><circle cx="1012.0" cy="148.7" r="11.6" fill="url(#gLobe)"/><circle cx="1030.2" cy="177.0" r="12.4" fill="url(#gLobe)"/><circle cx="1049.8" cy="177.8" r="12.4" fill="url(#gLobe)"/><circle cx="1085.4" cy="156.0" r="8.7" fill="url(#gLobe)"/><circle cx="1013.4" cy="121.1" r="8.7" fill="url(#gLobe)"/><circle cx="1083.2" cy="118.2" r="7.3" fill="url(#gLobe)"/><circle cx="1039.6" cy="97.8" r="8.7" fill="url(#gLobe)"/><polygon points="1007.6,126.9 1020.7,129.8 1021.4,140.0 1010.5,137.8 1004.7,134.2" fill="#ecd48a"/><polygon points="1023.6,151.6 1042.5,148.0 1046.9,156.0 1044.0,166.1 1032.3,168.3 1023.6,163.9" fill="#efd88f"/><polygon points="1045.4,135.6 1057.0,133.4 1060.0,142.9 1051.2,150.1 1044.0,147.2" fill="#ecd084"/><polygon points="1060.0,167.6 1070.1,169.0 1068.7,179.2 1058.5,173.4" fill="#efd88f"/><polygon points="1071.6,154.5 1077.4,153.0 1078.8,160.3 1073.0,164.7 1068.7,160.3" fill="#ecd084"/><polygon points="1052.7,107.3 1077.4,109.2 1083.9,122.5 1060.0,129.1 1055.6,121.1" fill="#5b6568"/><polygon points="1022.9,130.5 1034.5,129.8 1045.4,137.1 1042.5,147.2 1023.6,150.9 1020.7,140.0" fill="#5b6568"/><polygon points="1008.4,160.3 1021.4,159.6 1024.3,164.7 1019.3,175.6 1010.5,169.0" fill="#5f696c"/><polygon points="1070.1,169.0 1075.2,166.1 1081.0,170.5 1077.4,177.8 1071.6,175.6" fill="#5f696c"/></g></g>
<circle cx="1046.3" cy="142.7" r="42.4" fill="none" stroke="#000" stroke-width="1.7"/>
<g stroke="#222" stroke-width="0.9"><line x1="1068" y1="116" x2="1102" y2="108"/><line x1="1082" y1="136.3" x2="1116.3" y2="128"/><line x1="1039" y1="158.8" x2="1085.6" y2="195.6"/></g>
<text transform="translate(1106.60,115.10) scale(1,0.95)" font-size="17.1" stroke="#000" stroke-width="0.25">導電助剤</text>
<text transform="translate(1122.40,135.70) scale(1,0.95)" font-size="17.1" stroke="#000" stroke-width="0.25">硫黄</text>
<text transform="translate(1086.30,204.00) scale(1,0.95)" font-size="17.2" stroke="#000" stroke-width="0.25">固体電解質</text>
<text transform="translate(8.40,62.90) scale(1,0.935)" font-size="38.2" stroke="#000" stroke-width="0.5">全固体リチウム</text>
<text transform="translate(8.40,107.00) scale(1,0.935)" font-size="38.2" stroke="#000" stroke-width="0.5">硫黄電池セル</text>
<text transform="translate(222.20,450.20) scale(1,0.95)" font-size="31.5" stroke="#000" stroke-width="0.3">固体電解質層</text>
<text transform="translate(217.60,507.60) scale(1,0.95)" font-size="31.4" stroke="#000" stroke-width="0.3">正極複合体</text>
<text transform="translate(156.80,555.20) scale(1,0.95)" font-size="31.5" stroke="#000" stroke-width="0.3">集電体</text>
<text transform="translate(649.00,256.90) scale(1,0.95)" font-size="38" stroke="#000" stroke-width="0.55"><tspan font-weight="bold" stroke="none">(a)</tspan> 高速放電時</text>
<text transform="translate(973.00,256.90) scale(1,0.95)" font-size="38" stroke="#000" stroke-width="0.55"><tspan font-weight="bold" stroke="none">(b)</tspan>高速充電時</text>
<rect x="646.3" y="285.2" width="263.5" height="253.4" fill="#fff" stroke="none"/><line x1="657.8" y1="321" x2="899" y2="321" stroke="#3a477a" stroke-width="2"/><polyline points="658.5,382.6 677.0,378.5 695.4,377.7 713.9,371.6 732.3,361.7 750.8,355.0 769.2,348.3 787.7,343.6 806.1,341.6 824.6,335.5 843.0,337.2 861.5,334.9 879.9,334.3 898.4,330.9" fill="none" stroke="#3e4a72" stroke-width="2.0" stroke-linejoin="round"/><polyline points="658.5,428.9 677.0,416.3 695.4,411.4 713.9,406.2 732.3,399.8 750.8,393.0 769.2,385.8 787.7,379.7 806.1,372.7 824.6,363.7 843.0,362.5 861.5,356.4 879.9,355.0 898.4,351.5" fill="none" stroke="#555b70" stroke-width="2.0" stroke-linejoin="round"/><polyline points="658.5,490.5 677.0,487.0 695.4,481.2 713.9,471.0 732.3,452.7 750.8,441.0 769.2,428.9 787.7,421.6 806.1,418.4 824.6,410.2 843.0,410.8 861.5,403.3 879.9,400.6 898.4,392.8" fill="none" stroke="#6f6f70" stroke-width="2.0" stroke-linejoin="round"/><polyline points="658.5,513.8 677.0,510.0 695.4,503.9 713.9,504.2 732.3,494.0 750.8,488.5 769.2,478.9 787.7,467.2 806.1,456.5 824.6,452.1 843.0,446.3 861.5,437.6 879.9,433.8 898.4,421.6" fill="none" stroke="#87826a" stroke-width="2.0" stroke-linejoin="round"/><polyline points="658.5,526.3 677.0,523.6 695.4,519.6 713.9,514.0 732.3,509.7 750.8,505.6 769.2,500.7 787.7,496.3 806.1,490.5 824.6,484.7 843.0,476.8 861.5,469.3 879.9,463.5 898.4,451.5" fill="none" stroke="#a59d6f" stroke-width="2.0" stroke-linejoin="round"/><line x1="646.3" y1="539.2" x2="646.3" y2="284.7" stroke="#222" stroke-width="1.6"/><line x1="645.6" y1="285.2" x2="909.8" y2="285.2" stroke="#2a2a2a" stroke-width="1.15"/><line x1="645.7" y1="538.6" x2="910.4" y2="538.6" stroke="#222" stroke-width="1.45"/><line x1="910.1" y1="285.2" x2="910.1" y2="538.6" stroke="#5a40c4" stroke-width="2"/><line x1="909.6" y1="285.2" x2="909.6" y2="538.6" stroke="#1a1a2a" stroke-width="1.1" stroke-dasharray="2.8 2.6"/><line x1="645.4" y1="285.2" x2="645.4" y2="538.6" stroke="#222" stroke-width="1.4" stroke-dasharray="2.5 1.5"/><line x1="646.3" y1="321.0" x2="651" y2="321.0" stroke="#111" stroke-width="1.2"/><line x1="646.3" y1="351.0" x2="651" y2="351.0" stroke="#111" stroke-width="1.2"/><line x1="646.3" y1="381.2" x2="651" y2="381.2" stroke="#111" stroke-width="1.2"/><line x1="646.3" y1="411.4" x2="651" y2="411.4" stroke="#111" stroke-width="1.2"/><line x1="646.3" y1="441.6" x2="651" y2="441.6" stroke="#111" stroke-width="1.2"/><line x1="646.3" y1="471.6" x2="651" y2="471.6" stroke="#111" stroke-width="1.2"/><line x1="646.3" y1="501.5" x2="651" y2="501.5" stroke="#111" stroke-width="1.2"/><line x1="646.3" y1="531.5" x2="651" y2="531.5" stroke="#111" stroke-width="1.2"/><line x1="905.3" y1="321.2" x2="909.8" y2="321.2" stroke="#111" stroke-width="1.2"/><line x1="905.3" y1="375.7" x2="909.8" y2="375.7" stroke="#111" stroke-width="1.2"/><line x1="905.3" y1="430.0" x2="909.8" y2="430.0" stroke="#111" stroke-width="1.2"/><line x1="905.3" y1="484.3" x2="909.8" y2="484.3" stroke="#111" stroke-width="1.2"/><line x1="658.5" y1="534.4" x2="658.5" y2="538.6" stroke="#111" stroke-width="1.2"/><line x1="778.3" y1="534.4" x2="778.3" y2="538.6" stroke="#111" stroke-width="1.2"/><line x1="898.3" y1="534.4" x2="898.3" y2="538.6" stroke="#111" stroke-width="1.2"/><line x1="851.9" y1="318.6" x2="865.0" y2="312.0" stroke="#555" stroke-width="0.6"/><line x1="833.0" y1="336.7" x2="849.0" y2="343.0" stroke="#555" stroke-width="0.6"/><line x1="822.8" y1="364.3" x2="839.7" y2="372.0" stroke="#555" stroke-width="0.6"/><line x1="841.7" y1="411.0" x2="852.5" y2="415.5" stroke="#555" stroke-width="0.6"/><line x1="835.9" y1="448.3" x2="844.6" y2="450.7" stroke="#555" stroke-width="0.6"/><line x1="827.0" y1="484.0" x2="840.8" y2="490.0" stroke="#555" stroke-width="0.6"/><text transform="translate(893.20,316.40)" font-size="16.5" stroke="#000" stroke-width="0.3" text-anchor="end">0 h</text><text transform="translate(893.20,352.00)" font-size="16.5" stroke="#000" stroke-width="0.3" text-anchor="end">0.5 h</text><text transform="translate(893.20,380.60)" font-size="16.5" stroke="#000" stroke-width="0.3" text-anchor="end">0.75 h</text><text transform="translate(893.20,421.60)" font-size="16.5" stroke="#000" stroke-width="0.3" text-anchor="end">1.0 h</text><text transform="translate(893.20,456.80)" font-size="16.5" stroke="#000" stroke-width="0.3" text-anchor="end">1.25 h</text><text transform="translate(893.20,495.70)" font-size="16.5" stroke="#000" stroke-width="0.3" text-anchor="end">1.43 h</text><text transform="translate(658.50,556.30)" font-size="17" stroke="#000" stroke-width="0.35" text-anchor="middle">0.0</text><text transform="translate(778.30,556.30)" font-size="17" stroke="#000" stroke-width="0.35" text-anchor="middle">0.5</text><text transform="translate(898.30,556.30)" font-size="17" stroke="#000" stroke-width="0.35" text-anchor="middle">1.0</text><text transform="translate(779.30,572.00)" font-size="17.6" stroke="#000" stroke-width="0.6" text-anchor="middle" font-style="italic" word-spacing="1.5">x / L</text>
<rect x="970.5" y="288.2" width="263.5" height="253.4" fill="#fff"/><polyline points="982.3,362.8 996.4,367.6 1010.5,372.7 1024.6,381.7 1038.7,391.1 1052.8,401.9 1066.9,411.5 1081.0,425.1 1095.1,440.7 1109.1,458.5 1123.2,476.1 1137.3,481.5 1151.4,484.6 1165.5,490.0 1179.6,495.4 1193.7,495.1 1207.8,495.6 1221.9,501.6" fill="none" stroke="#6b6b6c" stroke-width="2.0" stroke-linejoin="round"/><polyline points="982.3,391.1 996.4,393.1 1010.5,401.9 1024.6,418.0 1038.7,437.8 1052.8,460.0 1066.9,476.1 1081.0,486.9 1095.1,491.7 1109.1,502.2 1123.2,503.0 1137.3,504.4 1151.4,505.3 1165.5,508.1 1179.6,509.5 1193.7,509.5 1207.8,513.8 1221.9,515.8" fill="none" stroke="#585d72" stroke-width="2.0" stroke-linejoin="round"/><polyline points="982.3,418.9 996.4,439.3 1010.5,465.6 1024.6,502.5 1038.7,513.2 1052.8,514.9 1066.9,512.4 1081.0,509.5 1095.1,506.7 1109.1,504.4 1123.2,505.9 1137.3,507.3 1151.4,505.3 1165.5,512.1 1179.6,511.0 1193.7,510.4 1207.8,512.9 1221.9,514.4" fill="none" stroke="#3b4a80" stroke-width="2.0" stroke-linejoin="round"/><polyline points="982.3,478.9 996.4,494.5 1010.5,510.7 1024.6,517.2 1038.7,519.2 1052.8,515.2 1066.9,512.4 1081.0,515.8 1095.1,511.0 1109.1,511.0 1123.2,510.4 1137.3,512.4 1151.4,514.6 1165.5,516.9 1179.6,514.4 1193.7,512.4 1207.8,513.5 1221.9,514.9" fill="none" stroke="#1c3c88" stroke-width="2.0" stroke-linejoin="round"/><line x1="981.6" y1="535.5" x2="1222.3" y2="535.5" stroke="#1f3f8f" stroke-width="2"/><line x1="970.5" y1="542.2" x2="970.5" y2="287.6" stroke="#222" stroke-width="1.5"/><line x1="969.8" y1="288.2" x2="1234.6" y2="288.2" stroke="#2a2a2a" stroke-width="1.2"/><line x1="969.9" y1="541.6" x2="1234.8" y2="541.6" stroke="#222" stroke-width="1.5"/><line x1="1234" y1="288.8" x2="1234" y2="541.6" stroke="#9b5fc8" stroke-width="1.9"/><line x1="970.5" y1="329.8" x2="975.2" y2="329.8" stroke="#111" stroke-width="1.2"/><line x1="970.5" y1="359.3" x2="975.2" y2="359.3" stroke="#111" stroke-width="1.2"/><line x1="970.5" y1="388.8" x2="975.2" y2="388.8" stroke="#111" stroke-width="1.2"/><line x1="970.5" y1="418.0" x2="975.2" y2="418.0" stroke="#111" stroke-width="1.2"/><line x1="970.5" y1="447.5" x2="975.2" y2="447.5" stroke="#111" stroke-width="1.2"/><line x1="970.5" y1="477.0" x2="975.2" y2="477.0" stroke="#111" stroke-width="1.2"/><line x1="970.5" y1="506.5" x2="975.2" y2="506.5" stroke="#111" stroke-width="1.2"/><line x1="970.5" y1="535.6" x2="975.2" y2="535.6" stroke="#111" stroke-width="1.2"/><line x1="1229.3" y1="323.4" x2="1233.2" y2="323.4" stroke="#111" stroke-width="1.2"/><line x1="1229.3" y1="376.2" x2="1233.2" y2="376.2" stroke="#111" stroke-width="1.2"/><line x1="1229.3" y1="430.0" x2="1233.2" y2="430.0" stroke="#111" stroke-width="1.2"/><line x1="1229.3" y1="482.6" x2="1233.2" y2="482.6" stroke="#111" stroke-width="1.2"/><line x1="1229.3" y1="535.6" x2="1233.2" y2="535.6" stroke="#111" stroke-width="1.2"/><line x1="982.3" y1="537.4" x2="982.3" y2="541.6" stroke="#111" stroke-width="1.2"/><line x1="1102.0" y1="537.4" x2="1102.0" y2="541.6" stroke="#111" stroke-width="1.2"/><line x1="1221.8" y1="537.4" x2="1221.8" y2="541.6" stroke="#111" stroke-width="1.2"/><line x1="1033.9" y1="388.3" x2="1042.9" y2="382.6" stroke="#555" stroke-width="0.6"/><line x1="1021.7" y1="419.4" x2="1028.8" y2="415.7" stroke="#555" stroke-width="0.6"/><line x1="1001.8" y1="449.2" x2="1009.8" y2="443.5" stroke="#555" stroke-width="0.6"/><line x1="1007.5" y1="505.3" x2="1027.3" y2="488.9" stroke="#555" stroke-width="0.6"/><line x1="986.3" y1="534.2" x2="1001.8" y2="527.1" stroke="#555" stroke-width="0.6"/><text transform="translate(1045.00,383.50)" font-size="16.5" stroke="#000" stroke-width="0.3">0.97 h</text><text transform="translate(1030.00,422.30)" font-size="16.5" stroke="#000" stroke-width="0.3">0.75 h</text><text transform="translate(1010.30,446.40)" font-size="16.5" stroke="#000" stroke-width="0.3">0.5 h</text><text transform="translate(1028.00,493.70)" font-size="16.5" stroke="#000" stroke-width="0.3">0.25 h</text><text transform="translate(1003.00,529.10)" font-size="16.5" stroke="#000" stroke-width="0.3">0 h</text><text transform="translate(978.80,309.00)" font-size="18.4" stroke="#000" stroke-width="0.3">0.4C</text><text transform="translate(982.30,559.30)" font-size="17" stroke="#000" stroke-width="0.35" text-anchor="middle">0.0</text><text transform="translate(1102.00,559.30)" font-size="17" stroke="#000" stroke-width="0.35" text-anchor="middle">0.5</text><text transform="translate(1221.80,559.30)" font-size="17" stroke="#000" stroke-width="0.35" text-anchor="middle">1.0</text><text transform="translate(1103.00,575.00)" font-size="17.6" stroke="#000" stroke-width="0.6" text-anchor="middle" font-style="italic" word-spacing="1.5">x / L</text>
<text transform="translate(616.30,540.40) rotate(-90)" font-size="26.8" fill="#1a76ad" stroke="#1a76ad" stroke-width="0.45" letter-spacing="2.2">放電反応がより進行</text>
<line x1="630" y1="312" x2="630" y2="522" stroke="#1a76ad" stroke-width="3.6"/>
<polygon points="624.6,519.5 635.4,519.5 630,533.2" fill="#1a76ad"/>
<text transform="translate(942.00,537.40) rotate(-90)" font-size="26.8" fill="#ff8552" stroke="#ff8552" stroke-width="0.45" letter-spacing="2.2">充電反応がより進行</text>
<line x1="956.2" y1="318" x2="956.2" y2="530.3" stroke="#ff8552" stroke-width="3.8"/>
<polygon points="951,319.5 961.4,319.5 956.2,309.2" fill="#ff8552"/>
<line x1="649.7" y1="579.8" x2="689" y2="529.3" stroke="#000" stroke-width="1.4" marker-end="url(#mk)"/>
<line x1="1149.4" y1="581.6" x2="1173.8" y2="505" stroke="#000" stroke-width="1.4" marker-end="url(#mk)"/>
<text transform="translate(575.40,605.80) scale(1,0.905)" font-size="25.7" stroke="#000" stroke-width="0.42">固体電解質層側で</text>
<text transform="translate(575.40,635.40) scale(1,0.905)" font-size="25.7" stroke="#000" stroke-width="0.42">優先的に反応が進行</text>
<text transform="translate(909.80,604.20) scale(1,0.905)" font-size="25.65" stroke="#000" stroke-width="0.42"><tspan x="-23.5" dy="-2.6" font-size="20">・</tspan><tspan x="0" dy="2.6">反応分布の不均一性がより顕著に</tspan></text>
<text transform="translate(909.80,634.40) scale(1,0.905)" font-size="25.65" stroke="#000" stroke-width="0.42"><tspan x="-23.5" dy="-2.6" font-size="20">・</tspan><tspan x="0" dy="2.6">集電体側で反応がより一層</tspan></text>
<text transform="translate(909.80,663.80) scale(1,0.905)" font-size="25.65" stroke="#000" stroke-width="0.42">抑制される</text>
</g>
</svg>
</body></html>
